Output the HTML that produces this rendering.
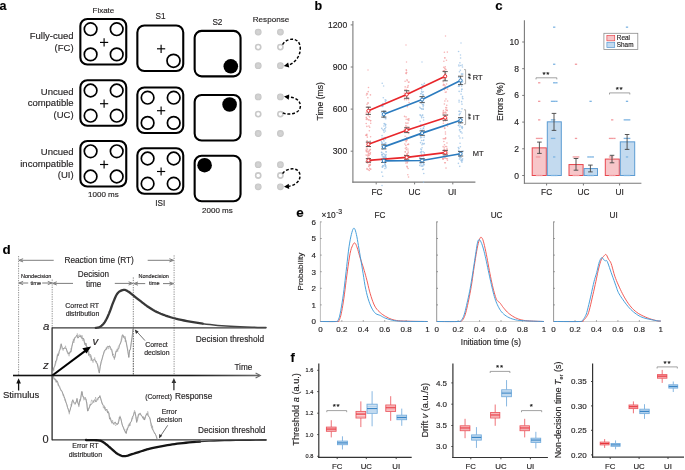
<!DOCTYPE html>
<html><head><meta charset="utf-8"><style>
html,body{margin:0;padding:0;background:#fff;}
svg{display:block;will-change:transform;}
text{font-family:"Liberation Sans", sans-serif;stroke:#222;stroke-width:0.15px;}
</style></head><body>
<svg width="685" height="470" viewBox="0 0 685 470">
<defs><radialGradient id="dotg"><stop offset="0" stop-color="#d6d6d6"/><stop offset="0.7" stop-color="#cdcdcd"/><stop offset="1" stop-color="#c2c2c2"/></radialGradient></defs>
<rect x="0" y="0" width="685" height="470" fill="#fff"/>
<text x="-0.40" y="9.80" font-size="12.5" text-anchor="start" font-weight="bold" font-style="normal" fill="#000" >a</text>
<text x="73.60" y="39.00" font-size="9.5" text-anchor="end" font-weight="normal" font-style="normal" fill="#231f20" >Fully-cued</text>
<text x="73.60" y="50.70" font-size="9.5" text-anchor="end" font-weight="normal" font-style="normal" fill="#231f20" >(FC)</text>
<text x="73.60" y="94.90" font-size="9.5" text-anchor="end" font-weight="normal" font-style="normal" fill="#231f20" >Uncued</text>
<text x="73.60" y="106.40" font-size="9.5" text-anchor="end" font-weight="normal" font-style="normal" fill="#231f20" >compatible</text>
<text x="73.60" y="117.90" font-size="9.5" text-anchor="end" font-weight="normal" font-style="normal" fill="#231f20" >(UC)</text>
<text x="73.60" y="155.30" font-size="9.5" text-anchor="end" font-weight="normal" font-style="normal" fill="#231f20" >Uncued</text>
<text x="73.60" y="166.80" font-size="9.5" text-anchor="end" font-weight="normal" font-style="normal" fill="#231f20" >incompatible</text>
<text x="73.60" y="178.30" font-size="9.5" text-anchor="end" font-weight="normal" font-style="normal" fill="#231f20" >(UI)</text>
<rect x="80.35" y="18.95" width="45.90" height="45.50" rx="7" fill="#fff" stroke="#000" stroke-width="2.1" />
<circle cx="90.60" cy="29.20" r="6.30" fill="none" stroke="#000" stroke-width="1.7" />
<circle cx="90.60" cy="54.40" r="6.30" fill="none" stroke="#000" stroke-width="1.7" />
<circle cx="116.70" cy="29.20" r="6.30" fill="none" stroke="#000" stroke-width="1.7" />
<circle cx="116.70" cy="54.40" r="6.30" fill="none" stroke="#000" stroke-width="1.7" />
<line x1="100.00" y1="42.40" x2="108.20" y2="42.40" stroke="#000" stroke-width="1.15" />
<line x1="104.10" y1="38.30" x2="104.10" y2="46.50" stroke="#000" stroke-width="1.15" />
<rect x="137.35" y="25.55" width="45.90" height="45.50" rx="7" fill="#fff" stroke="#000" stroke-width="2.1" />
<line x1="157.00" y1="48.80" x2="165.20" y2="48.80" stroke="#000" stroke-width="1.15" />
<line x1="161.10" y1="44.70" x2="161.10" y2="52.90" stroke="#000" stroke-width="1.15" />
<circle cx="173.50" cy="60.80" r="6.50" fill="none" stroke="#000" stroke-width="1.7" />
<rect x="194.65" y="30.85" width="45.90" height="45.50" rx="7" fill="#fff" stroke="#000" stroke-width="2.1" />
<circle cx="230.80" cy="66.30" r="7.30" fill="#000" stroke="none" stroke-width="1" />
<rect x="80.35" y="80.25" width="45.90" height="45.50" rx="7" fill="#fff" stroke="#000" stroke-width="2.1" />
<circle cx="90.60" cy="90.50" r="6.30" fill="none" stroke="#000" stroke-width="1.7" />
<circle cx="90.60" cy="115.70" r="6.30" fill="none" stroke="#000" stroke-width="1.7" />
<circle cx="116.70" cy="90.50" r="6.30" fill="none" stroke="#000" stroke-width="1.7" />
<circle cx="116.70" cy="115.70" r="6.30" fill="none" stroke="#000" stroke-width="1.7" />
<line x1="100.00" y1="103.70" x2="108.20" y2="103.70" stroke="#000" stroke-width="1.15" />
<line x1="104.10" y1="99.60" x2="104.10" y2="107.80" stroke="#000" stroke-width="1.15" />
<rect x="137.35" y="87.45" width="45.90" height="45.50" rx="7" fill="#fff" stroke="#000" stroke-width="2.1" />
<line x1="157.00" y1="110.70" x2="165.20" y2="110.70" stroke="#000" stroke-width="1.15" />
<line x1="161.10" y1="106.60" x2="161.10" y2="114.80" stroke="#000" stroke-width="1.15" />
<circle cx="147.60" cy="97.70" r="6.30" fill="none" stroke="#000" stroke-width="1.7" />
<circle cx="147.60" cy="122.90" r="6.30" fill="none" stroke="#000" stroke-width="1.7" />
<circle cx="173.70" cy="97.70" r="6.30" fill="none" stroke="#000" stroke-width="1.7" />
<circle cx="173.70" cy="122.90" r="6.30" fill="none" stroke="#000" stroke-width="1.7" />
<rect x="194.65" y="94.95" width="45.90" height="45.50" rx="7" fill="#fff" stroke="#000" stroke-width="2.1" />
<circle cx="229.60" cy="104.50" r="7.30" fill="#000" stroke="none" stroke-width="1" />
<rect x="80.35" y="141.05" width="45.90" height="45.50" rx="7" fill="#fff" stroke="#000" stroke-width="2.1" />
<circle cx="90.60" cy="151.30" r="6.30" fill="none" stroke="#000" stroke-width="1.7" />
<circle cx="90.60" cy="176.50" r="6.30" fill="none" stroke="#000" stroke-width="1.7" />
<circle cx="116.70" cy="151.30" r="6.30" fill="none" stroke="#000" stroke-width="1.7" />
<circle cx="116.70" cy="176.50" r="6.30" fill="none" stroke="#000" stroke-width="1.7" />
<line x1="100.00" y1="164.50" x2="108.20" y2="164.50" stroke="#000" stroke-width="1.15" />
<line x1="104.10" y1="160.40" x2="104.10" y2="168.60" stroke="#000" stroke-width="1.15" />
<rect x="137.35" y="148.25" width="45.90" height="45.50" rx="7" fill="#fff" stroke="#000" stroke-width="2.1" />
<line x1="157.00" y1="171.50" x2="165.20" y2="171.50" stroke="#000" stroke-width="1.15" />
<line x1="161.10" y1="167.40" x2="161.10" y2="175.60" stroke="#000" stroke-width="1.15" />
<circle cx="147.60" cy="158.50" r="6.30" fill="none" stroke="#000" stroke-width="1.7" />
<circle cx="147.60" cy="183.70" r="6.30" fill="none" stroke="#000" stroke-width="1.7" />
<circle cx="173.70" cy="158.50" r="6.30" fill="none" stroke="#000" stroke-width="1.7" />
<circle cx="173.70" cy="183.70" r="6.30" fill="none" stroke="#000" stroke-width="1.7" />
<rect x="194.65" y="155.75" width="45.90" height="45.50" rx="7" fill="#fff" stroke="#000" stroke-width="2.1" />
<circle cx="204.60" cy="165.20" r="7.30" fill="#000" stroke="none" stroke-width="1" />
<text x="103.40" y="13.00" font-size="8.0" text-anchor="middle" font-weight="normal" font-style="normal" fill="#231f20" >Fixate</text>
<text x="160.60" y="18.80" font-size="8.2" text-anchor="middle" font-weight="normal" font-style="normal" fill="#231f20" >S1</text>
<text x="217.40" y="25.30" font-size="8.2" text-anchor="middle" font-weight="normal" font-style="normal" fill="#231f20" >S2</text>
<text x="271.00" y="22.40" font-size="8.1" text-anchor="middle" font-weight="normal" font-style="normal" fill="#231f20" >Response</text>
<text x="103.40" y="197.40" font-size="8.0" text-anchor="middle" font-weight="normal" font-style="normal" fill="#231f20" >1000 ms</text>
<text x="160.30" y="206.10" font-size="8.2" text-anchor="middle" font-weight="normal" font-style="normal" fill="#231f20" >ISI</text>
<text x="217.40" y="212.80" font-size="8.0" text-anchor="middle" font-weight="normal" font-style="normal" fill="#231f20" >2000 ms</text>
<circle cx="258.20" cy="32.10" r="3.40" fill="url(#dotg)" stroke="none" stroke-width="1" />
<circle cx="258.20" cy="47.10" r="2.60" fill="#fff" stroke="#c9c9c9" stroke-width="1.6" />
<circle cx="258.20" cy="65.70" r="3.40" fill="url(#dotg)" stroke="none" stroke-width="1" />
<circle cx="280.40" cy="32.10" r="3.40" fill="url(#dotg)" stroke="none" stroke-width="1" />
<circle cx="280.40" cy="47.10" r="2.60" fill="#fff" stroke="#c9c9c9" stroke-width="1.6" />
<circle cx="280.40" cy="65.70" r="3.40" fill="url(#dotg)" stroke="none" stroke-width="1" />
<circle cx="258.20" cy="96.90" r="3.40" fill="url(#dotg)" stroke="none" stroke-width="1" />
<circle cx="258.20" cy="114.10" r="2.60" fill="#fff" stroke="#c9c9c9" stroke-width="1.6" />
<circle cx="258.20" cy="133.50" r="3.40" fill="url(#dotg)" stroke="none" stroke-width="1" />
<circle cx="280.40" cy="96.90" r="3.40" fill="url(#dotg)" stroke="none" stroke-width="1" />
<circle cx="280.40" cy="114.10" r="2.60" fill="#fff" stroke="#c9c9c9" stroke-width="1.6" />
<circle cx="280.40" cy="133.50" r="3.40" fill="url(#dotg)" stroke="none" stroke-width="1" />
<circle cx="258.20" cy="164.70" r="3.40" fill="url(#dotg)" stroke="none" stroke-width="1" />
<circle cx="258.20" cy="175.50" r="2.60" fill="#fff" stroke="#c9c9c9" stroke-width="1.6" />
<circle cx="258.20" cy="186.80" r="3.40" fill="url(#dotg)" stroke="none" stroke-width="1" />
<circle cx="280.40" cy="164.70" r="3.40" fill="url(#dotg)" stroke="none" stroke-width="1" />
<circle cx="280.40" cy="175.50" r="2.60" fill="#fff" stroke="#c9c9c9" stroke-width="1.6" />
<circle cx="280.40" cy="186.80" r="3.40" fill="url(#dotg)" stroke="none" stroke-width="1" />
<path d="M282.6,44.6 C286,38 299,36 300.2,47 C301,57 294,63 288.5,65.3" fill="none" stroke="#000" stroke-width="1.45" stroke-dasharray="2.9,1.8"/>
<polygon points="283.80,66.00 289.23,67.50 288.15,62.42" fill="#000"/>
<path d="M282.8,112.8 C290,116 300.5,113 300.4,106 C300,99 294,97.5 289,97" fill="none" stroke="#000" stroke-width="1.45" stroke-dasharray="2.9,1.8"/>
<polygon points="284.00,96.60 288.75,99.63 289.21,94.45" fill="#000"/>
<path d="M282.6,173.6 C286,168 299,166 300,175 C300.5,182 294,185.5 289,186.2" fill="none" stroke="#000" stroke-width="1.45" stroke-dasharray="2.9,1.8"/>
<polygon points="284.00,186.80 289.21,188.95 288.75,183.77" fill="#000"/>
<text x="314.60" y="9.80" font-size="12.5" text-anchor="start" font-weight="bold" font-style="normal" fill="#000" >b</text>
<line x1="352.90" y1="21.00" x2="352.90" y2="182.70" stroke="#7a7a7a" stroke-width="1.1" />
<line x1="352.40" y1="182.20" x2="475.40" y2="182.20" stroke="#7a7a7a" stroke-width="1.2" />
<line x1="350.70" y1="151.20" x2="352.90" y2="151.20" stroke="#7a7a7a" stroke-width="1" />
<text x="347.20" y="154.20" font-size="8.6" text-anchor="end" font-weight="normal" font-style="normal" fill="#231f20" >300</text>
<line x1="350.70" y1="109.10" x2="352.90" y2="109.10" stroke="#7a7a7a" stroke-width="1" />
<text x="347.20" y="112.10" font-size="8.6" text-anchor="end" font-weight="normal" font-style="normal" fill="#231f20" >600</text>
<line x1="350.70" y1="67.00" x2="352.90" y2="67.00" stroke="#7a7a7a" stroke-width="1" />
<text x="347.20" y="70.00" font-size="8.6" text-anchor="end" font-weight="normal" font-style="normal" fill="#231f20" >900</text>
<line x1="350.70" y1="24.90" x2="352.90" y2="24.90" stroke="#7a7a7a" stroke-width="1" />
<text x="347.20" y="27.90" font-size="8.6" text-anchor="end" font-weight="normal" font-style="normal" fill="#231f20" >1200</text>
<line x1="376.20" y1="182.20" x2="376.20" y2="184.40" stroke="#7a7a7a" stroke-width="1" />
<text x="377.00" y="195.00" font-size="8.3" text-anchor="middle" font-weight="normal" font-style="normal" fill="#231f20" >FC</text>
<line x1="414.60" y1="182.20" x2="414.60" y2="184.40" stroke="#7a7a7a" stroke-width="1" />
<text x="414.60" y="195.00" font-size="8.3" text-anchor="middle" font-weight="normal" font-style="normal" fill="#231f20" >UC</text>
<line x1="452.80" y1="182.20" x2="452.80" y2="184.40" stroke="#7a7a7a" stroke-width="1" />
<text x="452.20" y="195.00" font-size="8.3" text-anchor="middle" font-weight="normal" font-style="normal" fill="#231f20" >UI</text>
<text x="0.00" y="0.00" font-size="8.6" text-anchor="middle" font-weight="normal" font-style="normal" fill="#231f20" transform="translate(322.5,101.3) rotate(-90)">Time (ms)</text>
<circle cx="370.44" cy="94.89" r="0.80" fill="#f4a0a3" stroke="none" stroke-width="1" opacity="0.8"/>
<circle cx="368.24" cy="115.71" r="0.80" fill="#f4a0a3" stroke="none" stroke-width="1" opacity="0.8"/>
<circle cx="366.89" cy="93.52" r="0.80" fill="#f4a0a3" stroke="none" stroke-width="1" opacity="0.8"/>
<circle cx="368.46" cy="109.95" r="0.80" fill="#f4a0a3" stroke="none" stroke-width="1" opacity="0.8"/>
<circle cx="366.45" cy="94.99" r="0.80" fill="#f4a0a3" stroke="none" stroke-width="1" opacity="0.8"/>
<circle cx="367.46" cy="93.99" r="0.80" fill="#f4a0a3" stroke="none" stroke-width="1" opacity="0.8"/>
<circle cx="369.33" cy="130.74" r="0.80" fill="#f4a0a3" stroke="none" stroke-width="1" opacity="0.8"/>
<circle cx="366.20" cy="123.57" r="0.80" fill="#f4a0a3" stroke="none" stroke-width="1" opacity="0.8"/>
<circle cx="369.14" cy="144.22" r="0.80" fill="#f4a0a3" stroke="none" stroke-width="1" opacity="0.8"/>
<circle cx="368.95" cy="107.05" r="0.80" fill="#f4a0a3" stroke="none" stroke-width="1" opacity="0.8"/>
<circle cx="368.54" cy="112.04" r="0.80" fill="#f4a0a3" stroke="none" stroke-width="1" opacity="0.8"/>
<circle cx="366.29" cy="112.69" r="0.80" fill="#f4a0a3" stroke="none" stroke-width="1" opacity="0.8"/>
<circle cx="366.14" cy="114.35" r="0.80" fill="#f4a0a3" stroke="none" stroke-width="1" opacity="0.8"/>
<circle cx="368.23" cy="119.80" r="0.80" fill="#f4a0a3" stroke="none" stroke-width="1" opacity="0.8"/>
<circle cx="368.49" cy="87.53" r="0.80" fill="#f4a0a3" stroke="none" stroke-width="1" opacity="0.8"/>
<circle cx="369.07" cy="119.92" r="0.80" fill="#f4a0a3" stroke="none" stroke-width="1" opacity="0.8"/>
<circle cx="368.20" cy="91.64" r="0.80" fill="#f4a0a3" stroke="none" stroke-width="1" opacity="0.8"/>
<circle cx="367.34" cy="110.83" r="0.80" fill="#f4a0a3" stroke="none" stroke-width="1" opacity="0.8"/>
<circle cx="370.03" cy="153.70" r="0.80" fill="#f4a0a3" stroke="none" stroke-width="1" opacity="0.8"/>
<circle cx="369.40" cy="110.17" r="0.80" fill="#f4a0a3" stroke="none" stroke-width="1" opacity="0.8"/>
<circle cx="367.39" cy="107.06" r="0.80" fill="#f4a0a3" stroke="none" stroke-width="1" opacity="0.8"/>
<circle cx="366.34" cy="119.41" r="0.80" fill="#f4a0a3" stroke="none" stroke-width="1" opacity="0.8"/>
<circle cx="370.06" cy="112.14" r="0.80" fill="#f4a0a3" stroke="none" stroke-width="1" opacity="0.8"/>
<circle cx="367.86" cy="97.72" r="0.80" fill="#f4a0a3" stroke="none" stroke-width="1" opacity="0.8"/>
<circle cx="366.00" cy="135.13" r="0.80" fill="#f4a0a3" stroke="none" stroke-width="1" opacity="0.8"/>
<circle cx="367.01" cy="104.23" r="0.80" fill="#f4a0a3" stroke="none" stroke-width="1" opacity="0.8"/>
<circle cx="370.71" cy="123.18" r="0.80" fill="#f4a0a3" stroke="none" stroke-width="1" opacity="0.8"/>
<circle cx="367.91" cy="102.97" r="0.80" fill="#f4a0a3" stroke="none" stroke-width="1" opacity="0.8"/>
<circle cx="369.74" cy="127.22" r="0.80" fill="#f4a0a3" stroke="none" stroke-width="1" opacity="0.8"/>
<circle cx="367.29" cy="118.91" r="0.80" fill="#f4a0a3" stroke="none" stroke-width="1" opacity="0.8"/>
<circle cx="370.63" cy="120.78" r="0.80" fill="#f4a0a3" stroke="none" stroke-width="1" opacity="0.8"/>
<circle cx="369.64" cy="116.89" r="0.80" fill="#f4a0a3" stroke="none" stroke-width="1" opacity="0.8"/>
<circle cx="366.49" cy="118.01" r="0.80" fill="#f4a0a3" stroke="none" stroke-width="1" opacity="0.8"/>
<circle cx="366.29" cy="117.40" r="0.80" fill="#f4a0a3" stroke="none" stroke-width="1" opacity="0.8"/>
<circle cx="368.68" cy="113.17" r="0.80" fill="#f4a0a3" stroke="none" stroke-width="1" opacity="0.8"/>
<circle cx="368.15" cy="103.02" r="0.80" fill="#f4a0a3" stroke="none" stroke-width="1" opacity="0.8"/>
<circle cx="366.63" cy="150.21" r="0.80" fill="#f4a0a3" stroke="none" stroke-width="1" opacity="0.8"/>
<circle cx="369.09" cy="159.41" r="0.80" fill="#f4a0a3" stroke="none" stroke-width="1" opacity="0.8"/>
<circle cx="367.02" cy="152.07" r="0.80" fill="#f4a0a3" stroke="none" stroke-width="1" opacity="0.8"/>
<circle cx="367.30" cy="151.28" r="0.80" fill="#f4a0a3" stroke="none" stroke-width="1" opacity="0.8"/>
<circle cx="367.46" cy="162.04" r="0.80" fill="#f4a0a3" stroke="none" stroke-width="1" opacity="0.8"/>
<circle cx="370.25" cy="141.02" r="0.80" fill="#f4a0a3" stroke="none" stroke-width="1" opacity="0.8"/>
<circle cx="370.10" cy="146.75" r="0.80" fill="#f4a0a3" stroke="none" stroke-width="1" opacity="0.8"/>
<circle cx="369.08" cy="154.01" r="0.80" fill="#f4a0a3" stroke="none" stroke-width="1" opacity="0.8"/>
<circle cx="367.02" cy="168.63" r="0.80" fill="#f4a0a3" stroke="none" stroke-width="1" opacity="0.8"/>
<circle cx="367.24" cy="162.06" r="0.80" fill="#f4a0a3" stroke="none" stroke-width="1" opacity="0.8"/>
<circle cx="367.42" cy="145.57" r="0.80" fill="#f4a0a3" stroke="none" stroke-width="1" opacity="0.8"/>
<circle cx="366.35" cy="135.46" r="0.80" fill="#f4a0a3" stroke="none" stroke-width="1" opacity="0.8"/>
<circle cx="367.17" cy="155.46" r="0.80" fill="#f4a0a3" stroke="none" stroke-width="1" opacity="0.8"/>
<circle cx="368.89" cy="151.39" r="0.80" fill="#f4a0a3" stroke="none" stroke-width="1" opacity="0.8"/>
<circle cx="370.60" cy="136.69" r="0.80" fill="#f4a0a3" stroke="none" stroke-width="1" opacity="0.8"/>
<circle cx="368.32" cy="152.23" r="0.80" fill="#f4a0a3" stroke="none" stroke-width="1" opacity="0.8"/>
<circle cx="366.88" cy="126.39" r="0.80" fill="#f4a0a3" stroke="none" stroke-width="1" opacity="0.8"/>
<circle cx="366.74" cy="135.24" r="0.80" fill="#f4a0a3" stroke="none" stroke-width="1" opacity="0.8"/>
<circle cx="367.20" cy="159.78" r="0.80" fill="#f4a0a3" stroke="none" stroke-width="1" opacity="0.8"/>
<circle cx="366.91" cy="134.26" r="0.80" fill="#f4a0a3" stroke="none" stroke-width="1" opacity="0.8"/>
<circle cx="366.94" cy="142.72" r="0.80" fill="#f4a0a3" stroke="none" stroke-width="1" opacity="0.8"/>
<circle cx="370.56" cy="120.60" r="0.80" fill="#f4a0a3" stroke="none" stroke-width="1" opacity="0.8"/>
<circle cx="368.02" cy="154.34" r="0.80" fill="#f4a0a3" stroke="none" stroke-width="1" opacity="0.8"/>
<circle cx="366.50" cy="135.13" r="0.80" fill="#f4a0a3" stroke="none" stroke-width="1" opacity="0.8"/>
<circle cx="367.14" cy="169.19" r="0.80" fill="#f4a0a3" stroke="none" stroke-width="1" opacity="0.8"/>
<circle cx="369.38" cy="150.47" r="0.80" fill="#f4a0a3" stroke="none" stroke-width="1" opacity="0.8"/>
<circle cx="368.86" cy="143.48" r="0.80" fill="#f4a0a3" stroke="none" stroke-width="1" opacity="0.8"/>
<circle cx="367.41" cy="162.91" r="0.80" fill="#f4a0a3" stroke="none" stroke-width="1" opacity="0.8"/>
<circle cx="366.33" cy="151.51" r="0.80" fill="#f4a0a3" stroke="none" stroke-width="1" opacity="0.8"/>
<circle cx="367.10" cy="158.54" r="0.80" fill="#f4a0a3" stroke="none" stroke-width="1" opacity="0.8"/>
<circle cx="368.95" cy="126.08" r="0.80" fill="#f4a0a3" stroke="none" stroke-width="1" opacity="0.8"/>
<circle cx="367.35" cy="137.17" r="0.80" fill="#f4a0a3" stroke="none" stroke-width="1" opacity="0.8"/>
<circle cx="366.08" cy="150.16" r="0.80" fill="#f4a0a3" stroke="none" stroke-width="1" opacity="0.8"/>
<circle cx="367.29" cy="140.95" r="0.80" fill="#f4a0a3" stroke="none" stroke-width="1" opacity="0.8"/>
<circle cx="366.85" cy="140.97" r="0.80" fill="#f4a0a3" stroke="none" stroke-width="1" opacity="0.8"/>
<circle cx="367.77" cy="145.48" r="0.80" fill="#f4a0a3" stroke="none" stroke-width="1" opacity="0.8"/>
<circle cx="367.74" cy="157.06" r="0.80" fill="#f4a0a3" stroke="none" stroke-width="1" opacity="0.8"/>
<circle cx="370.28" cy="158.77" r="0.80" fill="#f4a0a3" stroke="none" stroke-width="1" opacity="0.8"/>
<circle cx="369.32" cy="170.56" r="0.80" fill="#f4a0a3" stroke="none" stroke-width="1" opacity="0.8"/>
<circle cx="368.81" cy="159.15" r="0.80" fill="#f4a0a3" stroke="none" stroke-width="1" opacity="0.8"/>
<circle cx="366.09" cy="161.59" r="0.80" fill="#f4a0a3" stroke="none" stroke-width="1" opacity="0.8"/>
<circle cx="370.37" cy="161.84" r="0.80" fill="#f4a0a3" stroke="none" stroke-width="1" opacity="0.8"/>
<circle cx="366.10" cy="154.95" r="0.80" fill="#f4a0a3" stroke="none" stroke-width="1" opacity="0.8"/>
<circle cx="369.05" cy="143.29" r="0.80" fill="#f4a0a3" stroke="none" stroke-width="1" opacity="0.8"/>
<circle cx="367.53" cy="149.13" r="0.80" fill="#f4a0a3" stroke="none" stroke-width="1" opacity="0.8"/>
<circle cx="370.80" cy="161.66" r="0.80" fill="#f4a0a3" stroke="none" stroke-width="1" opacity="0.8"/>
<circle cx="369.54" cy="168.23" r="0.80" fill="#f4a0a3" stroke="none" stroke-width="1" opacity="0.8"/>
<circle cx="370.32" cy="164.41" r="0.80" fill="#f4a0a3" stroke="none" stroke-width="1" opacity="0.8"/>
<circle cx="369.81" cy="159.52" r="0.80" fill="#f4a0a3" stroke="none" stroke-width="1" opacity="0.8"/>
<circle cx="370.39" cy="149.52" r="0.80" fill="#f4a0a3" stroke="none" stroke-width="1" opacity="0.8"/>
<circle cx="370.32" cy="154.05" r="0.80" fill="#f4a0a3" stroke="none" stroke-width="1" opacity="0.8"/>
<circle cx="370.18" cy="168.94" r="0.80" fill="#f4a0a3" stroke="none" stroke-width="1" opacity="0.8"/>
<circle cx="370.14" cy="149.66" r="0.80" fill="#f4a0a3" stroke="none" stroke-width="1" opacity="0.8"/>
<circle cx="368.75" cy="166.56" r="0.80" fill="#f4a0a3" stroke="none" stroke-width="1" opacity="0.8"/>
<circle cx="368.80" cy="155.54" r="0.80" fill="#f4a0a3" stroke="none" stroke-width="1" opacity="0.8"/>
<circle cx="368.92" cy="155.54" r="0.80" fill="#f4a0a3" stroke="none" stroke-width="1" opacity="0.8"/>
<circle cx="370.77" cy="169.16" r="0.80" fill="#f4a0a3" stroke="none" stroke-width="1" opacity="0.8"/>
<circle cx="370.22" cy="165.23" r="0.80" fill="#f4a0a3" stroke="none" stroke-width="1" opacity="0.8"/>
<circle cx="369.53" cy="159.45" r="0.80" fill="#f4a0a3" stroke="none" stroke-width="1" opacity="0.8"/>
<circle cx="368.79" cy="153.52" r="0.80" fill="#f4a0a3" stroke="none" stroke-width="1" opacity="0.8"/>
<circle cx="366.40" cy="147.96" r="0.80" fill="#f4a0a3" stroke="none" stroke-width="1" opacity="0.8"/>
<circle cx="369.60" cy="165.28" r="0.80" fill="#f4a0a3" stroke="none" stroke-width="1" opacity="0.8"/>
<circle cx="368.31" cy="169.73" r="0.80" fill="#f4a0a3" stroke="none" stroke-width="1" opacity="0.8"/>
<circle cx="367.11" cy="162.17" r="0.80" fill="#f4a0a3" stroke="none" stroke-width="1" opacity="0.8"/>
<circle cx="368.95" cy="157.78" r="0.80" fill="#f4a0a3" stroke="none" stroke-width="1" opacity="0.8"/>
<circle cx="370.42" cy="152.62" r="0.80" fill="#f4a0a3" stroke="none" stroke-width="1" opacity="0.8"/>
<circle cx="367.44" cy="160.36" r="0.80" fill="#f4a0a3" stroke="none" stroke-width="1" opacity="0.8"/>
<circle cx="369.26" cy="161.45" r="0.80" fill="#f4a0a3" stroke="none" stroke-width="1" opacity="0.8"/>
<circle cx="370.35" cy="161.65" r="0.80" fill="#f4a0a3" stroke="none" stroke-width="1" opacity="0.8"/>
<circle cx="369.17" cy="164.48" r="0.80" fill="#f4a0a3" stroke="none" stroke-width="1" opacity="0.8"/>
<circle cx="367.57" cy="146.61" r="0.80" fill="#f4a0a3" stroke="none" stroke-width="1" opacity="0.8"/>
<circle cx="369.20" cy="165.67" r="0.80" fill="#f4a0a3" stroke="none" stroke-width="1" opacity="0.8"/>
<circle cx="385.27" cy="118.59" r="0.80" fill="#9cc3e6" stroke="none" stroke-width="1" opacity="0.8"/>
<circle cx="385.79" cy="127.29" r="0.80" fill="#9cc3e6" stroke="none" stroke-width="1" opacity="0.8"/>
<circle cx="384.20" cy="123.55" r="0.80" fill="#9cc3e6" stroke="none" stroke-width="1" opacity="0.8"/>
<circle cx="382.92" cy="105.45" r="0.80" fill="#9cc3e6" stroke="none" stroke-width="1" opacity="0.8"/>
<circle cx="385.42" cy="124.19" r="0.80" fill="#9cc3e6" stroke="none" stroke-width="1" opacity="0.8"/>
<circle cx="385.47" cy="125.70" r="0.80" fill="#9cc3e6" stroke="none" stroke-width="1" opacity="0.8"/>
<circle cx="382.73" cy="106.52" r="0.80" fill="#9cc3e6" stroke="none" stroke-width="1" opacity="0.8"/>
<circle cx="382.21" cy="83.32" r="0.80" fill="#9cc3e6" stroke="none" stroke-width="1" opacity="0.8"/>
<circle cx="382.43" cy="104.27" r="0.80" fill="#9cc3e6" stroke="none" stroke-width="1" opacity="0.8"/>
<circle cx="383.39" cy="117.38" r="0.80" fill="#9cc3e6" stroke="none" stroke-width="1" opacity="0.8"/>
<circle cx="382.91" cy="103.52" r="0.80" fill="#9cc3e6" stroke="none" stroke-width="1" opacity="0.8"/>
<circle cx="385.43" cy="103.42" r="0.80" fill="#9cc3e6" stroke="none" stroke-width="1" opacity="0.8"/>
<circle cx="381.76" cy="128.38" r="0.80" fill="#9cc3e6" stroke="none" stroke-width="1" opacity="0.8"/>
<circle cx="381.55" cy="112.59" r="0.80" fill="#9cc3e6" stroke="none" stroke-width="1" opacity="0.8"/>
<circle cx="384.80" cy="116.84" r="0.80" fill="#9cc3e6" stroke="none" stroke-width="1" opacity="0.8"/>
<circle cx="384.14" cy="111.49" r="0.80" fill="#9cc3e6" stroke="none" stroke-width="1" opacity="0.8"/>
<circle cx="381.49" cy="105.86" r="0.80" fill="#9cc3e6" stroke="none" stroke-width="1" opacity="0.8"/>
<circle cx="382.05" cy="135.66" r="0.80" fill="#9cc3e6" stroke="none" stroke-width="1" opacity="0.8"/>
<circle cx="385.38" cy="111.41" r="0.80" fill="#9cc3e6" stroke="none" stroke-width="1" opacity="0.8"/>
<circle cx="382.54" cy="115.01" r="0.80" fill="#9cc3e6" stroke="none" stroke-width="1" opacity="0.8"/>
<circle cx="384.42" cy="116.75" r="0.80" fill="#9cc3e6" stroke="none" stroke-width="1" opacity="0.8"/>
<circle cx="383.54" cy="117.32" r="0.80" fill="#9cc3e6" stroke="none" stroke-width="1" opacity="0.8"/>
<circle cx="385.28" cy="101.21" r="0.80" fill="#9cc3e6" stroke="none" stroke-width="1" opacity="0.8"/>
<circle cx="386.00" cy="100.38" r="0.80" fill="#9cc3e6" stroke="none" stroke-width="1" opacity="0.8"/>
<circle cx="383.68" cy="110.73" r="0.80" fill="#9cc3e6" stroke="none" stroke-width="1" opacity="0.8"/>
<circle cx="382.26" cy="106.26" r="0.80" fill="#9cc3e6" stroke="none" stroke-width="1" opacity="0.8"/>
<circle cx="384.83" cy="128.86" r="0.80" fill="#9cc3e6" stroke="none" stroke-width="1" opacity="0.8"/>
<circle cx="382.26" cy="115.19" r="0.80" fill="#9cc3e6" stroke="none" stroke-width="1" opacity="0.8"/>
<circle cx="384.75" cy="112.52" r="0.80" fill="#9cc3e6" stroke="none" stroke-width="1" opacity="0.8"/>
<circle cx="383.90" cy="126.06" r="0.80" fill="#9cc3e6" stroke="none" stroke-width="1" opacity="0.8"/>
<circle cx="383.29" cy="97.77" r="0.80" fill="#9cc3e6" stroke="none" stroke-width="1" opacity="0.8"/>
<circle cx="385.20" cy="99.81" r="0.80" fill="#9cc3e6" stroke="none" stroke-width="1" opacity="0.8"/>
<circle cx="385.88" cy="118.82" r="0.80" fill="#9cc3e6" stroke="none" stroke-width="1" opacity="0.8"/>
<circle cx="384.87" cy="111.11" r="0.80" fill="#9cc3e6" stroke="none" stroke-width="1" opacity="0.8"/>
<circle cx="384.40" cy="123.99" r="0.80" fill="#9cc3e6" stroke="none" stroke-width="1" opacity="0.8"/>
<circle cx="385.77" cy="124.61" r="0.80" fill="#9cc3e6" stroke="none" stroke-width="1" opacity="0.8"/>
<circle cx="385.62" cy="137.62" r="0.80" fill="#9cc3e6" stroke="none" stroke-width="1" opacity="0.8"/>
<circle cx="385.22" cy="155.97" r="0.80" fill="#9cc3e6" stroke="none" stroke-width="1" opacity="0.8"/>
<circle cx="384.53" cy="157.39" r="0.80" fill="#9cc3e6" stroke="none" stroke-width="1" opacity="0.8"/>
<circle cx="382.38" cy="143.07" r="0.80" fill="#9cc3e6" stroke="none" stroke-width="1" opacity="0.8"/>
<circle cx="384.48" cy="143.66" r="0.80" fill="#9cc3e6" stroke="none" stroke-width="1" opacity="0.8"/>
<circle cx="384.84" cy="128.72" r="0.80" fill="#9cc3e6" stroke="none" stroke-width="1" opacity="0.8"/>
<circle cx="386.11" cy="151.80" r="0.80" fill="#9cc3e6" stroke="none" stroke-width="1" opacity="0.8"/>
<circle cx="386.09" cy="167.79" r="0.80" fill="#9cc3e6" stroke="none" stroke-width="1" opacity="0.8"/>
<circle cx="382.94" cy="129.69" r="0.80" fill="#9cc3e6" stroke="none" stroke-width="1" opacity="0.8"/>
<circle cx="385.77" cy="142.83" r="0.80" fill="#9cc3e6" stroke="none" stroke-width="1" opacity="0.8"/>
<circle cx="381.80" cy="152.61" r="0.80" fill="#9cc3e6" stroke="none" stroke-width="1" opacity="0.8"/>
<circle cx="383.52" cy="139.61" r="0.80" fill="#9cc3e6" stroke="none" stroke-width="1" opacity="0.8"/>
<circle cx="383.74" cy="130.65" r="0.80" fill="#9cc3e6" stroke="none" stroke-width="1" opacity="0.8"/>
<circle cx="381.54" cy="141.59" r="0.80" fill="#9cc3e6" stroke="none" stroke-width="1" opacity="0.8"/>
<circle cx="385.24" cy="148.22" r="0.80" fill="#9cc3e6" stroke="none" stroke-width="1" opacity="0.8"/>
<circle cx="382.23" cy="143.51" r="0.80" fill="#9cc3e6" stroke="none" stroke-width="1" opacity="0.8"/>
<circle cx="382.07" cy="137.93" r="0.80" fill="#9cc3e6" stroke="none" stroke-width="1" opacity="0.8"/>
<circle cx="382.11" cy="162.06" r="0.80" fill="#9cc3e6" stroke="none" stroke-width="1" opacity="0.8"/>
<circle cx="385.43" cy="130.95" r="0.80" fill="#9cc3e6" stroke="none" stroke-width="1" opacity="0.8"/>
<circle cx="384.71" cy="145.24" r="0.80" fill="#9cc3e6" stroke="none" stroke-width="1" opacity="0.8"/>
<circle cx="385.96" cy="157.88" r="0.80" fill="#9cc3e6" stroke="none" stroke-width="1" opacity="0.8"/>
<circle cx="381.81" cy="143.01" r="0.80" fill="#9cc3e6" stroke="none" stroke-width="1" opacity="0.8"/>
<circle cx="382.79" cy="149.08" r="0.80" fill="#9cc3e6" stroke="none" stroke-width="1" opacity="0.8"/>
<circle cx="384.90" cy="158.93" r="0.80" fill="#9cc3e6" stroke="none" stroke-width="1" opacity="0.8"/>
<circle cx="385.45" cy="139.08" r="0.80" fill="#9cc3e6" stroke="none" stroke-width="1" opacity="0.8"/>
<circle cx="384.09" cy="137.58" r="0.80" fill="#9cc3e6" stroke="none" stroke-width="1" opacity="0.8"/>
<circle cx="385.46" cy="143.20" r="0.80" fill="#9cc3e6" stroke="none" stroke-width="1" opacity="0.8"/>
<circle cx="385.72" cy="155.97" r="0.80" fill="#9cc3e6" stroke="none" stroke-width="1" opacity="0.8"/>
<circle cx="386.05" cy="151.96" r="0.80" fill="#9cc3e6" stroke="none" stroke-width="1" opacity="0.8"/>
<circle cx="383.92" cy="165.74" r="0.80" fill="#9cc3e6" stroke="none" stroke-width="1" opacity="0.8"/>
<circle cx="383.97" cy="140.89" r="0.80" fill="#9cc3e6" stroke="none" stroke-width="1" opacity="0.8"/>
<circle cx="383.82" cy="143.93" r="0.80" fill="#9cc3e6" stroke="none" stroke-width="1" opacity="0.8"/>
<circle cx="386.05" cy="145.03" r="0.80" fill="#9cc3e6" stroke="none" stroke-width="1" opacity="0.8"/>
<circle cx="383.88" cy="145.44" r="0.80" fill="#9cc3e6" stroke="none" stroke-width="1" opacity="0.8"/>
<circle cx="384.10" cy="132.32" r="0.80" fill="#9cc3e6" stroke="none" stroke-width="1" opacity="0.8"/>
<circle cx="383.76" cy="157.41" r="0.80" fill="#9cc3e6" stroke="none" stroke-width="1" opacity="0.8"/>
<circle cx="383.99" cy="159.96" r="0.80" fill="#9cc3e6" stroke="none" stroke-width="1" opacity="0.8"/>
<circle cx="383.39" cy="158.49" r="0.80" fill="#9cc3e6" stroke="none" stroke-width="1" opacity="0.8"/>
<circle cx="382.69" cy="176.19" r="0.80" fill="#9cc3e6" stroke="none" stroke-width="1" opacity="0.8"/>
<circle cx="383.67" cy="156.65" r="0.80" fill="#9cc3e6" stroke="none" stroke-width="1" opacity="0.8"/>
<circle cx="385.32" cy="166.11" r="0.80" fill="#9cc3e6" stroke="none" stroke-width="1" opacity="0.8"/>
<circle cx="385.72" cy="166.24" r="0.80" fill="#9cc3e6" stroke="none" stroke-width="1" opacity="0.8"/>
<circle cx="382.32" cy="154.85" r="0.80" fill="#9cc3e6" stroke="none" stroke-width="1" opacity="0.8"/>
<circle cx="384.37" cy="161.80" r="0.80" fill="#9cc3e6" stroke="none" stroke-width="1" opacity="0.8"/>
<circle cx="385.14" cy="164.19" r="0.80" fill="#9cc3e6" stroke="none" stroke-width="1" opacity="0.8"/>
<circle cx="381.51" cy="159.23" r="0.80" fill="#9cc3e6" stroke="none" stroke-width="1" opacity="0.8"/>
<circle cx="384.70" cy="162.63" r="0.80" fill="#9cc3e6" stroke="none" stroke-width="1" opacity="0.8"/>
<circle cx="382.95" cy="165.62" r="0.80" fill="#9cc3e6" stroke="none" stroke-width="1" opacity="0.8"/>
<circle cx="381.90" cy="154.92" r="0.80" fill="#9cc3e6" stroke="none" stroke-width="1" opacity="0.8"/>
<circle cx="384.91" cy="168.58" r="0.80" fill="#9cc3e6" stroke="none" stroke-width="1" opacity="0.8"/>
<circle cx="382.60" cy="166.90" r="0.80" fill="#9cc3e6" stroke="none" stroke-width="1" opacity="0.8"/>
<circle cx="382.35" cy="166.73" r="0.80" fill="#9cc3e6" stroke="none" stroke-width="1" opacity="0.8"/>
<circle cx="383.20" cy="153.54" r="0.80" fill="#9cc3e6" stroke="none" stroke-width="1" opacity="0.8"/>
<circle cx="383.38" cy="159.48" r="0.80" fill="#9cc3e6" stroke="none" stroke-width="1" opacity="0.8"/>
<circle cx="382.38" cy="156.84" r="0.80" fill="#9cc3e6" stroke="none" stroke-width="1" opacity="0.8"/>
<circle cx="384.43" cy="160.14" r="0.80" fill="#9cc3e6" stroke="none" stroke-width="1" opacity="0.8"/>
<circle cx="385.49" cy="155.36" r="0.80" fill="#9cc3e6" stroke="none" stroke-width="1" opacity="0.8"/>
<circle cx="384.34" cy="154.33" r="0.80" fill="#9cc3e6" stroke="none" stroke-width="1" opacity="0.8"/>
<circle cx="384.96" cy="164.07" r="0.80" fill="#9cc3e6" stroke="none" stroke-width="1" opacity="0.8"/>
<circle cx="385.29" cy="156.91" r="0.80" fill="#9cc3e6" stroke="none" stroke-width="1" opacity="0.8"/>
<circle cx="382.91" cy="165.89" r="0.80" fill="#9cc3e6" stroke="none" stroke-width="1" opacity="0.8"/>
<circle cx="385.83" cy="157.40" r="0.80" fill="#9cc3e6" stroke="none" stroke-width="1" opacity="0.8"/>
<circle cx="385.66" cy="165.88" r="0.80" fill="#9cc3e6" stroke="none" stroke-width="1" opacity="0.8"/>
<circle cx="382.04" cy="185.46" r="0.80" fill="#9cc3e6" stroke="none" stroke-width="1" opacity="0.8"/>
<circle cx="382.65" cy="161.65" r="0.80" fill="#9cc3e6" stroke="none" stroke-width="1" opacity="0.8"/>
<circle cx="381.87" cy="172.15" r="0.80" fill="#9cc3e6" stroke="none" stroke-width="1" opacity="0.8"/>
<circle cx="385.19" cy="164.52" r="0.80" fill="#9cc3e6" stroke="none" stroke-width="1" opacity="0.8"/>
<circle cx="382.00" cy="154.53" r="0.80" fill="#9cc3e6" stroke="none" stroke-width="1" opacity="0.8"/>
<circle cx="381.49" cy="152.18" r="0.80" fill="#9cc3e6" stroke="none" stroke-width="1" opacity="0.8"/>
<circle cx="382.36" cy="167.00" r="0.80" fill="#9cc3e6" stroke="none" stroke-width="1" opacity="0.8"/>
<circle cx="386.05" cy="154.55" r="0.80" fill="#9cc3e6" stroke="none" stroke-width="1" opacity="0.8"/>
<circle cx="381.95" cy="146.86" r="0.80" fill="#9cc3e6" stroke="none" stroke-width="1" opacity="0.8"/>
<circle cx="406.71" cy="72.61" r="0.80" fill="#f4a0a3" stroke="none" stroke-width="1" opacity="0.8"/>
<circle cx="407.59" cy="93.72" r="0.80" fill="#f4a0a3" stroke="none" stroke-width="1" opacity="0.8"/>
<circle cx="404.81" cy="96.36" r="0.80" fill="#f4a0a3" stroke="none" stroke-width="1" opacity="0.8"/>
<circle cx="404.48" cy="99.11" r="0.80" fill="#f4a0a3" stroke="none" stroke-width="1" opacity="0.8"/>
<circle cx="407.03" cy="79.68" r="0.80" fill="#f4a0a3" stroke="none" stroke-width="1" opacity="0.8"/>
<circle cx="405.00" cy="89.51" r="0.80" fill="#f4a0a3" stroke="none" stroke-width="1" opacity="0.8"/>
<circle cx="408.33" cy="98.01" r="0.80" fill="#f4a0a3" stroke="none" stroke-width="1" opacity="0.8"/>
<circle cx="409.05" cy="102.55" r="0.80" fill="#f4a0a3" stroke="none" stroke-width="1" opacity="0.8"/>
<circle cx="404.60" cy="99.71" r="0.80" fill="#f4a0a3" stroke="none" stroke-width="1" opacity="0.8"/>
<circle cx="408.87" cy="91.92" r="0.80" fill="#f4a0a3" stroke="none" stroke-width="1" opacity="0.8"/>
<circle cx="405.87" cy="73.01" r="0.80" fill="#f4a0a3" stroke="none" stroke-width="1" opacity="0.8"/>
<circle cx="406.54" cy="99.72" r="0.80" fill="#f4a0a3" stroke="none" stroke-width="1" opacity="0.8"/>
<circle cx="407.18" cy="80.78" r="0.80" fill="#f4a0a3" stroke="none" stroke-width="1" opacity="0.8"/>
<circle cx="404.36" cy="93.18" r="0.80" fill="#f4a0a3" stroke="none" stroke-width="1" opacity="0.8"/>
<circle cx="405.17" cy="86.91" r="0.80" fill="#f4a0a3" stroke="none" stroke-width="1" opacity="0.8"/>
<circle cx="406.48" cy="70.61" r="0.80" fill="#f4a0a3" stroke="none" stroke-width="1" opacity="0.8"/>
<circle cx="405.24" cy="93.61" r="0.80" fill="#f4a0a3" stroke="none" stroke-width="1" opacity="0.8"/>
<circle cx="405.09" cy="81.28" r="0.80" fill="#f4a0a3" stroke="none" stroke-width="1" opacity="0.8"/>
<circle cx="408.59" cy="92.22" r="0.80" fill="#f4a0a3" stroke="none" stroke-width="1" opacity="0.8"/>
<circle cx="408.15" cy="94.32" r="0.80" fill="#f4a0a3" stroke="none" stroke-width="1" opacity="0.8"/>
<circle cx="407.32" cy="87.25" r="0.80" fill="#f4a0a3" stroke="none" stroke-width="1" opacity="0.8"/>
<circle cx="406.24" cy="69.73" r="0.80" fill="#f4a0a3" stroke="none" stroke-width="1" opacity="0.8"/>
<circle cx="409.02" cy="82.02" r="0.80" fill="#f4a0a3" stroke="none" stroke-width="1" opacity="0.8"/>
<circle cx="408.16" cy="85.48" r="0.80" fill="#f4a0a3" stroke="none" stroke-width="1" opacity="0.8"/>
<circle cx="407.87" cy="93.01" r="0.80" fill="#f4a0a3" stroke="none" stroke-width="1" opacity="0.8"/>
<circle cx="408.03" cy="123.08" r="0.80" fill="#f4a0a3" stroke="none" stroke-width="1" opacity="0.8"/>
<circle cx="408.60" cy="99.74" r="0.80" fill="#f4a0a3" stroke="none" stroke-width="1" opacity="0.8"/>
<circle cx="408.52" cy="82.32" r="0.80" fill="#f4a0a3" stroke="none" stroke-width="1" opacity="0.8"/>
<circle cx="407.97" cy="86.95" r="0.80" fill="#f4a0a3" stroke="none" stroke-width="1" opacity="0.8"/>
<circle cx="406.25" cy="73.62" r="0.80" fill="#f4a0a3" stroke="none" stroke-width="1" opacity="0.8"/>
<circle cx="405.94" cy="93.65" r="0.80" fill="#f4a0a3" stroke="none" stroke-width="1" opacity="0.8"/>
<circle cx="406.55" cy="89.60" r="0.80" fill="#f4a0a3" stroke="none" stroke-width="1" opacity="0.8"/>
<circle cx="407.37" cy="106.66" r="0.80" fill="#f4a0a3" stroke="none" stroke-width="1" opacity="0.8"/>
<circle cx="407.30" cy="95.31" r="0.80" fill="#f4a0a3" stroke="none" stroke-width="1" opacity="0.8"/>
<circle cx="407.50" cy="98.01" r="0.80" fill="#f4a0a3" stroke="none" stroke-width="1" opacity="0.8"/>
<circle cx="405.92" cy="125.58" r="0.80" fill="#f4a0a3" stroke="none" stroke-width="1" opacity="0.8"/>
<circle cx="406.86" cy="123.23" r="0.80" fill="#f4a0a3" stroke="none" stroke-width="1" opacity="0.8"/>
<circle cx="406.17" cy="119.25" r="0.80" fill="#f4a0a3" stroke="none" stroke-width="1" opacity="0.8"/>
<circle cx="407.67" cy="144.54" r="0.80" fill="#f4a0a3" stroke="none" stroke-width="1" opacity="0.8"/>
<circle cx="407.96" cy="130.19" r="0.80" fill="#f4a0a3" stroke="none" stroke-width="1" opacity="0.8"/>
<circle cx="407.25" cy="132.33" r="0.80" fill="#f4a0a3" stroke="none" stroke-width="1" opacity="0.8"/>
<circle cx="407.85" cy="129.93" r="0.80" fill="#f4a0a3" stroke="none" stroke-width="1" opacity="0.8"/>
<circle cx="404.54" cy="129.78" r="0.80" fill="#f4a0a3" stroke="none" stroke-width="1" opacity="0.8"/>
<circle cx="405.24" cy="140.32" r="0.80" fill="#f4a0a3" stroke="none" stroke-width="1" opacity="0.8"/>
<circle cx="405.50" cy="126.97" r="0.80" fill="#f4a0a3" stroke="none" stroke-width="1" opacity="0.8"/>
<circle cx="408.65" cy="133.41" r="0.80" fill="#f4a0a3" stroke="none" stroke-width="1" opacity="0.8"/>
<circle cx="408.94" cy="118.88" r="0.80" fill="#f4a0a3" stroke="none" stroke-width="1" opacity="0.8"/>
<circle cx="407.03" cy="126.52" r="0.80" fill="#f4a0a3" stroke="none" stroke-width="1" opacity="0.8"/>
<circle cx="408.19" cy="144.45" r="0.80" fill="#f4a0a3" stroke="none" stroke-width="1" opacity="0.8"/>
<circle cx="404.67" cy="129.76" r="0.80" fill="#f4a0a3" stroke="none" stroke-width="1" opacity="0.8"/>
<circle cx="404.52" cy="116.40" r="0.80" fill="#f4a0a3" stroke="none" stroke-width="1" opacity="0.8"/>
<circle cx="408.76" cy="120.49" r="0.80" fill="#f4a0a3" stroke="none" stroke-width="1" opacity="0.8"/>
<circle cx="405.11" cy="136.26" r="0.80" fill="#f4a0a3" stroke="none" stroke-width="1" opacity="0.8"/>
<circle cx="406.68" cy="139.74" r="0.80" fill="#f4a0a3" stroke="none" stroke-width="1" opacity="0.8"/>
<circle cx="408.84" cy="127.54" r="0.80" fill="#f4a0a3" stroke="none" stroke-width="1" opacity="0.8"/>
<circle cx="406.32" cy="127.97" r="0.80" fill="#f4a0a3" stroke="none" stroke-width="1" opacity="0.8"/>
<circle cx="406.05" cy="116.89" r="0.80" fill="#f4a0a3" stroke="none" stroke-width="1" opacity="0.8"/>
<circle cx="405.67" cy="127.94" r="0.80" fill="#f4a0a3" stroke="none" stroke-width="1" opacity="0.8"/>
<circle cx="405.66" cy="123.00" r="0.80" fill="#f4a0a3" stroke="none" stroke-width="1" opacity="0.8"/>
<circle cx="407.74" cy="119.59" r="0.80" fill="#f4a0a3" stroke="none" stroke-width="1" opacity="0.8"/>
<circle cx="405.48" cy="129.72" r="0.80" fill="#f4a0a3" stroke="none" stroke-width="1" opacity="0.8"/>
<circle cx="404.51" cy="131.81" r="0.80" fill="#f4a0a3" stroke="none" stroke-width="1" opacity="0.8"/>
<circle cx="406.17" cy="139.48" r="0.80" fill="#f4a0a3" stroke="none" stroke-width="1" opacity="0.8"/>
<circle cx="408.61" cy="144.16" r="0.80" fill="#f4a0a3" stroke="none" stroke-width="1" opacity="0.8"/>
<circle cx="409.05" cy="130.17" r="0.80" fill="#f4a0a3" stroke="none" stroke-width="1" opacity="0.8"/>
<circle cx="408.83" cy="126.99" r="0.80" fill="#f4a0a3" stroke="none" stroke-width="1" opacity="0.8"/>
<circle cx="406.36" cy="149.65" r="0.80" fill="#f4a0a3" stroke="none" stroke-width="1" opacity="0.8"/>
<circle cx="406.59" cy="139.88" r="0.80" fill="#f4a0a3" stroke="none" stroke-width="1" opacity="0.8"/>
<circle cx="406.81" cy="137.57" r="0.80" fill="#f4a0a3" stroke="none" stroke-width="1" opacity="0.8"/>
<circle cx="408.80" cy="128.95" r="0.80" fill="#f4a0a3" stroke="none" stroke-width="1" opacity="0.8"/>
<circle cx="409.00" cy="128.28" r="0.80" fill="#f4a0a3" stroke="none" stroke-width="1" opacity="0.8"/>
<circle cx="408.22" cy="119.12" r="0.80" fill="#f4a0a3" stroke="none" stroke-width="1" opacity="0.8"/>
<circle cx="407.30" cy="154.65" r="0.80" fill="#f4a0a3" stroke="none" stroke-width="1" opacity="0.8"/>
<circle cx="406.49" cy="155.30" r="0.80" fill="#f4a0a3" stroke="none" stroke-width="1" opacity="0.8"/>
<circle cx="406.83" cy="158.06" r="0.80" fill="#f4a0a3" stroke="none" stroke-width="1" opacity="0.8"/>
<circle cx="404.90" cy="159.59" r="0.80" fill="#f4a0a3" stroke="none" stroke-width="1" opacity="0.8"/>
<circle cx="406.49" cy="147.67" r="0.80" fill="#f4a0a3" stroke="none" stroke-width="1" opacity="0.8"/>
<circle cx="405.56" cy="161.05" r="0.80" fill="#f4a0a3" stroke="none" stroke-width="1" opacity="0.8"/>
<circle cx="408.03" cy="151.05" r="0.80" fill="#f4a0a3" stroke="none" stroke-width="1" opacity="0.8"/>
<circle cx="406.85" cy="153.79" r="0.80" fill="#f4a0a3" stroke="none" stroke-width="1" opacity="0.8"/>
<circle cx="407.82" cy="174.69" r="0.80" fill="#f4a0a3" stroke="none" stroke-width="1" opacity="0.8"/>
<circle cx="405.44" cy="157.14" r="0.80" fill="#f4a0a3" stroke="none" stroke-width="1" opacity="0.8"/>
<circle cx="408.06" cy="168.56" r="0.80" fill="#f4a0a3" stroke="none" stroke-width="1" opacity="0.8"/>
<circle cx="407.30" cy="167.10" r="0.80" fill="#f4a0a3" stroke="none" stroke-width="1" opacity="0.8"/>
<circle cx="407.59" cy="153.87" r="0.80" fill="#f4a0a3" stroke="none" stroke-width="1" opacity="0.8"/>
<circle cx="407.01" cy="161.71" r="0.80" fill="#f4a0a3" stroke="none" stroke-width="1" opacity="0.8"/>
<circle cx="407.92" cy="149.09" r="0.80" fill="#f4a0a3" stroke="none" stroke-width="1" opacity="0.8"/>
<circle cx="405.21" cy="152.00" r="0.80" fill="#f4a0a3" stroke="none" stroke-width="1" opacity="0.8"/>
<circle cx="408.70" cy="157.53" r="0.80" fill="#f4a0a3" stroke="none" stroke-width="1" opacity="0.8"/>
<circle cx="408.52" cy="176.94" r="0.80" fill="#f4a0a3" stroke="none" stroke-width="1" opacity="0.8"/>
<circle cx="405.60" cy="159.80" r="0.80" fill="#f4a0a3" stroke="none" stroke-width="1" opacity="0.8"/>
<circle cx="406.34" cy="158.01" r="0.80" fill="#f4a0a3" stroke="none" stroke-width="1" opacity="0.8"/>
<circle cx="406.90" cy="155.07" r="0.80" fill="#f4a0a3" stroke="none" stroke-width="1" opacity="0.8"/>
<circle cx="404.65" cy="155.12" r="0.80" fill="#f4a0a3" stroke="none" stroke-width="1" opacity="0.8"/>
<circle cx="406.94" cy="166.40" r="0.80" fill="#f4a0a3" stroke="none" stroke-width="1" opacity="0.8"/>
<circle cx="407.33" cy="162.83" r="0.80" fill="#f4a0a3" stroke="none" stroke-width="1" opacity="0.8"/>
<circle cx="405.31" cy="151.82" r="0.80" fill="#f4a0a3" stroke="none" stroke-width="1" opacity="0.8"/>
<circle cx="405.95" cy="163.11" r="0.80" fill="#f4a0a3" stroke="none" stroke-width="1" opacity="0.8"/>
<circle cx="404.66" cy="156.97" r="0.80" fill="#f4a0a3" stroke="none" stroke-width="1" opacity="0.8"/>
<circle cx="404.87" cy="144.04" r="0.80" fill="#f4a0a3" stroke="none" stroke-width="1" opacity="0.8"/>
<circle cx="407.99" cy="160.96" r="0.80" fill="#f4a0a3" stroke="none" stroke-width="1" opacity="0.8"/>
<circle cx="405.32" cy="148.28" r="0.80" fill="#f4a0a3" stroke="none" stroke-width="1" opacity="0.8"/>
<circle cx="408.19" cy="152.59" r="0.80" fill="#f4a0a3" stroke="none" stroke-width="1" opacity="0.8"/>
<circle cx="406.07" cy="159.87" r="0.80" fill="#f4a0a3" stroke="none" stroke-width="1" opacity="0.8"/>
<circle cx="405.86" cy="145.42" r="0.80" fill="#f4a0a3" stroke="none" stroke-width="1" opacity="0.8"/>
<circle cx="406.93" cy="140.08" r="0.80" fill="#f4a0a3" stroke="none" stroke-width="1" opacity="0.8"/>
<circle cx="406.35" cy="157.01" r="0.80" fill="#f4a0a3" stroke="none" stroke-width="1" opacity="0.8"/>
<circle cx="406.07" cy="141.64" r="0.80" fill="#f4a0a3" stroke="none" stroke-width="1" opacity="0.8"/>
<circle cx="420.08" cy="121.34" r="0.80" fill="#9cc3e6" stroke="none" stroke-width="1" opacity="0.8"/>
<circle cx="420.10" cy="114.78" r="0.80" fill="#9cc3e6" stroke="none" stroke-width="1" opacity="0.8"/>
<circle cx="422.99" cy="85.83" r="0.80" fill="#9cc3e6" stroke="none" stroke-width="1" opacity="0.8"/>
<circle cx="421.13" cy="93.72" r="0.80" fill="#9cc3e6" stroke="none" stroke-width="1" opacity="0.8"/>
<circle cx="420.72" cy="100.43" r="0.80" fill="#9cc3e6" stroke="none" stroke-width="1" opacity="0.8"/>
<circle cx="422.88" cy="94.49" r="0.80" fill="#9cc3e6" stroke="none" stroke-width="1" opacity="0.8"/>
<circle cx="423.18" cy="109.24" r="0.80" fill="#9cc3e6" stroke="none" stroke-width="1" opacity="0.8"/>
<circle cx="423.03" cy="105.03" r="0.80" fill="#9cc3e6" stroke="none" stroke-width="1" opacity="0.8"/>
<circle cx="421.42" cy="98.12" r="0.80" fill="#9cc3e6" stroke="none" stroke-width="1" opacity="0.8"/>
<circle cx="423.18" cy="106.67" r="0.80" fill="#9cc3e6" stroke="none" stroke-width="1" opacity="0.8"/>
<circle cx="423.10" cy="95.26" r="0.80" fill="#9cc3e6" stroke="none" stroke-width="1" opacity="0.8"/>
<circle cx="422.43" cy="104.44" r="0.80" fill="#9cc3e6" stroke="none" stroke-width="1" opacity="0.8"/>
<circle cx="424.08" cy="126.48" r="0.80" fill="#9cc3e6" stroke="none" stroke-width="1" opacity="0.8"/>
<circle cx="421.80" cy="84.50" r="0.80" fill="#9cc3e6" stroke="none" stroke-width="1" opacity="0.8"/>
<circle cx="421.22" cy="103.23" r="0.80" fill="#9cc3e6" stroke="none" stroke-width="1" opacity="0.8"/>
<circle cx="421.62" cy="89.13" r="0.80" fill="#9cc3e6" stroke="none" stroke-width="1" opacity="0.8"/>
<circle cx="420.89" cy="124.89" r="0.80" fill="#9cc3e6" stroke="none" stroke-width="1" opacity="0.8"/>
<circle cx="421.44" cy="88.59" r="0.80" fill="#9cc3e6" stroke="none" stroke-width="1" opacity="0.8"/>
<circle cx="421.60" cy="91.40" r="0.80" fill="#9cc3e6" stroke="none" stroke-width="1" opacity="0.8"/>
<circle cx="421.56" cy="108.84" r="0.80" fill="#9cc3e6" stroke="none" stroke-width="1" opacity="0.8"/>
<circle cx="423.53" cy="105.28" r="0.80" fill="#9cc3e6" stroke="none" stroke-width="1" opacity="0.8"/>
<circle cx="422.29" cy="115.35" r="0.80" fill="#9cc3e6" stroke="none" stroke-width="1" opacity="0.8"/>
<circle cx="420.55" cy="108.24" r="0.80" fill="#9cc3e6" stroke="none" stroke-width="1" opacity="0.8"/>
<circle cx="423.34" cy="85.28" r="0.80" fill="#9cc3e6" stroke="none" stroke-width="1" opacity="0.8"/>
<circle cx="419.81" cy="107.35" r="0.80" fill="#9cc3e6" stroke="none" stroke-width="1" opacity="0.8"/>
<circle cx="422.18" cy="92.41" r="0.80" fill="#9cc3e6" stroke="none" stroke-width="1" opacity="0.8"/>
<circle cx="424.34" cy="83.41" r="0.80" fill="#9cc3e6" stroke="none" stroke-width="1" opacity="0.8"/>
<circle cx="422.83" cy="94.99" r="0.80" fill="#9cc3e6" stroke="none" stroke-width="1" opacity="0.8"/>
<circle cx="422.32" cy="101.18" r="0.80" fill="#9cc3e6" stroke="none" stroke-width="1" opacity="0.8"/>
<circle cx="423.48" cy="95.14" r="0.80" fill="#9cc3e6" stroke="none" stroke-width="1" opacity="0.8"/>
<circle cx="423.24" cy="104.24" r="0.80" fill="#9cc3e6" stroke="none" stroke-width="1" opacity="0.8"/>
<circle cx="424.02" cy="102.30" r="0.80" fill="#9cc3e6" stroke="none" stroke-width="1" opacity="0.8"/>
<circle cx="420.39" cy="115.49" r="0.80" fill="#9cc3e6" stroke="none" stroke-width="1" opacity="0.8"/>
<circle cx="423.28" cy="108.95" r="0.80" fill="#9cc3e6" stroke="none" stroke-width="1" opacity="0.8"/>
<circle cx="420.76" cy="93.82" r="0.80" fill="#9cc3e6" stroke="none" stroke-width="1" opacity="0.8"/>
<circle cx="423.37" cy="91.74" r="0.80" fill="#9cc3e6" stroke="none" stroke-width="1" opacity="0.8"/>
<circle cx="421.59" cy="116.24" r="0.80" fill="#9cc3e6" stroke="none" stroke-width="1" opacity="0.8"/>
<circle cx="421.32" cy="130.80" r="0.80" fill="#9cc3e6" stroke="none" stroke-width="1" opacity="0.8"/>
<circle cx="422.07" cy="147.74" r="0.80" fill="#9cc3e6" stroke="none" stroke-width="1" opacity="0.8"/>
<circle cx="422.28" cy="130.14" r="0.80" fill="#9cc3e6" stroke="none" stroke-width="1" opacity="0.8"/>
<circle cx="424.09" cy="130.25" r="0.80" fill="#9cc3e6" stroke="none" stroke-width="1" opacity="0.8"/>
<circle cx="421.67" cy="117.67" r="0.80" fill="#9cc3e6" stroke="none" stroke-width="1" opacity="0.8"/>
<circle cx="423.80" cy="139.93" r="0.80" fill="#9cc3e6" stroke="none" stroke-width="1" opacity="0.8"/>
<circle cx="423.57" cy="119.94" r="0.80" fill="#9cc3e6" stroke="none" stroke-width="1" opacity="0.8"/>
<circle cx="424.30" cy="143.63" r="0.80" fill="#9cc3e6" stroke="none" stroke-width="1" opacity="0.8"/>
<circle cx="422.77" cy="114.99" r="0.80" fill="#9cc3e6" stroke="none" stroke-width="1" opacity="0.8"/>
<circle cx="423.55" cy="117.54" r="0.80" fill="#9cc3e6" stroke="none" stroke-width="1" opacity="0.8"/>
<circle cx="421.72" cy="130.75" r="0.80" fill="#9cc3e6" stroke="none" stroke-width="1" opacity="0.8"/>
<circle cx="423.26" cy="128.17" r="0.80" fill="#9cc3e6" stroke="none" stroke-width="1" opacity="0.8"/>
<circle cx="424.46" cy="135.79" r="0.80" fill="#9cc3e6" stroke="none" stroke-width="1" opacity="0.8"/>
<circle cx="420.68" cy="128.80" r="0.80" fill="#9cc3e6" stroke="none" stroke-width="1" opacity="0.8"/>
<circle cx="421.74" cy="137.37" r="0.80" fill="#9cc3e6" stroke="none" stroke-width="1" opacity="0.8"/>
<circle cx="419.98" cy="126.20" r="0.80" fill="#9cc3e6" stroke="none" stroke-width="1" opacity="0.8"/>
<circle cx="421.18" cy="158.64" r="0.80" fill="#9cc3e6" stroke="none" stroke-width="1" opacity="0.8"/>
<circle cx="423.42" cy="143.95" r="0.80" fill="#9cc3e6" stroke="none" stroke-width="1" opacity="0.8"/>
<circle cx="420.56" cy="142.64" r="0.80" fill="#9cc3e6" stroke="none" stroke-width="1" opacity="0.8"/>
<circle cx="422.50" cy="143.34" r="0.80" fill="#9cc3e6" stroke="none" stroke-width="1" opacity="0.8"/>
<circle cx="424.06" cy="137.33" r="0.80" fill="#9cc3e6" stroke="none" stroke-width="1" opacity="0.8"/>
<circle cx="420.59" cy="137.77" r="0.80" fill="#9cc3e6" stroke="none" stroke-width="1" opacity="0.8"/>
<circle cx="420.74" cy="134.19" r="0.80" fill="#9cc3e6" stroke="none" stroke-width="1" opacity="0.8"/>
<circle cx="422.55" cy="134.56" r="0.80" fill="#9cc3e6" stroke="none" stroke-width="1" opacity="0.8"/>
<circle cx="420.78" cy="148.93" r="0.80" fill="#9cc3e6" stroke="none" stroke-width="1" opacity="0.8"/>
<circle cx="420.53" cy="136.33" r="0.80" fill="#9cc3e6" stroke="none" stroke-width="1" opacity="0.8"/>
<circle cx="423.34" cy="140.56" r="0.80" fill="#9cc3e6" stroke="none" stroke-width="1" opacity="0.8"/>
<circle cx="423.62" cy="128.33" r="0.80" fill="#9cc3e6" stroke="none" stroke-width="1" opacity="0.8"/>
<circle cx="422.00" cy="144.77" r="0.80" fill="#9cc3e6" stroke="none" stroke-width="1" opacity="0.8"/>
<circle cx="424.09" cy="131.73" r="0.80" fill="#9cc3e6" stroke="none" stroke-width="1" opacity="0.8"/>
<circle cx="421.34" cy="153.95" r="0.80" fill="#9cc3e6" stroke="none" stroke-width="1" opacity="0.8"/>
<circle cx="422.02" cy="109.11" r="0.80" fill="#9cc3e6" stroke="none" stroke-width="1" opacity="0.8"/>
<circle cx="420.76" cy="125.75" r="0.80" fill="#9cc3e6" stroke="none" stroke-width="1" opacity="0.8"/>
<circle cx="423.55" cy="156.20" r="0.80" fill="#9cc3e6" stroke="none" stroke-width="1" opacity="0.8"/>
<circle cx="421.55" cy="140.56" r="0.80" fill="#9cc3e6" stroke="none" stroke-width="1" opacity="0.8"/>
<circle cx="421.02" cy="152.20" r="0.80" fill="#9cc3e6" stroke="none" stroke-width="1" opacity="0.8"/>
<circle cx="424.45" cy="159.05" r="0.80" fill="#9cc3e6" stroke="none" stroke-width="1" opacity="0.8"/>
<circle cx="419.75" cy="157.67" r="0.80" fill="#9cc3e6" stroke="none" stroke-width="1" opacity="0.8"/>
<circle cx="421.97" cy="156.19" r="0.80" fill="#9cc3e6" stroke="none" stroke-width="1" opacity="0.8"/>
<circle cx="423.12" cy="151.86" r="0.80" fill="#9cc3e6" stroke="none" stroke-width="1" opacity="0.8"/>
<circle cx="422.61" cy="169.53" r="0.80" fill="#9cc3e6" stroke="none" stroke-width="1" opacity="0.8"/>
<circle cx="421.24" cy="162.75" r="0.80" fill="#9cc3e6" stroke="none" stroke-width="1" opacity="0.8"/>
<circle cx="420.95" cy="163.92" r="0.80" fill="#9cc3e6" stroke="none" stroke-width="1" opacity="0.8"/>
<circle cx="422.76" cy="166.24" r="0.80" fill="#9cc3e6" stroke="none" stroke-width="1" opacity="0.8"/>
<circle cx="424.47" cy="154.32" r="0.80" fill="#9cc3e6" stroke="none" stroke-width="1" opacity="0.8"/>
<circle cx="420.42" cy="159.60" r="0.80" fill="#9cc3e6" stroke="none" stroke-width="1" opacity="0.8"/>
<circle cx="423.40" cy="169.11" r="0.80" fill="#9cc3e6" stroke="none" stroke-width="1" opacity="0.8"/>
<circle cx="423.76" cy="173.49" r="0.80" fill="#9cc3e6" stroke="none" stroke-width="1" opacity="0.8"/>
<circle cx="423.65" cy="160.61" r="0.80" fill="#9cc3e6" stroke="none" stroke-width="1" opacity="0.8"/>
<circle cx="423.14" cy="165.32" r="0.80" fill="#9cc3e6" stroke="none" stroke-width="1" opacity="0.8"/>
<circle cx="420.17" cy="163.25" r="0.80" fill="#9cc3e6" stroke="none" stroke-width="1" opacity="0.8"/>
<circle cx="424.29" cy="152.69" r="0.80" fill="#9cc3e6" stroke="none" stroke-width="1" opacity="0.8"/>
<circle cx="422.52" cy="161.48" r="0.80" fill="#9cc3e6" stroke="none" stroke-width="1" opacity="0.8"/>
<circle cx="423.49" cy="164.22" r="0.80" fill="#9cc3e6" stroke="none" stroke-width="1" opacity="0.8"/>
<circle cx="421.70" cy="155.85" r="0.80" fill="#9cc3e6" stroke="none" stroke-width="1" opacity="0.8"/>
<circle cx="423.67" cy="163.15" r="0.80" fill="#9cc3e6" stroke="none" stroke-width="1" opacity="0.8"/>
<circle cx="420.70" cy="158.97" r="0.80" fill="#9cc3e6" stroke="none" stroke-width="1" opacity="0.8"/>
<circle cx="420.46" cy="152.27" r="0.80" fill="#9cc3e6" stroke="none" stroke-width="1" opacity="0.8"/>
<circle cx="423.69" cy="158.20" r="0.80" fill="#9cc3e6" stroke="none" stroke-width="1" opacity="0.8"/>
<circle cx="420.06" cy="158.23" r="0.80" fill="#9cc3e6" stroke="none" stroke-width="1" opacity="0.8"/>
<circle cx="421.17" cy="166.10" r="0.80" fill="#9cc3e6" stroke="none" stroke-width="1" opacity="0.8"/>
<circle cx="421.43" cy="149.64" r="0.80" fill="#9cc3e6" stroke="none" stroke-width="1" opacity="0.8"/>
<circle cx="423.00" cy="162.77" r="0.80" fill="#9cc3e6" stroke="none" stroke-width="1" opacity="0.8"/>
<circle cx="421.92" cy="166.02" r="0.80" fill="#9cc3e6" stroke="none" stroke-width="1" opacity="0.8"/>
<circle cx="424.34" cy="164.82" r="0.80" fill="#9cc3e6" stroke="none" stroke-width="1" opacity="0.8"/>
<circle cx="419.76" cy="165.40" r="0.80" fill="#9cc3e6" stroke="none" stroke-width="1" opacity="0.8"/>
<circle cx="421.51" cy="151.56" r="0.80" fill="#9cc3e6" stroke="none" stroke-width="1" opacity="0.8"/>
<circle cx="422.41" cy="159.22" r="0.80" fill="#9cc3e6" stroke="none" stroke-width="1" opacity="0.8"/>
<circle cx="421.90" cy="155.51" r="0.80" fill="#9cc3e6" stroke="none" stroke-width="1" opacity="0.8"/>
<circle cx="423.54" cy="182.10" r="0.80" fill="#9cc3e6" stroke="none" stroke-width="1" opacity="0.8"/>
<circle cx="420.69" cy="161.92" r="0.80" fill="#9cc3e6" stroke="none" stroke-width="1" opacity="0.8"/>
<circle cx="444.60" cy="68.17" r="0.80" fill="#f4a0a3" stroke="none" stroke-width="1" opacity="0.8"/>
<circle cx="445.39" cy="69.03" r="0.80" fill="#f4a0a3" stroke="none" stroke-width="1" opacity="0.8"/>
<circle cx="444.68" cy="72.68" r="0.80" fill="#f4a0a3" stroke="none" stroke-width="1" opacity="0.8"/>
<circle cx="446.00" cy="87.46" r="0.80" fill="#f4a0a3" stroke="none" stroke-width="1" opacity="0.8"/>
<circle cx="446.31" cy="75.85" r="0.80" fill="#f4a0a3" stroke="none" stroke-width="1" opacity="0.8"/>
<circle cx="444.38" cy="84.88" r="0.80" fill="#f4a0a3" stroke="none" stroke-width="1" opacity="0.8"/>
<circle cx="446.27" cy="91.94" r="0.80" fill="#f4a0a3" stroke="none" stroke-width="1" opacity="0.8"/>
<circle cx="444.39" cy="70.54" r="0.80" fill="#f4a0a3" stroke="none" stroke-width="1" opacity="0.8"/>
<circle cx="443.48" cy="78.86" r="0.80" fill="#f4a0a3" stroke="none" stroke-width="1" opacity="0.8"/>
<circle cx="443.25" cy="71.13" r="0.80" fill="#f4a0a3" stroke="none" stroke-width="1" opacity="0.8"/>
<circle cx="443.66" cy="67.25" r="0.80" fill="#f4a0a3" stroke="none" stroke-width="1" opacity="0.8"/>
<circle cx="444.73" cy="57.86" r="0.80" fill="#f4a0a3" stroke="none" stroke-width="1" opacity="0.8"/>
<circle cx="443.23" cy="85.25" r="0.80" fill="#f4a0a3" stroke="none" stroke-width="1" opacity="0.8"/>
<circle cx="443.89" cy="61.31" r="0.80" fill="#f4a0a3" stroke="none" stroke-width="1" opacity="0.8"/>
<circle cx="444.75" cy="79.89" r="0.80" fill="#f4a0a3" stroke="none" stroke-width="1" opacity="0.8"/>
<circle cx="443.15" cy="81.78" r="0.80" fill="#f4a0a3" stroke="none" stroke-width="1" opacity="0.8"/>
<circle cx="445.26" cy="88.25" r="0.80" fill="#f4a0a3" stroke="none" stroke-width="1" opacity="0.8"/>
<circle cx="445.91" cy="69.64" r="0.80" fill="#f4a0a3" stroke="none" stroke-width="1" opacity="0.8"/>
<circle cx="444.65" cy="78.75" r="0.80" fill="#f4a0a3" stroke="none" stroke-width="1" opacity="0.8"/>
<circle cx="444.39" cy="52.22" r="0.80" fill="#f4a0a3" stroke="none" stroke-width="1" opacity="0.8"/>
<circle cx="444.72" cy="74.25" r="0.80" fill="#f4a0a3" stroke="none" stroke-width="1" opacity="0.8"/>
<circle cx="446.16" cy="77.40" r="0.80" fill="#f4a0a3" stroke="none" stroke-width="1" opacity="0.8"/>
<circle cx="445.97" cy="99.01" r="0.80" fill="#f4a0a3" stroke="none" stroke-width="1" opacity="0.8"/>
<circle cx="445.72" cy="73.60" r="0.80" fill="#f4a0a3" stroke="none" stroke-width="1" opacity="0.8"/>
<circle cx="444.44" cy="87.78" r="0.80" fill="#f4a0a3" stroke="none" stroke-width="1" opacity="0.8"/>
<circle cx="445.92" cy="77.55" r="0.80" fill="#f4a0a3" stroke="none" stroke-width="1" opacity="0.8"/>
<circle cx="445.24" cy="86.14" r="0.80" fill="#f4a0a3" stroke="none" stroke-width="1" opacity="0.8"/>
<circle cx="446.59" cy="84.04" r="0.80" fill="#f4a0a3" stroke="none" stroke-width="1" opacity="0.8"/>
<circle cx="443.56" cy="84.33" r="0.80" fill="#f4a0a3" stroke="none" stroke-width="1" opacity="0.8"/>
<circle cx="446.48" cy="60.28" r="0.80" fill="#f4a0a3" stroke="none" stroke-width="1" opacity="0.8"/>
<circle cx="444.49" cy="89.64" r="0.80" fill="#f4a0a3" stroke="none" stroke-width="1" opacity="0.8"/>
<circle cx="445.20" cy="66.82" r="0.80" fill="#f4a0a3" stroke="none" stroke-width="1" opacity="0.8"/>
<circle cx="447.54" cy="89.13" r="0.80" fill="#f4a0a3" stroke="none" stroke-width="1" opacity="0.8"/>
<circle cx="445.28" cy="92.18" r="0.80" fill="#f4a0a3" stroke="none" stroke-width="1" opacity="0.8"/>
<circle cx="443.75" cy="70.87" r="0.80" fill="#f4a0a3" stroke="none" stroke-width="1" opacity="0.8"/>
<circle cx="447.34" cy="52.08" r="0.80" fill="#f4a0a3" stroke="none" stroke-width="1" opacity="0.8"/>
<circle cx="443.20" cy="113.07" r="0.80" fill="#f4a0a3" stroke="none" stroke-width="1" opacity="0.8"/>
<circle cx="443.97" cy="112.94" r="0.80" fill="#f4a0a3" stroke="none" stroke-width="1" opacity="0.8"/>
<circle cx="444.38" cy="104.00" r="0.80" fill="#f4a0a3" stroke="none" stroke-width="1" opacity="0.8"/>
<circle cx="447.26" cy="110.56" r="0.80" fill="#f4a0a3" stroke="none" stroke-width="1" opacity="0.8"/>
<circle cx="443.40" cy="110.53" r="0.80" fill="#f4a0a3" stroke="none" stroke-width="1" opacity="0.8"/>
<circle cx="447.47" cy="126.24" r="0.80" fill="#f4a0a3" stroke="none" stroke-width="1" opacity="0.8"/>
<circle cx="445.41" cy="131.96" r="0.80" fill="#f4a0a3" stroke="none" stroke-width="1" opacity="0.8"/>
<circle cx="445.49" cy="134.00" r="0.80" fill="#f4a0a3" stroke="none" stroke-width="1" opacity="0.8"/>
<circle cx="447.16" cy="110.42" r="0.80" fill="#f4a0a3" stroke="none" stroke-width="1" opacity="0.8"/>
<circle cx="447.56" cy="114.80" r="0.80" fill="#f4a0a3" stroke="none" stroke-width="1" opacity="0.8"/>
<circle cx="443.39" cy="123.28" r="0.80" fill="#f4a0a3" stroke="none" stroke-width="1" opacity="0.8"/>
<circle cx="446.76" cy="105.34" r="0.80" fill="#f4a0a3" stroke="none" stroke-width="1" opacity="0.8"/>
<circle cx="443.96" cy="112.58" r="0.80" fill="#f4a0a3" stroke="none" stroke-width="1" opacity="0.8"/>
<circle cx="445.55" cy="138.40" r="0.80" fill="#f4a0a3" stroke="none" stroke-width="1" opacity="0.8"/>
<circle cx="445.43" cy="120.81" r="0.80" fill="#f4a0a3" stroke="none" stroke-width="1" opacity="0.8"/>
<circle cx="443.17" cy="112.10" r="0.80" fill="#f4a0a3" stroke="none" stroke-width="1" opacity="0.8"/>
<circle cx="447.54" cy="123.87" r="0.80" fill="#f4a0a3" stroke="none" stroke-width="1" opacity="0.8"/>
<circle cx="447.31" cy="118.96" r="0.80" fill="#f4a0a3" stroke="none" stroke-width="1" opacity="0.8"/>
<circle cx="446.02" cy="113.03" r="0.80" fill="#f4a0a3" stroke="none" stroke-width="1" opacity="0.8"/>
<circle cx="446.34" cy="110.51" r="0.80" fill="#f4a0a3" stroke="none" stroke-width="1" opacity="0.8"/>
<circle cx="446.66" cy="107.85" r="0.80" fill="#f4a0a3" stroke="none" stroke-width="1" opacity="0.8"/>
<circle cx="442.88" cy="126.76" r="0.80" fill="#f4a0a3" stroke="none" stroke-width="1" opacity="0.8"/>
<circle cx="443.49" cy="121.20" r="0.80" fill="#f4a0a3" stroke="none" stroke-width="1" opacity="0.8"/>
<circle cx="444.65" cy="128.38" r="0.80" fill="#f4a0a3" stroke="none" stroke-width="1" opacity="0.8"/>
<circle cx="445.29" cy="112.10" r="0.80" fill="#f4a0a3" stroke="none" stroke-width="1" opacity="0.8"/>
<circle cx="444.07" cy="115.09" r="0.80" fill="#f4a0a3" stroke="none" stroke-width="1" opacity="0.8"/>
<circle cx="445.88" cy="109.52" r="0.80" fill="#f4a0a3" stroke="none" stroke-width="1" opacity="0.8"/>
<circle cx="442.98" cy="113.98" r="0.80" fill="#f4a0a3" stroke="none" stroke-width="1" opacity="0.8"/>
<circle cx="447.40" cy="115.04" r="0.80" fill="#f4a0a3" stroke="none" stroke-width="1" opacity="0.8"/>
<circle cx="445.68" cy="112.78" r="0.80" fill="#f4a0a3" stroke="none" stroke-width="1" opacity="0.8"/>
<circle cx="445.79" cy="107.59" r="0.80" fill="#f4a0a3" stroke="none" stroke-width="1" opacity="0.8"/>
<circle cx="446.11" cy="119.64" r="0.80" fill="#f4a0a3" stroke="none" stroke-width="1" opacity="0.8"/>
<circle cx="445.13" cy="118.54" r="0.80" fill="#f4a0a3" stroke="none" stroke-width="1" opacity="0.8"/>
<circle cx="447.57" cy="101.03" r="0.80" fill="#f4a0a3" stroke="none" stroke-width="1" opacity="0.8"/>
<circle cx="444.76" cy="128.05" r="0.80" fill="#f4a0a3" stroke="none" stroke-width="1" opacity="0.8"/>
<circle cx="444.88" cy="100.99" r="0.80" fill="#f4a0a3" stroke="none" stroke-width="1" opacity="0.8"/>
<circle cx="445.32" cy="138.69" r="0.80" fill="#f4a0a3" stroke="none" stroke-width="1" opacity="0.8"/>
<circle cx="445.32" cy="146.48" r="0.80" fill="#f4a0a3" stroke="none" stroke-width="1" opacity="0.8"/>
<circle cx="444.34" cy="138.79" r="0.80" fill="#f4a0a3" stroke="none" stroke-width="1" opacity="0.8"/>
<circle cx="443.06" cy="158.86" r="0.80" fill="#f4a0a3" stroke="none" stroke-width="1" opacity="0.8"/>
<circle cx="446.31" cy="150.30" r="0.80" fill="#f4a0a3" stroke="none" stroke-width="1" opacity="0.8"/>
<circle cx="445.67" cy="137.75" r="0.80" fill="#f4a0a3" stroke="none" stroke-width="1" opacity="0.8"/>
<circle cx="445.65" cy="152.67" r="0.80" fill="#f4a0a3" stroke="none" stroke-width="1" opacity="0.8"/>
<circle cx="443.14" cy="146.63" r="0.80" fill="#f4a0a3" stroke="none" stroke-width="1" opacity="0.8"/>
<circle cx="445.21" cy="158.01" r="0.80" fill="#f4a0a3" stroke="none" stroke-width="1" opacity="0.8"/>
<circle cx="444.70" cy="157.97" r="0.80" fill="#f4a0a3" stroke="none" stroke-width="1" opacity="0.8"/>
<circle cx="445.33" cy="162.82" r="0.80" fill="#f4a0a3" stroke="none" stroke-width="1" opacity="0.8"/>
<circle cx="443.95" cy="156.06" r="0.80" fill="#f4a0a3" stroke="none" stroke-width="1" opacity="0.8"/>
<circle cx="443.93" cy="150.17" r="0.80" fill="#f4a0a3" stroke="none" stroke-width="1" opacity="0.8"/>
<circle cx="443.13" cy="159.19" r="0.80" fill="#f4a0a3" stroke="none" stroke-width="1" opacity="0.8"/>
<circle cx="446.00" cy="168.08" r="0.80" fill="#f4a0a3" stroke="none" stroke-width="1" opacity="0.8"/>
<circle cx="446.96" cy="142.95" r="0.80" fill="#f4a0a3" stroke="none" stroke-width="1" opacity="0.8"/>
<circle cx="443.86" cy="141.45" r="0.80" fill="#f4a0a3" stroke="none" stroke-width="1" opacity="0.8"/>
<circle cx="446.38" cy="158.60" r="0.80" fill="#f4a0a3" stroke="none" stroke-width="1" opacity="0.8"/>
<circle cx="443.27" cy="138.78" r="0.80" fill="#f4a0a3" stroke="none" stroke-width="1" opacity="0.8"/>
<circle cx="446.60" cy="146.43" r="0.80" fill="#f4a0a3" stroke="none" stroke-width="1" opacity="0.8"/>
<circle cx="447.36" cy="158.79" r="0.80" fill="#f4a0a3" stroke="none" stroke-width="1" opacity="0.8"/>
<circle cx="442.80" cy="158.70" r="0.80" fill="#f4a0a3" stroke="none" stroke-width="1" opacity="0.8"/>
<circle cx="444.36" cy="152.83" r="0.80" fill="#f4a0a3" stroke="none" stroke-width="1" opacity="0.8"/>
<circle cx="443.10" cy="158.50" r="0.80" fill="#f4a0a3" stroke="none" stroke-width="1" opacity="0.8"/>
<circle cx="444.71" cy="162.77" r="0.80" fill="#f4a0a3" stroke="none" stroke-width="1" opacity="0.8"/>
<circle cx="444.51" cy="144.72" r="0.80" fill="#f4a0a3" stroke="none" stroke-width="1" opacity="0.8"/>
<circle cx="442.95" cy="150.76" r="0.80" fill="#f4a0a3" stroke="none" stroke-width="1" opacity="0.8"/>
<circle cx="447.11" cy="151.50" r="0.80" fill="#f4a0a3" stroke="none" stroke-width="1" opacity="0.8"/>
<circle cx="447.28" cy="149.68" r="0.80" fill="#f4a0a3" stroke="none" stroke-width="1" opacity="0.8"/>
<circle cx="447.49" cy="160.29" r="0.80" fill="#f4a0a3" stroke="none" stroke-width="1" opacity="0.8"/>
<circle cx="444.22" cy="147.91" r="0.80" fill="#f4a0a3" stroke="none" stroke-width="1" opacity="0.8"/>
<circle cx="447.23" cy="153.41" r="0.80" fill="#f4a0a3" stroke="none" stroke-width="1" opacity="0.8"/>
<circle cx="446.82" cy="156.28" r="0.80" fill="#f4a0a3" stroke="none" stroke-width="1" opacity="0.8"/>
<circle cx="444.50" cy="149.81" r="0.80" fill="#f4a0a3" stroke="none" stroke-width="1" opacity="0.8"/>
<circle cx="447.02" cy="148.36" r="0.80" fill="#f4a0a3" stroke="none" stroke-width="1" opacity="0.8"/>
<circle cx="447.58" cy="153.34" r="0.80" fill="#f4a0a3" stroke="none" stroke-width="1" opacity="0.8"/>
<circle cx="459.12" cy="85.86" r="0.80" fill="#9cc3e6" stroke="none" stroke-width="1" opacity="0.8"/>
<circle cx="462.42" cy="97.96" r="0.80" fill="#9cc3e6" stroke="none" stroke-width="1" opacity="0.8"/>
<circle cx="461.68" cy="86.26" r="0.80" fill="#9cc3e6" stroke="none" stroke-width="1" opacity="0.8"/>
<circle cx="459.70" cy="82.30" r="0.80" fill="#9cc3e6" stroke="none" stroke-width="1" opacity="0.8"/>
<circle cx="461.62" cy="101.66" r="0.80" fill="#9cc3e6" stroke="none" stroke-width="1" opacity="0.8"/>
<circle cx="458.85" cy="65.02" r="0.80" fill="#9cc3e6" stroke="none" stroke-width="1" opacity="0.8"/>
<circle cx="460.34" cy="70.19" r="0.80" fill="#9cc3e6" stroke="none" stroke-width="1" opacity="0.8"/>
<circle cx="458.58" cy="51.51" r="0.80" fill="#9cc3e6" stroke="none" stroke-width="1" opacity="0.8"/>
<circle cx="461.61" cy="82.26" r="0.80" fill="#9cc3e6" stroke="none" stroke-width="1" opacity="0.8"/>
<circle cx="459.14" cy="91.38" r="0.80" fill="#9cc3e6" stroke="none" stroke-width="1" opacity="0.8"/>
<circle cx="461.39" cy="84.40" r="0.80" fill="#9cc3e6" stroke="none" stroke-width="1" opacity="0.8"/>
<circle cx="461.99" cy="89.04" r="0.80" fill="#9cc3e6" stroke="none" stroke-width="1" opacity="0.8"/>
<circle cx="462.45" cy="67.07" r="0.80" fill="#9cc3e6" stroke="none" stroke-width="1" opacity="0.8"/>
<circle cx="461.03" cy="94.15" r="0.80" fill="#9cc3e6" stroke="none" stroke-width="1" opacity="0.8"/>
<circle cx="462.65" cy="81.85" r="0.80" fill="#9cc3e6" stroke="none" stroke-width="1" opacity="0.8"/>
<circle cx="461.40" cy="91.30" r="0.80" fill="#9cc3e6" stroke="none" stroke-width="1" opacity="0.8"/>
<circle cx="458.63" cy="77.28" r="0.80" fill="#9cc3e6" stroke="none" stroke-width="1" opacity="0.8"/>
<circle cx="462.92" cy="98.72" r="0.80" fill="#9cc3e6" stroke="none" stroke-width="1" opacity="0.8"/>
<circle cx="460.75" cy="65.57" r="0.80" fill="#9cc3e6" stroke="none" stroke-width="1" opacity="0.8"/>
<circle cx="458.42" cy="86.23" r="0.80" fill="#9cc3e6" stroke="none" stroke-width="1" opacity="0.8"/>
<circle cx="459.40" cy="71.78" r="0.80" fill="#9cc3e6" stroke="none" stroke-width="1" opacity="0.8"/>
<circle cx="462.06" cy="74.16" r="0.80" fill="#9cc3e6" stroke="none" stroke-width="1" opacity="0.8"/>
<circle cx="461.83" cy="89.49" r="0.80" fill="#9cc3e6" stroke="none" stroke-width="1" opacity="0.8"/>
<circle cx="459.38" cy="85.95" r="0.80" fill="#9cc3e6" stroke="none" stroke-width="1" opacity="0.8"/>
<circle cx="459.09" cy="77.42" r="0.80" fill="#9cc3e6" stroke="none" stroke-width="1" opacity="0.8"/>
<circle cx="462.51" cy="96.51" r="0.80" fill="#9cc3e6" stroke="none" stroke-width="1" opacity="0.8"/>
<circle cx="460.42" cy="83.79" r="0.80" fill="#9cc3e6" stroke="none" stroke-width="1" opacity="0.8"/>
<circle cx="461.80" cy="80.14" r="0.80" fill="#9cc3e6" stroke="none" stroke-width="1" opacity="0.8"/>
<circle cx="460.60" cy="57.99" r="0.80" fill="#9cc3e6" stroke="none" stroke-width="1" opacity="0.8"/>
<circle cx="459.06" cy="100.23" r="0.80" fill="#9cc3e6" stroke="none" stroke-width="1" opacity="0.8"/>
<circle cx="459.93" cy="62.84" r="0.80" fill="#9cc3e6" stroke="none" stroke-width="1" opacity="0.8"/>
<circle cx="461.36" cy="73.95" r="0.80" fill="#9cc3e6" stroke="none" stroke-width="1" opacity="0.8"/>
<circle cx="460.63" cy="83.63" r="0.80" fill="#9cc3e6" stroke="none" stroke-width="1" opacity="0.8"/>
<circle cx="462.26" cy="65.06" r="0.80" fill="#9cc3e6" stroke="none" stroke-width="1" opacity="0.8"/>
<circle cx="462.77" cy="74.07" r="0.80" fill="#9cc3e6" stroke="none" stroke-width="1" opacity="0.8"/>
<circle cx="459.03" cy="65.96" r="0.80" fill="#9cc3e6" stroke="none" stroke-width="1" opacity="0.8"/>
<circle cx="461.12" cy="121.31" r="0.80" fill="#9cc3e6" stroke="none" stroke-width="1" opacity="0.8"/>
<circle cx="459.33" cy="114.30" r="0.80" fill="#9cc3e6" stroke="none" stroke-width="1" opacity="0.8"/>
<circle cx="461.98" cy="104.17" r="0.80" fill="#9cc3e6" stroke="none" stroke-width="1" opacity="0.8"/>
<circle cx="462.00" cy="126.50" r="0.80" fill="#9cc3e6" stroke="none" stroke-width="1" opacity="0.8"/>
<circle cx="459.26" cy="121.22" r="0.80" fill="#9cc3e6" stroke="none" stroke-width="1" opacity="0.8"/>
<circle cx="460.98" cy="131.74" r="0.80" fill="#9cc3e6" stroke="none" stroke-width="1" opacity="0.8"/>
<circle cx="461.06" cy="117.52" r="0.80" fill="#9cc3e6" stroke="none" stroke-width="1" opacity="0.8"/>
<circle cx="461.63" cy="120.22" r="0.80" fill="#9cc3e6" stroke="none" stroke-width="1" opacity="0.8"/>
<circle cx="459.06" cy="101.97" r="0.80" fill="#9cc3e6" stroke="none" stroke-width="1" opacity="0.8"/>
<circle cx="458.93" cy="111.25" r="0.80" fill="#9cc3e6" stroke="none" stroke-width="1" opacity="0.8"/>
<circle cx="460.29" cy="131.83" r="0.80" fill="#9cc3e6" stroke="none" stroke-width="1" opacity="0.8"/>
<circle cx="460.32" cy="121.51" r="0.80" fill="#9cc3e6" stroke="none" stroke-width="1" opacity="0.8"/>
<circle cx="458.55" cy="118.75" r="0.80" fill="#9cc3e6" stroke="none" stroke-width="1" opacity="0.8"/>
<circle cx="462.56" cy="138.04" r="0.80" fill="#9cc3e6" stroke="none" stroke-width="1" opacity="0.8"/>
<circle cx="462.00" cy="108.84" r="0.80" fill="#9cc3e6" stroke="none" stroke-width="1" opacity="0.8"/>
<circle cx="459.34" cy="114.95" r="0.80" fill="#9cc3e6" stroke="none" stroke-width="1" opacity="0.8"/>
<circle cx="458.40" cy="125.44" r="0.80" fill="#9cc3e6" stroke="none" stroke-width="1" opacity="0.8"/>
<circle cx="459.71" cy="127.06" r="0.80" fill="#9cc3e6" stroke="none" stroke-width="1" opacity="0.8"/>
<circle cx="459.47" cy="111.36" r="0.80" fill="#9cc3e6" stroke="none" stroke-width="1" opacity="0.8"/>
<circle cx="461.03" cy="111.78" r="0.80" fill="#9cc3e6" stroke="none" stroke-width="1" opacity="0.8"/>
<circle cx="459.02" cy="135.94" r="0.80" fill="#9cc3e6" stroke="none" stroke-width="1" opacity="0.8"/>
<circle cx="459.42" cy="129.98" r="0.80" fill="#9cc3e6" stroke="none" stroke-width="1" opacity="0.8"/>
<circle cx="462.19" cy="128.42" r="0.80" fill="#9cc3e6" stroke="none" stroke-width="1" opacity="0.8"/>
<circle cx="461.98" cy="133.12" r="0.80" fill="#9cc3e6" stroke="none" stroke-width="1" opacity="0.8"/>
<circle cx="459.95" cy="129.73" r="0.80" fill="#9cc3e6" stroke="none" stroke-width="1" opacity="0.8"/>
<circle cx="459.24" cy="124.05" r="0.80" fill="#9cc3e6" stroke="none" stroke-width="1" opacity="0.8"/>
<circle cx="460.55" cy="123.08" r="0.80" fill="#9cc3e6" stroke="none" stroke-width="1" opacity="0.8"/>
<circle cx="461.85" cy="119.66" r="0.80" fill="#9cc3e6" stroke="none" stroke-width="1" opacity="0.8"/>
<circle cx="460.39" cy="125.77" r="0.80" fill="#9cc3e6" stroke="none" stroke-width="1" opacity="0.8"/>
<circle cx="461.78" cy="119.72" r="0.80" fill="#9cc3e6" stroke="none" stroke-width="1" opacity="0.8"/>
<circle cx="462.47" cy="127.40" r="0.80" fill="#9cc3e6" stroke="none" stroke-width="1" opacity="0.8"/>
<circle cx="458.88" cy="122.01" r="0.80" fill="#9cc3e6" stroke="none" stroke-width="1" opacity="0.8"/>
<circle cx="460.24" cy="113.62" r="0.80" fill="#9cc3e6" stroke="none" stroke-width="1" opacity="0.8"/>
<circle cx="458.57" cy="125.44" r="0.80" fill="#9cc3e6" stroke="none" stroke-width="1" opacity="0.8"/>
<circle cx="461.86" cy="152.75" r="0.80" fill="#9cc3e6" stroke="none" stroke-width="1" opacity="0.8"/>
<circle cx="461.72" cy="127.32" r="0.80" fill="#9cc3e6" stroke="none" stroke-width="1" opacity="0.8"/>
<circle cx="460.85" cy="154.47" r="0.80" fill="#9cc3e6" stroke="none" stroke-width="1" opacity="0.8"/>
<circle cx="459.36" cy="159.11" r="0.80" fill="#9cc3e6" stroke="none" stroke-width="1" opacity="0.8"/>
<circle cx="459.95" cy="138.02" r="0.80" fill="#9cc3e6" stroke="none" stroke-width="1" opacity="0.8"/>
<circle cx="459.82" cy="157.69" r="0.80" fill="#9cc3e6" stroke="none" stroke-width="1" opacity="0.8"/>
<circle cx="458.39" cy="163.35" r="0.80" fill="#9cc3e6" stroke="none" stroke-width="1" opacity="0.8"/>
<circle cx="460.13" cy="152.67" r="0.80" fill="#9cc3e6" stroke="none" stroke-width="1" opacity="0.8"/>
<circle cx="459.85" cy="152.37" r="0.80" fill="#9cc3e6" stroke="none" stroke-width="1" opacity="0.8"/>
<circle cx="461.53" cy="151.84" r="0.80" fill="#9cc3e6" stroke="none" stroke-width="1" opacity="0.8"/>
<circle cx="462.45" cy="159.96" r="0.80" fill="#9cc3e6" stroke="none" stroke-width="1" opacity="0.8"/>
<circle cx="460.42" cy="146.76" r="0.80" fill="#9cc3e6" stroke="none" stroke-width="1" opacity="0.8"/>
<circle cx="460.03" cy="143.26" r="0.80" fill="#9cc3e6" stroke="none" stroke-width="1" opacity="0.8"/>
<circle cx="461.95" cy="162.19" r="0.80" fill="#9cc3e6" stroke="none" stroke-width="1" opacity="0.8"/>
<circle cx="459.08" cy="155.20" r="0.80" fill="#9cc3e6" stroke="none" stroke-width="1" opacity="0.8"/>
<circle cx="460.84" cy="160.12" r="0.80" fill="#9cc3e6" stroke="none" stroke-width="1" opacity="0.8"/>
<circle cx="459.23" cy="156.23" r="0.80" fill="#9cc3e6" stroke="none" stroke-width="1" opacity="0.8"/>
<circle cx="460.45" cy="157.85" r="0.80" fill="#9cc3e6" stroke="none" stroke-width="1" opacity="0.8"/>
<circle cx="462.97" cy="151.06" r="0.80" fill="#9cc3e6" stroke="none" stroke-width="1" opacity="0.8"/>
<circle cx="461.46" cy="160.91" r="0.80" fill="#9cc3e6" stroke="none" stroke-width="1" opacity="0.8"/>
<circle cx="460.04" cy="156.88" r="0.80" fill="#9cc3e6" stroke="none" stroke-width="1" opacity="0.8"/>
<circle cx="458.55" cy="150.20" r="0.80" fill="#9cc3e6" stroke="none" stroke-width="1" opacity="0.8"/>
<circle cx="459.52" cy="151.41" r="0.80" fill="#9cc3e6" stroke="none" stroke-width="1" opacity="0.8"/>
<circle cx="458.29" cy="147.60" r="0.80" fill="#9cc3e6" stroke="none" stroke-width="1" opacity="0.8"/>
<circle cx="460.09" cy="156.06" r="0.80" fill="#9cc3e6" stroke="none" stroke-width="1" opacity="0.8"/>
<circle cx="462.63" cy="158.77" r="0.80" fill="#9cc3e6" stroke="none" stroke-width="1" opacity="0.8"/>
<circle cx="459.93" cy="152.60" r="0.80" fill="#9cc3e6" stroke="none" stroke-width="1" opacity="0.8"/>
<circle cx="458.94" cy="148.40" r="0.80" fill="#9cc3e6" stroke="none" stroke-width="1" opacity="0.8"/>
<circle cx="461.88" cy="159.89" r="0.80" fill="#9cc3e6" stroke="none" stroke-width="1" opacity="0.8"/>
<circle cx="461.67" cy="151.24" r="0.80" fill="#9cc3e6" stroke="none" stroke-width="1" opacity="0.8"/>
<circle cx="459.75" cy="154.99" r="0.80" fill="#9cc3e6" stroke="none" stroke-width="1" opacity="0.8"/>
<circle cx="460.05" cy="153.02" r="0.80" fill="#9cc3e6" stroke="none" stroke-width="1" opacity="0.8"/>
<circle cx="459.76" cy="166.35" r="0.80" fill="#9cc3e6" stroke="none" stroke-width="1" opacity="0.8"/>
<circle cx="461.90" cy="161.03" r="0.80" fill="#9cc3e6" stroke="none" stroke-width="1" opacity="0.8"/>
<circle cx="460.09" cy="151.46" r="0.80" fill="#9cc3e6" stroke="none" stroke-width="1" opacity="0.8"/>
<circle cx="459.34" cy="153.52" r="0.80" fill="#9cc3e6" stroke="none" stroke-width="1" opacity="0.8"/>
<circle cx="461.06" cy="157.67" r="0.80" fill="#9cc3e6" stroke="none" stroke-width="1" opacity="0.8"/>
<circle cx="458.35" cy="154.82" r="0.80" fill="#9cc3e6" stroke="none" stroke-width="1" opacity="0.8"/>
<circle cx="445.50" cy="36.00" r="0.75" fill="#f4a0a3" stroke="none" stroke-width="1" opacity="0.75"/>
<circle cx="406.00" cy="45.00" r="0.75" fill="#f4a0a3" stroke="none" stroke-width="1" opacity="0.75"/>
<circle cx="461.00" cy="43.00" r="0.75" fill="#9cc3e6" stroke="none" stroke-width="1" opacity="0.75"/>
<circle cx="368.00" cy="70.00" r="0.75" fill="#f4a0a3" stroke="none" stroke-width="1" opacity="0.75"/>
<circle cx="383.60" cy="86.00" r="0.75" fill="#9cc3e6" stroke="none" stroke-width="1" opacity="0.75"/>
<circle cx="445.00" cy="58.00" r="0.75" fill="#f4a0a3" stroke="none" stroke-width="1" opacity="0.75"/>
<circle cx="422.00" cy="62.00" r="0.75" fill="#9cc3e6" stroke="none" stroke-width="1" opacity="0.75"/>
<circle cx="406.50" cy="62.00" r="0.75" fill="#f4a0a3" stroke="none" stroke-width="1" opacity="0.75"/>
<circle cx="460.50" cy="55.00" r="0.75" fill="#9cc3e6" stroke="none" stroke-width="1" opacity="0.75"/>
<polyline points="368.40,110.80 406.70,94.50 445.20,76.20" fill="none" stroke="#e8262b" stroke-width="1.65" />
<polyline points="368.40,144.30 406.70,130.20 445.20,117.70" fill="none" stroke="#e8262b" stroke-width="1.65" />
<polyline points="368.40,160.40 406.70,157.40 445.20,152.60" fill="none" stroke="#e8262b" stroke-width="1.65" />
<polyline points="383.80,114.20 422.10,99.60 460.60,80.40" fill="none" stroke="#2b7bbf" stroke-width="1.65" />
<polyline points="383.80,146.90 422.10,133.10 460.60,120.20" fill="none" stroke="#2b7bbf" stroke-width="1.65" />
<polyline points="383.80,160.90 422.10,160.50 460.60,153.80" fill="none" stroke="#2b7bbf" stroke-width="1.65" />
<line x1="368.40" y1="107.20" x2="368.40" y2="114.40" stroke="#4a4a4a" stroke-width="0.85" />
<line x1="365.80" y1="107.20" x2="371.00" y2="107.20" stroke="#4a4a4a" stroke-width="0.9" />
<line x1="365.80" y1="114.40" x2="371.00" y2="114.40" stroke="#4a4a4a" stroke-width="0.9" />
<circle cx="368.40" cy="110.80" r="1.55" fill="#fff" stroke="#e8262b" stroke-width="0.95" />
<line x1="406.70" y1="90.70" x2="406.70" y2="98.30" stroke="#4a4a4a" stroke-width="0.85" />
<line x1="404.10" y1="90.70" x2="409.30" y2="90.70" stroke="#4a4a4a" stroke-width="0.9" />
<line x1="404.10" y1="98.30" x2="409.30" y2="98.30" stroke="#4a4a4a" stroke-width="0.9" />
<circle cx="406.70" cy="94.50" r="1.55" fill="#fff" stroke="#e8262b" stroke-width="0.95" />
<line x1="445.20" y1="71.60" x2="445.20" y2="80.80" stroke="#4a4a4a" stroke-width="0.85" />
<line x1="442.60" y1="71.60" x2="447.80" y2="71.60" stroke="#4a4a4a" stroke-width="0.9" />
<line x1="442.60" y1="80.80" x2="447.80" y2="80.80" stroke="#4a4a4a" stroke-width="0.9" />
<circle cx="445.20" cy="76.20" r="1.55" fill="#fff" stroke="#e8262b" stroke-width="0.95" />
<line x1="383.80" y1="111.30" x2="383.80" y2="117.10" stroke="#4a4a4a" stroke-width="0.85" />
<line x1="381.20" y1="111.30" x2="386.40" y2="111.30" stroke="#4a4a4a" stroke-width="0.9" />
<line x1="381.20" y1="117.10" x2="386.40" y2="117.10" stroke="#4a4a4a" stroke-width="0.9" />
<circle cx="383.80" cy="114.20" r="1.55" fill="#fff" stroke="#2b7bbf" stroke-width="0.95" />
<line x1="422.10" y1="96.60" x2="422.10" y2="102.60" stroke="#4a4a4a" stroke-width="0.85" />
<line x1="419.50" y1="96.60" x2="424.70" y2="96.60" stroke="#4a4a4a" stroke-width="0.9" />
<line x1="419.50" y1="102.60" x2="424.70" y2="102.60" stroke="#4a4a4a" stroke-width="0.9" />
<circle cx="422.10" cy="99.60" r="1.55" fill="#fff" stroke="#2b7bbf" stroke-width="0.95" />
<line x1="460.60" y1="76.20" x2="460.60" y2="84.60" stroke="#4a4a4a" stroke-width="0.85" />
<line x1="458.00" y1="76.20" x2="463.20" y2="76.20" stroke="#4a4a4a" stroke-width="0.9" />
<line x1="458.00" y1="84.60" x2="463.20" y2="84.60" stroke="#4a4a4a" stroke-width="0.9" />
<circle cx="460.60" cy="80.40" r="1.55" fill="#fff" stroke="#2b7bbf" stroke-width="0.95" />
<line x1="368.40" y1="142.10" x2="368.40" y2="146.50" stroke="#4a4a4a" stroke-width="0.85" />
<line x1="365.80" y1="142.10" x2="371.00" y2="142.10" stroke="#4a4a4a" stroke-width="0.9" />
<line x1="365.80" y1="146.50" x2="371.00" y2="146.50" stroke="#4a4a4a" stroke-width="0.9" />
<circle cx="368.40" cy="144.30" r="1.55" fill="#fff" stroke="#e8262b" stroke-width="0.95" />
<line x1="406.70" y1="127.80" x2="406.70" y2="132.60" stroke="#4a4a4a" stroke-width="0.85" />
<line x1="404.10" y1="127.80" x2="409.30" y2="127.80" stroke="#4a4a4a" stroke-width="0.9" />
<line x1="404.10" y1="132.60" x2="409.30" y2="132.60" stroke="#4a4a4a" stroke-width="0.9" />
<circle cx="406.70" cy="130.20" r="1.55" fill="#fff" stroke="#e8262b" stroke-width="0.95" />
<line x1="445.20" y1="115.10" x2="445.20" y2="120.30" stroke="#4a4a4a" stroke-width="0.85" />
<line x1="442.60" y1="115.10" x2="447.80" y2="115.10" stroke="#4a4a4a" stroke-width="0.9" />
<line x1="442.60" y1="120.30" x2="447.80" y2="120.30" stroke="#4a4a4a" stroke-width="0.9" />
<circle cx="445.20" cy="117.70" r="1.55" fill="#fff" stroke="#e8262b" stroke-width="0.95" />
<line x1="383.80" y1="144.90" x2="383.80" y2="148.90" stroke="#4a4a4a" stroke-width="0.85" />
<line x1="381.20" y1="144.90" x2="386.40" y2="144.90" stroke="#4a4a4a" stroke-width="0.9" />
<line x1="381.20" y1="148.90" x2="386.40" y2="148.90" stroke="#4a4a4a" stroke-width="0.9" />
<circle cx="383.80" cy="146.90" r="1.55" fill="#fff" stroke="#2b7bbf" stroke-width="0.95" />
<line x1="422.10" y1="130.90" x2="422.10" y2="135.30" stroke="#4a4a4a" stroke-width="0.85" />
<line x1="419.50" y1="130.90" x2="424.70" y2="130.90" stroke="#4a4a4a" stroke-width="0.9" />
<line x1="419.50" y1="135.30" x2="424.70" y2="135.30" stroke="#4a4a4a" stroke-width="0.9" />
<circle cx="422.10" cy="133.10" r="1.55" fill="#fff" stroke="#2b7bbf" stroke-width="0.95" />
<line x1="460.60" y1="117.60" x2="460.60" y2="122.80" stroke="#4a4a4a" stroke-width="0.85" />
<line x1="458.00" y1="117.60" x2="463.20" y2="117.60" stroke="#4a4a4a" stroke-width="0.9" />
<line x1="458.00" y1="122.80" x2="463.20" y2="122.80" stroke="#4a4a4a" stroke-width="0.9" />
<circle cx="460.60" cy="120.20" r="1.55" fill="#fff" stroke="#2b7bbf" stroke-width="0.95" />
<line x1="368.40" y1="158.60" x2="368.40" y2="162.20" stroke="#4a4a4a" stroke-width="0.85" />
<line x1="365.80" y1="158.60" x2="371.00" y2="158.60" stroke="#4a4a4a" stroke-width="0.9" />
<line x1="365.80" y1="162.20" x2="371.00" y2="162.20" stroke="#4a4a4a" stroke-width="0.9" />
<circle cx="368.40" cy="160.40" r="1.55" fill="#fff" stroke="#e8262b" stroke-width="0.95" />
<line x1="406.70" y1="155.60" x2="406.70" y2="159.20" stroke="#4a4a4a" stroke-width="0.85" />
<line x1="404.10" y1="155.60" x2="409.30" y2="155.60" stroke="#4a4a4a" stroke-width="0.9" />
<line x1="404.10" y1="159.20" x2="409.30" y2="159.20" stroke="#4a4a4a" stroke-width="0.9" />
<circle cx="406.70" cy="157.40" r="1.55" fill="#fff" stroke="#e8262b" stroke-width="0.95" />
<line x1="445.20" y1="150.40" x2="445.20" y2="154.80" stroke="#4a4a4a" stroke-width="0.85" />
<line x1="442.60" y1="150.40" x2="447.80" y2="150.40" stroke="#4a4a4a" stroke-width="0.9" />
<line x1="442.60" y1="154.80" x2="447.80" y2="154.80" stroke="#4a4a4a" stroke-width="0.9" />
<circle cx="445.20" cy="152.60" r="1.55" fill="#fff" stroke="#e8262b" stroke-width="0.95" />
<line x1="383.80" y1="159.30" x2="383.80" y2="162.50" stroke="#4a4a4a" stroke-width="0.85" />
<line x1="381.20" y1="159.30" x2="386.40" y2="159.30" stroke="#4a4a4a" stroke-width="0.9" />
<line x1="381.20" y1="162.50" x2="386.40" y2="162.50" stroke="#4a4a4a" stroke-width="0.9" />
<circle cx="383.80" cy="160.90" r="1.55" fill="#fff" stroke="#2b7bbf" stroke-width="0.95" />
<line x1="422.10" y1="158.70" x2="422.10" y2="162.30" stroke="#4a4a4a" stroke-width="0.85" />
<line x1="419.50" y1="158.70" x2="424.70" y2="158.70" stroke="#4a4a4a" stroke-width="0.9" />
<line x1="419.50" y1="162.30" x2="424.70" y2="162.30" stroke="#4a4a4a" stroke-width="0.9" />
<circle cx="422.10" cy="160.50" r="1.55" fill="#fff" stroke="#2b7bbf" stroke-width="0.95" />
<line x1="460.60" y1="151.60" x2="460.60" y2="156.00" stroke="#4a4a4a" stroke-width="0.85" />
<line x1="458.00" y1="151.60" x2="463.20" y2="151.60" stroke="#4a4a4a" stroke-width="0.9" />
<line x1="458.00" y1="156.00" x2="463.20" y2="156.00" stroke="#4a4a4a" stroke-width="0.9" />
<circle cx="460.60" cy="153.80" r="1.55" fill="#fff" stroke="#2b7bbf" stroke-width="0.95" />
<polyline points="464.00,69.60 465.60,69.60 465.60,83.80 464.00,83.80" fill="none" stroke="#9a9a9a" stroke-width="0.8" />
<polyline points="464.00,109.80 465.60,109.80 465.60,124.60 464.00,124.60" fill="none" stroke="#9a9a9a" stroke-width="0.8" />
<text x="0.00" y="0.00" font-size="7.6" text-anchor="middle" font-weight="normal" font-style="normal" fill="#000" transform="translate(473.30,76.20) rotate(-90)">**</text>
<text x="0.00" y="0.00" font-size="7.6" text-anchor="middle" font-weight="normal" font-style="normal" fill="#000" transform="translate(473.30,116.60) rotate(-90)">**</text>
<text x="472.80" y="79.80" font-size="7.5" text-anchor="start" font-weight="normal" font-style="normal" fill="#231f20" >RT</text>
<text x="472.80" y="120.40" font-size="7.5" text-anchor="start" font-weight="normal" font-style="normal" fill="#231f20" >IT</text>
<text x="472.80" y="156.20" font-size="7.5" text-anchor="start" font-weight="normal" font-style="normal" fill="#231f20" >MT</text>
<text x="495.20" y="10.00" font-size="13.2" text-anchor="start" font-weight="bold" font-style="normal" fill="#000" >c</text>
<line x1="524.40" y1="20.20" x2="524.40" y2="183.80" stroke="#7a7a7a" stroke-width="1.1" />
<line x1="523.90" y1="183.30" x2="641.40" y2="183.30" stroke="#7a7a7a" stroke-width="1.1" />
<line x1="522.20" y1="175.50" x2="524.40" y2="175.50" stroke="#7a7a7a" stroke-width="1" />
<text x="519.00" y="178.50" font-size="8.5" text-anchor="end" font-weight="normal" font-style="normal" fill="#231f20" >0</text>
<line x1="522.20" y1="148.80" x2="524.40" y2="148.80" stroke="#7a7a7a" stroke-width="1" />
<text x="519.00" y="151.80" font-size="8.5" text-anchor="end" font-weight="normal" font-style="normal" fill="#231f20" >2</text>
<line x1="522.20" y1="122.10" x2="524.40" y2="122.10" stroke="#7a7a7a" stroke-width="1" />
<text x="519.00" y="125.10" font-size="8.5" text-anchor="end" font-weight="normal" font-style="normal" fill="#231f20" >4</text>
<line x1="522.20" y1="95.40" x2="524.40" y2="95.40" stroke="#7a7a7a" stroke-width="1" />
<text x="519.00" y="98.40" font-size="8.5" text-anchor="end" font-weight="normal" font-style="normal" fill="#231f20" >6</text>
<line x1="522.20" y1="68.70" x2="524.40" y2="68.70" stroke="#7a7a7a" stroke-width="1" />
<text x="519.00" y="71.70" font-size="8.5" text-anchor="end" font-weight="normal" font-style="normal" fill="#231f20" >8</text>
<line x1="522.20" y1="42.00" x2="524.40" y2="42.00" stroke="#7a7a7a" stroke-width="1" />
<text x="519.00" y="45.00" font-size="8.5" text-anchor="end" font-weight="normal" font-style="normal" fill="#231f20" >10</text>
<line x1="546.60" y1="183.30" x2="546.60" y2="185.50" stroke="#7a7a7a" stroke-width="1" />
<text x="546.60" y="194.80" font-size="8.3" text-anchor="middle" font-weight="normal" font-style="normal" fill="#231f20" >FC</text>
<line x1="583.40" y1="183.30" x2="583.40" y2="185.50" stroke="#7a7a7a" stroke-width="1" />
<text x="583.40" y="194.80" font-size="8.3" text-anchor="middle" font-weight="normal" font-style="normal" fill="#231f20" >UC</text>
<line x1="619.60" y1="183.30" x2="619.60" y2="185.50" stroke="#7a7a7a" stroke-width="1" />
<text x="619.60" y="194.80" font-size="8.3" text-anchor="middle" font-weight="normal" font-style="normal" fill="#231f20" >UI</text>
<text x="0.00" y="0.00" font-size="8.5" text-anchor="middle" font-weight="normal" font-style="normal" fill="#231f20" transform="translate(503.0,101.6) rotate(-90)">Errors (%)</text>
<rect x="532.20" y="147.87" width="14.10" height="27.63" rx="0" fill="#f7c6c9" stroke="#e8474e" stroke-width="1.0" />
<rect x="547.30" y="121.83" width="14.00" height="53.67" rx="0" fill="#c3daef" stroke="#5b9bd3" stroke-width="1.0" />
<rect x="569.00" y="164.55" width="14.10" height="10.95" rx="0" fill="#f7c6c9" stroke="#e8474e" stroke-width="1.0" />
<rect x="584.10" y="168.56" width="13.40" height="6.94" rx="0" fill="#c3daef" stroke="#5b9bd3" stroke-width="1.0" />
<rect x="605.30" y="159.08" width="14.00" height="16.42" rx="0" fill="#f7c6c9" stroke="#e8474e" stroke-width="1.0" />
<rect x="620.30" y="141.86" width="14.40" height="33.64" rx="0" fill="#c3daef" stroke="#5b9bd3" stroke-width="1.0" />
<rect x="538.05" y="174.85" width="2.30" height="1.30" rx="0" fill="#f29a9f" stroke="none" stroke-width="1" />
<rect x="538.05" y="156.31" width="2.30" height="1.30" rx="0" fill="#f29a9f" stroke="none" stroke-width="1" />
<rect x="538.05" y="137.77" width="2.30" height="1.30" rx="0" fill="#f29a9f" stroke="none" stroke-width="1" />
<rect x="538.05" y="119.22" width="2.30" height="1.30" rx="0" fill="#f29a9f" stroke="none" stroke-width="1" />
<rect x="538.05" y="100.68" width="2.30" height="1.30" rx="0" fill="#f29a9f" stroke="none" stroke-width="1" />
<rect x="538.05" y="82.14" width="2.30" height="1.30" rx="0" fill="#f29a9f" stroke="none" stroke-width="1" />
<rect x="535.85" y="174.85" width="2.30" height="1.30" rx="0" fill="#f29a9f" stroke="none" stroke-width="1" />
<rect x="535.85" y="156.31" width="2.30" height="1.30" rx="0" fill="#f29a9f" stroke="none" stroke-width="1" />
<rect x="535.85" y="137.77" width="2.30" height="1.30" rx="0" fill="#f29a9f" stroke="none" stroke-width="1" />
<rect x="540.25" y="174.85" width="2.30" height="1.30" rx="0" fill="#f29a9f" stroke="none" stroke-width="1" />
<rect x="540.25" y="137.77" width="2.30" height="1.30" rx="0" fill="#f29a9f" stroke="none" stroke-width="1" />
<rect x="553.05" y="174.85" width="2.30" height="1.30" rx="0" fill="#7db4e2" stroke="none" stroke-width="1" />
<rect x="553.05" y="156.31" width="2.30" height="1.30" rx="0" fill="#7db4e2" stroke="none" stroke-width="1" />
<rect x="553.05" y="137.77" width="2.30" height="1.30" rx="0" fill="#7db4e2" stroke="none" stroke-width="1" />
<rect x="553.05" y="119.22" width="2.30" height="1.30" rx="0" fill="#7db4e2" stroke="none" stroke-width="1" />
<rect x="553.05" y="100.68" width="2.30" height="1.30" rx="0" fill="#7db4e2" stroke="none" stroke-width="1" />
<rect x="553.05" y="82.14" width="2.30" height="1.30" rx="0" fill="#7db4e2" stroke="none" stroke-width="1" />
<rect x="553.05" y="63.60" width="2.30" height="1.30" rx="0" fill="#7db4e2" stroke="none" stroke-width="1" />
<rect x="553.05" y="26.52" width="2.30" height="1.30" rx="0" fill="#7db4e2" stroke="none" stroke-width="1" />
<rect x="550.85" y="174.85" width="2.30" height="1.30" rx="0" fill="#7db4e2" stroke="none" stroke-width="1" />
<rect x="550.85" y="137.77" width="2.30" height="1.30" rx="0" fill="#7db4e2" stroke="none" stroke-width="1" />
<rect x="550.85" y="119.22" width="2.30" height="1.30" rx="0" fill="#7db4e2" stroke="none" stroke-width="1" />
<rect x="550.85" y="100.68" width="2.30" height="1.30" rx="0" fill="#7db4e2" stroke="none" stroke-width="1" />
<rect x="555.25" y="174.85" width="2.30" height="1.30" rx="0" fill="#7db4e2" stroke="none" stroke-width="1" />
<rect x="555.25" y="100.68" width="2.30" height="1.30" rx="0" fill="#7db4e2" stroke="none" stroke-width="1" />
<rect x="555.25" y="82.14" width="2.30" height="1.30" rx="0" fill="#7db4e2" stroke="none" stroke-width="1" />
<rect x="574.85" y="174.85" width="2.30" height="1.30" rx="0" fill="#f29a9f" stroke="none" stroke-width="1" />
<rect x="574.85" y="156.31" width="2.30" height="1.30" rx="0" fill="#f29a9f" stroke="none" stroke-width="1" />
<rect x="574.85" y="137.77" width="2.30" height="1.30" rx="0" fill="#f29a9f" stroke="none" stroke-width="1" />
<rect x="574.85" y="63.60" width="2.30" height="1.30" rx="0" fill="#f29a9f" stroke="none" stroke-width="1" />
<rect x="572.65" y="174.85" width="2.30" height="1.30" rx="0" fill="#f29a9f" stroke="none" stroke-width="1" />
<rect x="572.65" y="156.31" width="2.30" height="1.30" rx="0" fill="#f29a9f" stroke="none" stroke-width="1" />
<rect x="577.05" y="174.85" width="2.30" height="1.30" rx="0" fill="#f29a9f" stroke="none" stroke-width="1" />
<rect x="577.05" y="156.31" width="2.30" height="1.30" rx="0" fill="#f29a9f" stroke="none" stroke-width="1" />
<rect x="589.45" y="174.85" width="2.30" height="1.30" rx="0" fill="#7db4e2" stroke="none" stroke-width="1" />
<rect x="589.45" y="156.31" width="2.30" height="1.30" rx="0" fill="#7db4e2" stroke="none" stroke-width="1" />
<rect x="589.45" y="100.68" width="2.30" height="1.30" rx="0" fill="#7db4e2" stroke="none" stroke-width="1" />
<rect x="587.25" y="174.85" width="2.30" height="1.30" rx="0" fill="#7db4e2" stroke="none" stroke-width="1" />
<rect x="587.25" y="156.31" width="2.30" height="1.30" rx="0" fill="#7db4e2" stroke="none" stroke-width="1" />
<rect x="591.65" y="174.85" width="2.30" height="1.30" rx="0" fill="#7db4e2" stroke="none" stroke-width="1" />
<rect x="591.65" y="156.31" width="2.30" height="1.30" rx="0" fill="#7db4e2" stroke="none" stroke-width="1" />
<rect x="611.05" y="174.85" width="2.30" height="1.30" rx="0" fill="#f29a9f" stroke="none" stroke-width="1" />
<rect x="611.05" y="156.31" width="2.30" height="1.30" rx="0" fill="#f29a9f" stroke="none" stroke-width="1" />
<rect x="611.05" y="137.77" width="2.30" height="1.30" rx="0" fill="#f29a9f" stroke="none" stroke-width="1" />
<rect x="611.05" y="119.22" width="2.30" height="1.30" rx="0" fill="#f29a9f" stroke="none" stroke-width="1" />
<rect x="608.85" y="174.85" width="2.30" height="1.30" rx="0" fill="#f29a9f" stroke="none" stroke-width="1" />
<rect x="608.85" y="156.31" width="2.30" height="1.30" rx="0" fill="#f29a9f" stroke="none" stroke-width="1" />
<rect x="608.85" y="137.77" width="2.30" height="1.30" rx="0" fill="#f29a9f" stroke="none" stroke-width="1" />
<rect x="613.25" y="174.85" width="2.30" height="1.30" rx="0" fill="#f29a9f" stroke="none" stroke-width="1" />
<rect x="613.25" y="137.77" width="2.30" height="1.30" rx="0" fill="#f29a9f" stroke="none" stroke-width="1" />
<rect x="625.85" y="174.85" width="2.30" height="1.30" rx="0" fill="#7db4e2" stroke="none" stroke-width="1" />
<rect x="625.85" y="156.31" width="2.30" height="1.30" rx="0" fill="#7db4e2" stroke="none" stroke-width="1" />
<rect x="625.85" y="137.77" width="2.30" height="1.30" rx="0" fill="#7db4e2" stroke="none" stroke-width="1" />
<rect x="625.85" y="119.22" width="2.30" height="1.30" rx="0" fill="#7db4e2" stroke="none" stroke-width="1" />
<rect x="625.85" y="100.68" width="2.30" height="1.30" rx="0" fill="#7db4e2" stroke="none" stroke-width="1" />
<rect x="625.85" y="26.52" width="2.30" height="1.30" rx="0" fill="#7db4e2" stroke="none" stroke-width="1" />
<rect x="623.65" y="174.85" width="2.30" height="1.30" rx="0" fill="#7db4e2" stroke="none" stroke-width="1" />
<rect x="623.65" y="137.77" width="2.30" height="1.30" rx="0" fill="#7db4e2" stroke="none" stroke-width="1" />
<rect x="623.65" y="119.22" width="2.30" height="1.30" rx="0" fill="#7db4e2" stroke="none" stroke-width="1" />
<rect x="628.05" y="174.85" width="2.30" height="1.30" rx="0" fill="#7db4e2" stroke="none" stroke-width="1" />
<rect x="628.05" y="137.77" width="2.30" height="1.30" rx="0" fill="#7db4e2" stroke="none" stroke-width="1" />
<rect x="628.05" y="119.22" width="2.30" height="1.30" rx="0" fill="#7db4e2" stroke="none" stroke-width="1" />
<line x1="539.40" y1="142.10" x2="539.40" y2="153.40" stroke="#444" stroke-width="0.9" />
<line x1="537.10" y1="142.10" x2="541.70" y2="142.10" stroke="#444" stroke-width="0.9" />
<line x1="537.10" y1="153.40" x2="541.70" y2="153.40" stroke="#444" stroke-width="0.9" />
<line x1="554.00" y1="113.40" x2="554.00" y2="130.40" stroke="#444" stroke-width="0.9" />
<line x1="551.70" y1="113.40" x2="556.30" y2="113.40" stroke="#444" stroke-width="0.9" />
<line x1="551.70" y1="130.40" x2="556.30" y2="130.40" stroke="#444" stroke-width="0.9" />
<line x1="576.00" y1="158.50" x2="576.00" y2="170.20" stroke="#444" stroke-width="0.9" />
<line x1="573.70" y1="158.50" x2="578.30" y2="158.50" stroke="#444" stroke-width="0.9" />
<line x1="573.70" y1="170.20" x2="578.30" y2="170.20" stroke="#444" stroke-width="0.9" />
<line x1="590.40" y1="165.10" x2="590.40" y2="171.90" stroke="#444" stroke-width="0.9" />
<line x1="588.10" y1="165.10" x2="592.70" y2="165.10" stroke="#444" stroke-width="0.9" />
<line x1="588.10" y1="171.90" x2="592.70" y2="171.90" stroke="#444" stroke-width="0.9" />
<line x1="612.00" y1="155.30" x2="612.00" y2="162.80" stroke="#444" stroke-width="0.9" />
<line x1="609.70" y1="155.30" x2="614.30" y2="155.30" stroke="#444" stroke-width="0.9" />
<line x1="609.70" y1="162.80" x2="614.30" y2="162.80" stroke="#444" stroke-width="0.9" />
<line x1="627.10" y1="134.50" x2="627.10" y2="149.40" stroke="#444" stroke-width="0.9" />
<line x1="624.80" y1="134.50" x2="629.40" y2="134.50" stroke="#444" stroke-width="0.9" />
<line x1="624.80" y1="149.40" x2="629.40" y2="149.40" stroke="#444" stroke-width="0.9" />
<polyline points="536.00,79.40 536.00,77.80 556.80,77.80 556.80,79.40" fill="none" stroke="#8a8a8a" stroke-width="0.8" />
<text x="546.20" y="77.20" font-size="8.0" text-anchor="middle" font-weight="normal" font-style="normal" fill="#000" letter-spacing="0.7">**</text>
<polyline points="609.50,94.50 609.50,92.90 629.80,92.90 629.80,94.50" fill="none" stroke="#8a8a8a" stroke-width="0.8" />
<text x="619.60" y="92.20" font-size="8.0" text-anchor="middle" font-weight="normal" font-style="normal" fill="#000" letter-spacing="0.7">**</text>
<rect x="603.90" y="33.30" width="33.90" height="16.10" rx="0" fill="#fff" stroke="#8c8c8c" stroke-width="0.8" />
<rect x="606.90" y="35.50" width="7.80" height="5.30" rx="0" fill="#f7c6c9" stroke="#e8474e" stroke-width="0.7" />
<rect x="606.90" y="42.30" width="7.80" height="5.30" rx="0" fill="#c3daef" stroke="#5b9bd3" stroke-width="0.7" />
<text x="616.80" y="40.40" font-size="6.4" text-anchor="start" font-weight="normal" font-style="normal" fill="#231f20" >Real</text>
<text x="616.80" y="47.30" font-size="6.4" text-anchor="start" font-weight="normal" font-style="normal" fill="#231f20" >Sham</text>
<text x="2.40" y="253.90" font-size="13.4" text-anchor="start" font-weight="bold" font-style="normal" fill="#000" >d</text>
<line x1="18.60" y1="256.00" x2="18.60" y2="375.50" stroke="#777" stroke-width="0.8" stroke-dasharray="1.3,1.1"/>
<line x1="52.20" y1="279.50" x2="52.20" y2="328.00" stroke="#777" stroke-width="0.8" stroke-dasharray="1.3,1.1"/>
<line x1="133.30" y1="277.40" x2="133.30" y2="328.00" stroke="#666" stroke-width="0.8" stroke-dasharray="1.3,1.1"/>
<line x1="133.30" y1="328.00" x2="133.30" y2="375.50" stroke="#3a3a3a" stroke-width="0.85" stroke-dasharray="1.6,0.9"/>
<line x1="174.10" y1="255.30" x2="174.10" y2="375.50" stroke="#777" stroke-width="0.8" stroke-dasharray="1.3,1.1"/>
<line x1="53.70" y1="260.30" x2="20.40" y2="260.30" stroke="#6e6e6e" stroke-width="0.9" />
<polyline points="23.10,258.70 18.90,260.30 23.10,261.90" fill="none" stroke="#6e6e6e" stroke-width="0.9" />
<line x1="147.70" y1="260.30" x2="172.10" y2="260.30" stroke="#6e6e6e" stroke-width="0.9" />
<polyline points="169.40,258.70 173.60,260.30 169.40,261.90" fill="none" stroke="#6e6e6e" stroke-width="0.9" />
<text x="64.40" y="262.70" font-size="8.3" text-anchor="start" font-weight="normal" font-style="normal" fill="#231f20" >Reaction time (RT)</text>
<text x="21.00" y="278.20" font-size="5.5" text-anchor="start" font-weight="normal" font-style="normal" fill="#231f20" >Nondecision</text>
<text x="35.80" y="285.10" font-size="5.7" text-anchor="middle" font-weight="normal" font-style="normal" fill="#231f20" >time</text>
<line x1="28.20" y1="283.00" x2="20.40" y2="283.00" stroke="#6e6e6e" stroke-width="0.9" />
<polyline points="23.10,281.40 18.90,283.00 23.10,284.60" fill="none" stroke="#6e6e6e" stroke-width="0.9" />
<line x1="42.20" y1="283.00" x2="50.50" y2="283.00" stroke="#6e6e6e" stroke-width="0.9" />
<polyline points="47.80,281.40 52.00,283.00 47.80,284.60" fill="none" stroke="#6e6e6e" stroke-width="0.9" />
<text x="77.80" y="276.80" font-size="8.15" text-anchor="start" font-weight="normal" font-style="normal" fill="#231f20" >Decision</text>
<text x="93.70" y="286.60" font-size="8.15" text-anchor="middle" font-weight="normal" font-style="normal" fill="#231f20" >time</text>
<line x1="73.00" y1="283.40" x2="54.10" y2="283.40" stroke="#6e6e6e" stroke-width="0.9" />
<polyline points="56.80,281.80 52.60,283.40 56.80,285.00" fill="none" stroke="#6e6e6e" stroke-width="0.9" />
<line x1="114.80" y1="283.40" x2="131.30" y2="283.40" stroke="#6e6e6e" stroke-width="0.9" />
<polyline points="128.60,281.80 132.80,283.40 128.60,285.00" fill="none" stroke="#6e6e6e" stroke-width="0.9" />
<text x="138.50" y="278.20" font-size="5.5" text-anchor="start" font-weight="normal" font-style="normal" fill="#231f20" >Nondecision</text>
<text x="154.40" y="285.00" font-size="5.7" text-anchor="middle" font-weight="normal" font-style="normal" fill="#231f20" >time</text>
<line x1="145.20" y1="283.60" x2="135.30" y2="283.60" stroke="#6e6e6e" stroke-width="0.9" />
<polyline points="138.00,282.00 133.80,283.60 138.00,285.20" fill="none" stroke="#6e6e6e" stroke-width="0.9" />
<line x1="163.00" y1="283.60" x2="172.10" y2="283.60" stroke="#6e6e6e" stroke-width="0.9" />
<polyline points="169.40,282.00 173.60,283.60 169.40,285.20" fill="none" stroke="#6e6e6e" stroke-width="0.9" />
<text x="65.30" y="308.10" font-size="6.95" text-anchor="start" font-weight="normal" font-style="normal" fill="#231f20" >Correct RT</text>
<text x="65.70" y="316.00" font-size="6.95" text-anchor="start" font-weight="normal" font-style="normal" fill="#231f20" >distribution</text>
<line x1="52.10" y1="327.90" x2="266.30" y2="327.90" stroke="#3a3a3a" stroke-width="1.2" />
<line x1="52.10" y1="439.80" x2="266.60" y2="439.80" stroke="#3a3a3a" stroke-width="1.2" />
<line x1="52.10" y1="327.40" x2="52.10" y2="440.30" stroke="#2a2a2a" stroke-width="1.3" />
<polyline points="95.80,327.90 96.28,327.81 96.94,327.71 97.73,327.57 98.57,327.38 99.42,327.10 100.20,326.70 100.93,326.20 101.67,325.63 102.40,324.97 103.13,324.20 103.87,323.32 104.60,322.30 105.33,321.13 106.07,319.83 106.80,318.41 107.53,316.88 108.27,315.27 109.00,313.60 109.73,311.79 110.47,309.81 111.21,307.76 111.94,305.70 112.67,303.72 113.40,301.90 114.10,300.20 114.78,298.54 115.46,296.97 116.15,295.51 116.89,294.21 117.70,293.10 118.61,292.19 119.60,291.44 120.64,290.86 121.69,290.41 122.68,290.10 123.60,289.90 124.42,289.86 125.18,289.99 125.90,290.25 126.60,290.60 127.29,291.00 128.00,291.40 128.69,291.80 129.33,292.24 129.97,292.73 130.65,293.28 131.41,293.90 132.30,294.60 133.33,295.41 134.46,296.31 135.67,297.29 136.94,298.31 138.26,299.36 139.60,300.40 140.96,301.46 142.37,302.57 143.82,303.70 145.31,304.83 146.83,305.94 148.40,307.00 149.97,308.02 151.53,309.01 153.14,309.99 154.82,310.94 156.63,311.88 158.60,312.80 160.75,313.72 163.06,314.64 165.49,315.54 168.01,316.41 170.59,317.23 173.20,318.00 175.84,318.70 178.52,319.34 181.26,319.94 184.08,320.50 186.99,321.05 190.00,321.60 193.09,322.15 196.24,322.68 199.49,323.20 202.84,323.70" fill="none" stroke="#383838" stroke-width="2.3" stroke-linejoin="round" stroke-linecap="round"/>
<polyline points="202.84,323.70 206.34,324.16 210.00,324.60 213.81,325.00 217.74,325.38 221.81,325.73 226.04,326.04 230.43,326.34 235.00,326.60 240.18,326.84 246.04,327.04 252.06,327.23 257.74,327.38 262.56,327.50 266.00,327.60" fill="none" stroke="#444" stroke-width="1.5" stroke-linejoin="round" stroke-linecap="round"/>
<polyline points="86.00,440.00 87.39,440.03 89.37,440.06 91.69,440.10 94.07,440.16 96.27,440.26 98.00,440.40 99.22,440.55 100.11,440.70 100.81,440.88 101.44,441.13 102.13,441.49 103.00,442.00 104.05,442.69 105.19,443.53 106.38,444.48 107.59,445.49 108.81,446.51 110.00,447.50 111.17,448.51 112.33,449.59 113.50,450.68 114.67,451.73 115.83,452.69 117.00,453.50 118.16,454.20 119.30,454.82 120.44,455.35 121.59,455.77 122.78,456.06 124.00,456.20 125.25,456.15 126.52,455.93 127.81,455.57 129.15,455.13 130.54,454.66 132.00,454.20 133.57,453.73 135.26,453.19 137.00,452.62 138.74,452.05 140.43,451.50 142.00,451.00 143.37,450.56 144.56,450.16 145.69,449.79 146.89,449.41 148.28,449.03 150.00,448.60 152.09,448.13 154.48,447.61 157.06,447.09 159.74,446.56 162.42,446.06 165.00,445.60 167.44,445.18 169.81,444.79 172.19,444.43 174.63,444.07 177.21,443.73 180.00,443.40 182.93,443.07 185.93,442.74 189.06,442.43 192.41,442.13 196.03,441.85 200.00,441.60" fill="none" stroke="#151515" stroke-width="2.3" stroke-linejoin="round" stroke-linecap="round"/>
<polyline points="196.03,441.85 200.00,441.60 204.35,441.37 209.04,441.16 214.00,440.97 219.19,440.80 224.54,440.64 230.00,440.50 236.07,440.38 242.89,440.27 249.88,440.18 256.44,440.11 262.01,440.05 266.00,440.00" fill="none" stroke="#333" stroke-width="1.4" stroke-linejoin="round" stroke-linecap="round"/>
<text x="43.00" y="330.10" font-size="11.5" text-anchor="start" font-weight="normal" font-style="italic" fill="#231f20" >a</text>
<text x="43.00" y="369.40" font-size="11.5" text-anchor="start" font-weight="normal" font-style="italic" fill="#231f20" >z</text>
<text x="42.60" y="443.20" font-size="11.0" text-anchor="start" font-weight="normal" font-style="normal" fill="#231f20" >0</text>
<text x="195.80" y="342.00" font-size="8.3" text-anchor="start" font-weight="normal" font-style="normal" fill="#231f20" >Decision threshold</text>
<text x="198.00" y="432.90" font-size="8.2" text-anchor="start" font-weight="normal" font-style="normal" fill="#231f20" >Decision threshold</text>
<polyline points="52.00,375.60 52.95,370.82 53.90,367.25 54.80,366.44 55.70,360.84 56.60,360.36 57.47,355.18 58.33,355.47 59.20,351.50 60.20,349.36 61.20,344.20 62.15,347.40 63.10,349.01 64.10,347.91 65.10,348.15 66.10,348.39 67.10,350.95 68.10,353.30 69.10,353.96 70.05,351.54 71.00,352.19 72.00,346.11 73.00,341.51 74.00,340.26 75.00,337.58 75.95,336.41 76.90,335.15 77.90,338.18 78.90,336.82 79.90,336.33 80.90,336.17 81.90,338.82 82.90,337.88 83.85,339.48 84.80,344.57 85.80,343.24 86.80,346.93 87.80,350.97 88.80,355.58 89.75,354.30 90.70,354.77 91.70,359.81 92.70,360.58 93.70,359.76 94.70,359.66 95.57,361.16 96.43,362.96 97.30,363.97 98.30,369.29 99.30,373.10 100.25,366.73 101.20,361.35 102.20,358.93 103.20,355.08 104.20,351.26 105.20,349.54 106.07,349.95 106.93,347.70 107.80,346.37 108.80,346.56 109.80,345.97 110.80,348.65 111.80,349.37 112.67,355.68 113.53,356.77 114.40,358.32 115.05,356.88 115.70,352.91 116.70,350.67 117.70,349.75 118.65,348.96 119.60,345.25 120.60,342.99 121.60,340.26 122.25,335.78 122.90,334.98 123.90,337.58 124.90,336.39 125.90,341.13 126.90,345.99 127.85,351.64 128.80,357.08 129.60,350.00 130.40,349.65 131.25,342.60 132.10,337.57 132.55,332.99 133.00,328.20" fill="none" stroke="#8c8c8c" stroke-width="0.8" stroke-linejoin="round"/>
<polyline points="52.00,375.60 52.48,371.74 52.95,370.28 53.42,368.74 53.90,370.70 54.35,366.09 54.80,365.48 55.25,364.14 55.70,363.82 56.15,362.42 56.60,360.82 57.03,357.45 57.47,353.67 57.90,356.10 58.33,354.69 58.77,354.31 59.20,351.18 59.60,349.25 60.00,349.15 60.40,345.47 60.80,344.77 61.20,343.49 61.68,346.20 62.15,349.51 62.62,349.07 63.10,350.67 63.60,349.26 64.10,348.98 64.60,347.79 65.10,347.66 65.50,345.74 65.90,347.88 66.30,348.44 66.70,351.64 67.10,352.10 67.50,353.19 67.90,354.21 68.30,352.49 68.70,354.65 69.10,356.25 69.57,352.91 70.05,353.25 70.53,350.78 71.00,348.06 71.40,348.56 71.80,345.85 72.20,345.39 72.60,343.12 73.00,342.48 73.40,338.74 73.80,343.00 74.20,341.33 74.60,338.48 75.00,337.01 75.47,337.45 75.95,337.61 76.43,336.66 76.90,335.98 77.30,333.40 77.70,334.66 78.10,337.89 78.50,336.83 78.90,334.97 79.30,335.50 79.70,334.54 80.10,334.79 80.50,337.18 80.90,335.23 81.30,337.38 81.70,336.77 82.10,335.24 82.50,336.79 82.90,340.89 83.38,338.17 83.85,338.82 84.33,342.61 84.80,342.21 85.20,343.13 85.60,345.97 86.00,343.07 86.40,346.77 86.80,346.01 87.20,346.79 87.60,348.70 88.00,352.31 88.40,351.93 88.80,351.05 89.28,352.92 89.75,357.12 90.22,357.48 90.70,355.86 91.10,360.95 91.50,358.31 91.90,358.08 92.30,360.15 92.70,362.25 93.10,362.69 93.50,361.60 93.90,359.44 94.30,358.89 94.70,357.41 95.13,359.98 95.57,360.20 96.00,362.10 96.43,361.11 96.87,362.90 97.30,363.32 97.70,364.36 98.10,365.83 98.50,367.47 98.90,368.71 99.30,372.30 99.78,369.27 100.25,365.08 100.72,364.88 101.20,362.15 101.60,362.15 102.00,358.68 102.40,357.22 102.80,355.19 103.20,354.75 103.60,354.29 104.00,352.97 104.40,351.53 104.80,351.61 105.20,350.11 105.63,349.75 106.07,347.75 106.50,348.60 106.93,346.58 107.37,346.21 107.80,346.90 108.20,349.15 108.60,347.64 109.00,346.29 109.40,345.92 109.80,347.21 110.20,348.76 110.60,349.62 111.00,348.95 111.40,350.47 111.80,350.90 112.23,352.27 112.67,352.88 113.10,354.94 113.53,353.92 113.97,356.41 114.40,359.72 114.83,355.86 115.27,355.46 115.70,351.01 116.10,351.37 116.50,351.53 116.90,348.99 117.30,348.60 117.70,351.74 118.17,346.86 118.65,345.83 119.12,345.00 119.60,344.74 120.00,343.35 120.40,343.27 120.80,341.71 121.20,338.92 121.60,337.66 122.03,335.50 122.47,334.53 122.90,334.59 123.30,336.92 123.70,336.69 124.10,338.05 124.50,338.74 124.90,337.90 125.30,342.00 125.70,340.10 126.10,341.29 126.50,342.85 126.90,346.10 127.38,347.48 127.85,349.69 128.33,354.08 128.80,357.89 129.33,353.30 129.87,350.06 130.40,348.63 130.82,345.88 131.25,343.21 131.68,338.49 132.10,337.15 132.55,332.94 133.00,328.20" fill="none" stroke="#999" stroke-width="0.6" stroke-linejoin="round" opacity="0.8"/>
<polyline points="52.60,376.40 53.33,375.30 54.07,379.10 54.80,378.70 55.53,378.98 56.27,382.38 57.00,380.95 57.75,382.16 58.50,384.94 59.50,387.38 60.50,389.43 61.37,390.61 62.23,391.85 63.10,394.09 63.98,396.37 64.85,398.53 65.72,401.98 66.60,403.90 67.50,407.39 68.40,409.42 69.30,412.31 70.00,410.37 70.70,407.56 71.40,406.46 72.10,401.72 72.80,400.21 73.65,402.16 74.50,403.06 75.33,403.84 76.17,401.97 77.00,398.36 77.95,403.06 78.90,405.36 79.68,400.66 80.45,400.28 81.22,395.78 82.00,391.52 82.73,395.71 83.47,397.20 84.20,398.63 85.10,397.31 86.00,399.25 86.85,404.00 87.70,411.16 88.60,409.40 89.50,406.97 90.35,404.51 91.20,404.40 92.07,403.77 92.93,402.23 93.80,400.54 94.50,399.72 95.20,400.15 95.90,402.06 96.60,400.65 97.30,399.70 98.17,397.58 99.03,397.84 99.90,395.60 100.77,398.85 101.63,401.92 102.50,404.59 103.20,404.88 103.90,405.63 104.60,407.45 105.30,410.30 106.00,410.08 106.90,409.14 107.80,413.01 108.70,412.56 109.57,419.05 110.43,418.22 111.30,421.80 112.17,422.20 113.03,423.48 113.90,423.11 114.60,422.36 115.30,422.06 116.00,424.05 116.70,423.82 117.40,423.91 118.27,423.76 119.13,419.51 120.00,416.91 120.90,418.79 121.80,423.11 122.70,426.09 123.40,427.49 124.10,429.86 124.80,431.11 125.50,432.21 126.20,433.45 127.10,429.18 128.00,427.25 128.85,426.64 129.70,424.13 130.55,421.96 131.40,421.36 132.10,417.96 132.80,416.12 133.50,415.60 134.20,412.24 134.90,411.95 135.80,416.28 136.70,421.82 137.57,419.82 138.43,414.14 139.30,413.92 140.20,413.52 141.10,415.20 142.00,416.39 142.87,418.40 143.73,417.72 144.60,420.07 145.47,416.13 146.33,414.88 147.20,413.29 148.07,415.89 148.93,416.61 149.80,417.77 150.70,422.02 151.60,424.88 152.30,429.16 153.00,430.22 153.70,431.47 154.40,432.90 155.10,433.59 155.97,435.52 156.83,438.49 157.70,439.40" fill="none" stroke="#8c8c8c" stroke-width="0.8" stroke-linejoin="round"/>
<polyline points="52.60,376.40 53.04,375.88 53.48,376.33 53.92,379.64 54.36,380.06 54.80,378.95 55.24,379.69 55.68,379.71 56.12,381.65 56.56,379.82 57.00,380.90 57.50,382.79 58.00,385.35 58.50,384.70 58.90,386.00 59.30,385.85 59.70,386.37 60.10,387.09 60.50,388.70 60.93,390.71 61.37,389.83 61.80,390.97 62.23,392.24 62.67,394.19 63.10,395.65 63.54,394.49 63.98,397.63 64.41,397.20 64.85,400.46 65.29,399.64 65.72,400.69 66.16,402.34 66.60,404.33 67.05,404.66 67.50,407.59 67.95,408.98 68.40,410.37 68.85,412.06 69.30,414.25 69.74,410.67 70.17,409.90 70.61,408.21 71.05,404.12 71.49,405.42 71.92,402.37 72.36,400.78 72.80,399.46 73.22,401.22 73.65,402.60 74.08,403.88 74.50,403.56 74.92,404.59 75.33,403.60 75.75,401.98 76.17,401.78 76.58,402.12 77.00,401.02 77.47,402.31 77.95,402.58 78.43,404.80 78.90,407.07 79.34,403.27 79.79,399.13 80.23,401.46 80.67,397.03 81.11,394.38 81.56,391.52 82.00,393.21 82.44,395.48 82.88,396.82 83.32,396.62 83.76,400.28 84.20,399.91 84.65,399.04 85.10,399.58 85.55,399.51 86.00,399.06 86.42,402.36 86.85,402.12 87.28,409.51 87.70,409.82 88.15,410.53 88.60,408.04 89.05,408.45 89.50,407.29 89.92,404.38 90.35,405.51 90.78,404.59 91.20,401.26 91.63,399.80 92.07,401.26 92.50,400.74 92.93,401.60 93.37,401.16 93.80,402.84 94.24,401.57 94.67,400.37 95.11,400.76 95.55,396.99 95.99,399.25 96.42,399.12 96.86,399.98 97.30,400.38 97.73,399.67 98.17,399.96 98.60,397.42 99.03,398.03 99.47,396.93 99.90,396.52 100.33,398.05 100.77,398.50 101.20,400.25 101.63,401.12 102.07,403.56 102.50,403.37 102.94,404.64 103.38,408.16 103.81,406.57 104.25,407.21 104.69,408.67 105.12,406.94 105.56,409.78 106.00,410.60 106.45,410.66 106.90,411.73 107.35,411.94 107.80,412.86 108.25,411.10 108.70,412.82 109.13,413.25 109.57,416.99 110.00,417.26 110.43,417.14 110.87,420.43 111.30,420.70 111.73,423.38 112.17,422.10 112.60,420.18 113.03,422.64 113.47,424.63 113.90,424.09 114.34,423.04 114.78,424.68 115.21,424.69 115.65,425.86 116.09,425.28 116.53,424.74 116.96,423.46 117.40,424.84 117.83,423.41 118.27,421.62 118.70,420.65 119.13,417.28 119.57,417.93 120.00,415.81 120.45,417.98 120.90,419.19 121.35,420.69 121.80,423.11 122.25,425.49 122.70,425.92 123.14,427.56 123.58,427.14 124.01,429.42 124.45,429.82 124.89,429.15 125.33,432.94 125.76,431.36 126.20,433.40 126.65,430.41 127.10,428.58 127.55,430.11 128.00,426.33 128.43,424.65 128.85,425.99 129.28,423.53 129.70,424.26 130.12,425.81 130.55,422.28 130.97,422.30 131.40,421.67 131.84,419.98 132.28,418.23 132.71,418.86 133.15,415.65 133.59,414.86 134.03,413.26 134.46,410.29 134.90,410.88 135.35,413.19 135.80,416.52 136.25,419.20 136.70,422.86 137.13,417.57 137.57,418.00 138.00,416.94 138.43,415.31 138.87,415.66 139.30,413.91 139.75,414.58 140.20,412.89 140.65,414.11 141.10,415.59 141.55,415.55 142.00,415.78 142.43,416.68 142.87,416.80 143.30,416.19 143.73,419.75 144.17,417.28 144.60,419.17 145.03,418.24 145.47,417.81 145.90,415.12 146.33,413.75 146.77,414.59 147.20,413.51 147.63,411.27 148.07,411.83 148.50,415.15 148.93,416.20 149.37,417.21 149.80,418.89 150.25,419.22 150.70,425.49 151.15,425.40 151.60,427.84 152.04,427.61 152.47,425.81 152.91,429.54 153.35,429.60 153.79,431.76 154.22,432.09 154.66,434.01 155.10,433.16 155.53,434.64 155.97,435.94 156.40,435.91 156.83,437.13 157.27,439.26 157.70,439.40" fill="none" stroke="#999" stroke-width="0.6" stroke-linejoin="round" opacity="0.8"/>
<line x1="52.30" y1="375.50" x2="86.60" y2="349.90" stroke="#000" stroke-width="2.0" />
<polygon points="91.2,346.4 82.3,348.2 86.4,353.6" fill="#000"/>
<text x="92.60" y="345.40" font-size="11.5" text-anchor="start" font-weight="normal" font-style="italic" fill="#231f20" >v</text>
<text x="145.20" y="346.60" font-size="6.9" text-anchor="start" font-weight="normal" font-style="normal" fill="#231f20" >Correct</text>
<text x="144.20" y="354.80" font-size="6.9" text-anchor="start" font-weight="normal" font-style="normal" fill="#231f20" >decision</text>
<line x1="145.00" y1="340.60" x2="137.00" y2="331.80" stroke="#333" stroke-width="0.7" />
<polygon points="134.8,329.6 136.0,334.0 138.6,331.6" fill="#333"/>
<text x="161.70" y="413.70" font-size="6.9" text-anchor="start" font-weight="normal" font-style="normal" fill="#231f20" >Error</text>
<text x="156.70" y="421.90" font-size="6.9" text-anchor="start" font-weight="normal" font-style="normal" fill="#231f20" >decision</text>
<line x1="167.70" y1="425.30" x2="160.60" y2="436.00" stroke="#333" stroke-width="0.7" />
<polygon points="159.0,438.4 159.3,433.9 162.2,435.8" fill="#333"/>
<text x="72.30" y="448.30" font-size="6.9" text-anchor="start" font-weight="normal" font-style="normal" fill="#231f20" >Error RT</text>
<text x="68.70" y="456.90" font-size="6.9" text-anchor="start" font-weight="normal" font-style="normal" fill="#231f20" >distribution</text>
<defs><linearGradient id="tax" gradientUnits="userSpaceOnUse" x1="13" y1="0" x2="260" y2="0"><stop offset="0" stop-color="#111"/><stop offset="0.72" stop-color="#1a1a1a"/><stop offset="1" stop-color="#6a6a6a"/></linearGradient></defs>
<rect x="13" y="374.7" width="246.5" height="1.6" fill="url(#tax)"/>
<polyline points="255.60,372.90 260.40,375.50 255.60,378.10" fill="none" stroke="#6a6a6a" stroke-width="1.1" />
<text x="234.40" y="369.70" font-size="8.2" text-anchor="start" font-weight="normal" font-style="normal" fill="#231f20" >Time</text>
<line x1="18.60" y1="390.50" x2="18.60" y2="380.50" stroke="#111" stroke-width="1.3" />
<polygon points="18.6,378.2 16.3,383.4 20.9,383.4" fill="#111"/>
<line x1="173.90" y1="390.20" x2="173.90" y2="380.30" stroke="#333" stroke-width="1.3" />
<polygon points="173.9,377.9 171.6,383.1 176.2,383.1" fill="#333"/>
<text x="2.90" y="398.10" font-size="9.5" text-anchor="start" font-weight="normal" font-style="normal" fill="#231f20" >Stimulus</text>
<text x="145.20" y="399.10" font-size="6.8" text-anchor="start" font-weight="normal" font-style="normal" fill="#231f20" >(Correct)</text>
<text x="174.90" y="399.10" font-size="8.3" text-anchor="start" font-weight="normal" font-style="normal" fill="#231f20" >Response</text>
<text x="296.20" y="216.60" font-size="13.4" text-anchor="start" font-weight="bold" font-style="normal" fill="#000" >e</text>
<line x1="320.40" y1="221.50" x2="320.40" y2="321.80" stroke="#b4b4b4" stroke-width="0.9" />
<line x1="320.40" y1="321.50" x2="427.60" y2="321.50" stroke="#d0d0d0" stroke-width="0.9" />
<line x1="320.40" y1="304.90" x2="321.70" y2="304.90" stroke="#555" stroke-width="0.6" />
<line x1="320.40" y1="288.30" x2="321.70" y2="288.30" stroke="#555" stroke-width="0.6" />
<line x1="320.40" y1="271.70" x2="321.70" y2="271.70" stroke="#555" stroke-width="0.6" />
<line x1="320.40" y1="255.10" x2="321.70" y2="255.10" stroke="#555" stroke-width="0.6" />
<line x1="320.40" y1="238.50" x2="321.70" y2="238.50" stroke="#555" stroke-width="0.6" />
<line x1="320.40" y1="221.90" x2="321.70" y2="221.90" stroke="#555" stroke-width="0.6" />
<line x1="341.84" y1="321.50" x2="341.84" y2="320.20" stroke="#555" stroke-width="0.6" />
<line x1="363.28" y1="321.50" x2="363.28" y2="320.20" stroke="#555" stroke-width="0.6" />
<line x1="384.72" y1="321.50" x2="384.72" y2="320.20" stroke="#555" stroke-width="0.6" />
<line x1="406.16" y1="321.50" x2="406.16" y2="320.20" stroke="#555" stroke-width="0.6" />
<text x="320.40" y="331.80" font-size="8.0" text-anchor="middle" font-weight="normal" font-style="normal" fill="#231f20" >0</text>
<text x="341.84" y="331.80" font-size="8.0" text-anchor="middle" font-weight="normal" font-style="normal" fill="#231f20" >0.2</text>
<text x="363.28" y="331.80" font-size="8.0" text-anchor="middle" font-weight="normal" font-style="normal" fill="#231f20" >0.4</text>
<text x="384.72" y="331.80" font-size="8.0" text-anchor="middle" font-weight="normal" font-style="normal" fill="#231f20" >0.6</text>
<text x="406.16" y="331.80" font-size="8.0" text-anchor="middle" font-weight="normal" font-style="normal" fill="#231f20" >0.8</text>
<text x="427.60" y="331.80" font-size="8.0" text-anchor="middle" font-weight="normal" font-style="normal" fill="#231f20" >1</text>
<line x1="436.70" y1="221.50" x2="436.70" y2="321.80" stroke="#8a8a8a" stroke-width="0.9" />
<line x1="436.70" y1="321.50" x2="543.90" y2="321.50" stroke="#d0d0d0" stroke-width="0.9" />
<line x1="436.70" y1="304.90" x2="438.00" y2="304.90" stroke="#555" stroke-width="0.6" />
<line x1="436.70" y1="288.30" x2="438.00" y2="288.30" stroke="#555" stroke-width="0.6" />
<line x1="436.70" y1="271.70" x2="438.00" y2="271.70" stroke="#555" stroke-width="0.6" />
<line x1="436.70" y1="255.10" x2="438.00" y2="255.10" stroke="#555" stroke-width="0.6" />
<line x1="436.70" y1="238.50" x2="438.00" y2="238.50" stroke="#555" stroke-width="0.6" />
<line x1="436.70" y1="221.90" x2="438.00" y2="221.90" stroke="#555" stroke-width="0.6" />
<line x1="458.14" y1="321.50" x2="458.14" y2="320.20" stroke="#555" stroke-width="0.6" />
<line x1="479.58" y1="321.50" x2="479.58" y2="320.20" stroke="#555" stroke-width="0.6" />
<line x1="501.02" y1="321.50" x2="501.02" y2="320.20" stroke="#555" stroke-width="0.6" />
<line x1="522.46" y1="321.50" x2="522.46" y2="320.20" stroke="#555" stroke-width="0.6" />
<text x="436.70" y="331.80" font-size="8.0" text-anchor="middle" font-weight="normal" font-style="normal" fill="#231f20" >0</text>
<text x="458.14" y="331.80" font-size="8.0" text-anchor="middle" font-weight="normal" font-style="normal" fill="#231f20" >0.2</text>
<text x="479.58" y="331.80" font-size="8.0" text-anchor="middle" font-weight="normal" font-style="normal" fill="#231f20" >0.4</text>
<text x="501.02" y="331.80" font-size="8.0" text-anchor="middle" font-weight="normal" font-style="normal" fill="#231f20" >0.6</text>
<text x="522.46" y="331.80" font-size="8.0" text-anchor="middle" font-weight="normal" font-style="normal" fill="#231f20" >0.8</text>
<text x="543.90" y="331.80" font-size="8.0" text-anchor="middle" font-weight="normal" font-style="normal" fill="#231f20" >1</text>
<line x1="553.60" y1="221.50" x2="553.60" y2="321.80" stroke="#8a8a8a" stroke-width="0.9" />
<line x1="553.60" y1="321.50" x2="660.80" y2="321.50" stroke="#d0d0d0" stroke-width="0.9" />
<line x1="553.60" y1="304.90" x2="554.90" y2="304.90" stroke="#555" stroke-width="0.6" />
<line x1="553.60" y1="288.30" x2="554.90" y2="288.30" stroke="#555" stroke-width="0.6" />
<line x1="553.60" y1="271.70" x2="554.90" y2="271.70" stroke="#555" stroke-width="0.6" />
<line x1="553.60" y1="255.10" x2="554.90" y2="255.10" stroke="#555" stroke-width="0.6" />
<line x1="553.60" y1="238.50" x2="554.90" y2="238.50" stroke="#555" stroke-width="0.6" />
<line x1="553.60" y1="221.90" x2="554.90" y2="221.90" stroke="#555" stroke-width="0.6" />
<line x1="575.04" y1="321.50" x2="575.04" y2="320.20" stroke="#555" stroke-width="0.6" />
<line x1="596.48" y1="321.50" x2="596.48" y2="320.20" stroke="#555" stroke-width="0.6" />
<line x1="617.92" y1="321.50" x2="617.92" y2="320.20" stroke="#555" stroke-width="0.6" />
<line x1="639.36" y1="321.50" x2="639.36" y2="320.20" stroke="#555" stroke-width="0.6" />
<text x="553.60" y="331.80" font-size="8.0" text-anchor="middle" font-weight="normal" font-style="normal" fill="#231f20" >0</text>
<text x="575.04" y="331.80" font-size="8.0" text-anchor="middle" font-weight="normal" font-style="normal" fill="#231f20" >0.2</text>
<text x="596.48" y="331.80" font-size="8.0" text-anchor="middle" font-weight="normal" font-style="normal" fill="#231f20" >0.4</text>
<text x="617.92" y="331.80" font-size="8.0" text-anchor="middle" font-weight="normal" font-style="normal" fill="#231f20" >0.6</text>
<text x="639.36" y="331.80" font-size="8.0" text-anchor="middle" font-weight="normal" font-style="normal" fill="#231f20" >0.8</text>
<text x="660.80" y="331.80" font-size="8.0" text-anchor="middle" font-weight="normal" font-style="normal" fill="#231f20" >1</text>
<text x="316.00" y="324.30" font-size="8.0" text-anchor="end" font-weight="normal" font-style="normal" fill="#231f20" >0</text>
<text x="316.00" y="307.70" font-size="8.0" text-anchor="end" font-weight="normal" font-style="normal" fill="#231f20" >1</text>
<text x="316.00" y="291.10" font-size="8.0" text-anchor="end" font-weight="normal" font-style="normal" fill="#231f20" >2</text>
<text x="316.00" y="274.50" font-size="8.0" text-anchor="end" font-weight="normal" font-style="normal" fill="#231f20" >3</text>
<text x="316.00" y="257.90" font-size="8.0" text-anchor="end" font-weight="normal" font-style="normal" fill="#231f20" >4</text>
<text x="316.00" y="241.30" font-size="8.0" text-anchor="end" font-weight="normal" font-style="normal" fill="#231f20" >5</text>
<text x="316.00" y="224.70" font-size="8.0" text-anchor="end" font-weight="normal" font-style="normal" fill="#231f20" >6</text>
<text x="321.60" y="217.80" font-size="8.3" text-anchor="start" font-weight="normal" font-style="normal" fill="#231f20" >×10</text>
<text x="336.00" y="213.90" font-size="6.8" text-anchor="start" font-weight="normal" font-style="normal" fill="#231f20" >-3</text>
<text x="380.00" y="217.50" font-size="8.2" text-anchor="middle" font-weight="normal" font-style="normal" fill="#231f20" >FC</text>
<text x="496.60" y="217.50" font-size="8.2" text-anchor="middle" font-weight="normal" font-style="normal" fill="#231f20" >UC</text>
<text x="613.60" y="217.50" font-size="8.2" text-anchor="middle" font-weight="normal" font-style="normal" fill="#231f20" >UI</text>
<text x="490.90" y="345.00" font-size="8.2" text-anchor="middle" font-weight="normal" font-style="normal" fill="#231f20" >Initiation time (s)</text>
<text x="0.00" y="0.00" font-size="8.1" text-anchor="middle" font-weight="normal" font-style="normal" fill="#231f20" transform="translate(303.3,271.6) rotate(-90)">Probability</text>
<polyline points="320.40,321.50 322.80,321.51 326.33,321.54 330.26,321.56 333.88,321.55 336.48,321.50 337.85,321.48 338.46,321.51 338.63,321.47 338.68,321.23 338.95,320.67 339.40,319.83 339.84,318.80 340.28,317.51 340.72,315.88 341.20,313.86 341.70,311.42 342.23,308.58 342.77,305.41 343.32,301.96 343.88,298.26 344.44,294.21 345.00,289.79 345.57,285.14 346.16,280.44 346.77,275.85 347.42,271.15 348.09,266.23 348.78,261.42 349.45,257.05 350.09,253.44 350.71,250.69 351.32,248.59 351.91,246.98 352.47,245.72 352.99,244.64 353.45,243.77 353.85,243.22 354.24,242.94 354.62,242.93 355.03,243.15 355.45,243.62 355.88,244.37 356.32,245.36 356.78,246.57 357.28,247.96 357.81,249.62 358.37,251.57 358.95,253.68 359.55,255.84 360.17,257.92 360.81,259.90 361.46,261.86 362.14,263.83 362.82,265.88 363.49,268.05 364.18,270.35 364.86,272.75 365.56,275.23 366.24,277.77 366.92,280.33 367.58,282.97 368.21,285.68 368.84,288.43 369.51,291.14 370.25,293.78 371.06,296.40 371.91,299.05 372.82,301.61 373.76,303.99 374.75,306.06 375.78,307.79 376.85,309.23 377.97,310.47 379.12,311.60 380.32,312.70 381.57,313.76 382.85,314.72 384.18,315.60 385.55,316.42 386.97,317.18 388.40,317.91 389.85,318.58 391.36,319.19 392.99,319.73 394.80,320.17 396.68,320.51 398.60,320.75 400.72,320.91 403.19,321.04 406.16,321.17 410.15,321.28 415.04,321.36 420.08,321.42 424.52,321.47 427.60,321.50" fill="none" stroke="#f0524d" stroke-width="0.95" stroke-linejoin="round"/>
<polyline points="320.40,321.50 322.64,321.51 325.93,321.54 329.60,321.56 332.98,321.55 335.41,321.50 336.69,321.48 337.26,321.51 337.43,321.47 337.50,321.23 337.77,320.67 338.22,319.90 338.66,319.02 339.11,317.83 339.59,316.17 340.12,313.86 340.74,310.73 341.42,306.90 342.12,302.62 342.81,298.16 343.45,293.78 344.02,289.48 344.56,285.08 345.07,280.60 345.59,276.03 346.13,271.37 346.69,266.43 347.27,261.21 347.85,256.00 348.44,251.10 349.02,246.80 349.61,243.10 350.21,239.80 350.81,236.91 351.38,234.43 351.92,232.36 352.41,230.70 352.86,229.45 353.30,228.62 353.73,228.20 354.17,228.21 354.61,228.67 355.05,229.59 355.50,230.91 355.95,232.57 356.42,234.52 356.90,236.79 357.38,239.43 357.89,242.37 358.42,245.57 358.99,248.96 359.62,252.64 360.31,256.65 361.02,260.84 361.73,265.08 362.42,269.21 363.08,273.33 363.72,277.53 364.37,281.68 365.03,285.64 365.75,289.30 366.50,292.63 367.28,295.74 368.09,298.63 368.94,301.29 369.82,303.74 370.74,305.98 371.70,308.01 372.69,309.82 373.71,311.39 374.75,312.70 375.82,313.66 376.93,314.27 378.06,314.69 379.20,315.06 380.32,315.52 381.39,316.10 382.40,316.68 383.43,317.25 384.57,317.81 385.90,318.35 387.43,318.87 389.10,319.39 390.90,319.88 392.81,320.32 394.80,320.67 396.75,320.92 398.68,321.08 400.77,321.18 403.20,321.26 406.16,321.33 410.15,321.40 415.04,321.44 420.08,321.47 424.52,321.49 427.60,321.50" fill="none" stroke="#3f9bd9" stroke-width="0.95" stroke-linejoin="round"/>
<polyline points="436.70,321.50 439.90,321.52 444.57,321.55 449.79,321.57 454.63,321.56 458.14,321.50 460.07,321.44 461.03,321.40 461.43,321.28 461.65,321.02 462.11,320.50 462.77,319.78 463.38,318.89 463.95,317.81 464.52,316.48 465.11,314.86 465.71,312.91 466.30,310.67 466.90,308.19 467.50,305.52 468.11,302.74 468.73,299.84 469.35,296.79 469.98,293.57 470.60,290.19 471.22,286.64 471.83,282.82 472.43,278.74 473.02,274.54 473.62,270.38 474.22,266.39 474.83,262.46 475.45,258.49 476.07,254.67 476.66,251.15 477.22,248.13 477.74,245.63 478.24,243.53 478.71,241.79 479.16,240.35 479.58,239.16 479.96,238.25 480.30,237.65 480.62,237.32 480.94,237.23 481.30,237.34 481.67,237.59 482.04,238.01 482.43,238.69 482.86,239.71 483.33,241.16 483.87,243.14 484.46,245.59 485.09,248.36 485.72,251.31 486.33,254.27 486.93,257.32 487.53,260.54 488.13,263.86 488.73,267.17 489.34,270.37 489.95,273.52 490.58,276.68 491.20,279.77 491.83,282.73 492.44,285.48 493.07,288.07 493.70,290.55 494.33,292.84 494.92,294.89 495.45,296.60 495.89,297.91 496.27,298.87 496.62,299.58 496.97,300.17 497.38,300.75 497.82,301.24 498.27,301.56 498.74,301.83 499.26,302.19 499.84,302.74 500.47,303.54 501.15,304.49 501.87,305.55 502.65,306.65 503.49,307.72 504.37,308.80 505.30,309.92 506.30,311.04 507.36,312.15 508.52,313.20 509.79,314.22 511.17,315.22 512.61,316.18 514.10,317.07 515.60,317.85 517.09,318.51 518.60,319.08 520.16,319.57 521.79,319.98 523.53,320.34 525.42,320.62 527.44,320.81 529.53,320.95 531.64,321.06 533.72,321.17 535.92,321.27 538.28,321.35 540.56,321.42 542.51,321.46 543.90,321.50" fill="none" stroke="#f0524d" stroke-width="0.95" stroke-linejoin="round"/>
<polyline points="436.70,321.50 439.91,321.52 444.62,321.55 449.86,321.57 454.69,321.56 458.14,321.50 459.92,321.44 460.67,321.40 460.83,321.28 460.84,321.02 461.14,320.50 461.74,319.78 462.34,318.89 462.94,317.81 463.54,316.48 464.14,314.86 464.74,312.88 465.34,310.57 465.94,308.04 466.54,305.40 467.14,302.74 467.75,300.11 468.35,297.44 468.95,294.67 469.55,291.75 470.15,288.63 470.76,285.21 471.37,281.52 471.99,277.72 472.58,273.95 473.15,270.37 473.68,266.95 474.19,263.58 474.68,260.32 475.16,257.20 475.61,254.27 476.05,251.43 476.46,248.67 476.86,246.10 477.26,243.89 477.65,242.15 478.03,240.94 478.39,240.15 478.76,239.74 479.15,239.65 479.58,239.83 480.06,240.31 480.58,241.12 481.13,242.23 481.69,243.58 482.26,245.14 482.84,246.94 483.44,249.03 484.05,251.32 484.66,253.75 485.26,256.26 485.86,258.89 486.46,261.69 487.05,264.58 487.66,267.50 488.26,270.37 488.88,273.23 489.50,276.11 490.13,278.98 490.76,281.79 491.37,284.48 491.98,287.10 492.58,289.66 493.18,292.14 493.77,294.46 494.37,296.60 494.96,298.50 495.52,300.19 496.09,301.74 496.70,303.23 497.38,304.73 498.11,306.26 498.88,307.76 499.70,309.22 500.58,310.60 501.56,311.87 502.61,313.04 503.73,314.11 504.92,315.11 506.20,316.02 507.56,316.85 509.00,317.61 510.53,318.29 512.14,318.88 513.83,319.40 515.60,319.84 517.35,320.17 519.09,320.40 520.96,320.56 523.11,320.69 525.68,320.84 529.09,321.00 533.25,321.16 537.53,321.30 541.29,321.42 543.90,321.50" fill="none" stroke="#3f9bd9" stroke-width="0.95" stroke-linejoin="round"/>
<polyline points="553.60,321.50 557.63,321.51 563.55,321.54 570.13,321.56 576.15,321.55 580.40,321.50 582.48,321.42 583.21,321.32 583.17,321.19 582.93,320.98 583.08,320.67 583.61,320.28 584.14,319.81 584.67,319.26 585.21,318.61 585.76,317.85 586.31,317.07 586.87,316.28 587.44,315.33 588.03,314.08 588.65,312.37 589.32,310.08 590.02,307.33 590.74,304.27 591.47,301.08 592.19,297.93 592.93,294.73 593.69,291.38 594.44,287.99 595.17,284.71 595.84,281.66 596.43,278.85 596.98,276.18 597.49,273.66 598.00,271.29 598.52,269.04 599.05,266.91 599.58,264.89 600.12,263.03 600.65,261.35 601.20,259.91 601.76,258.75 602.33,257.82 602.91,257.09 603.47,256.47 603.98,255.93 604.45,255.40 604.88,254.93 605.29,254.59 605.70,254.45 606.13,254.60 606.58,255.13 607.04,255.98 607.51,257.01 607.99,258.09 608.49,259.08 608.99,259.85 609.49,260.49 610.01,261.19 610.56,262.15 611.17,263.57 611.82,265.60 612.51,268.11 613.25,270.86 614.01,273.63 614.81,276.18 615.64,278.48 616.50,280.69 617.40,282.85 618.34,284.98 619.31,287.14 620.33,289.33 621.39,291.55 622.49,293.74 623.62,295.88 624.78,297.93 625.98,299.91 627.21,301.83 628.47,303.69 629.77,305.44 631.11,307.06 632.46,308.53 633.82,309.87 635.23,311.11 636.71,312.27 638.29,313.37 639.99,314.41 641.79,315.37 643.66,316.26 645.55,317.09 647.40,317.85 649.30,318.56 651.28,319.22 653.21,319.80 655.00,320.29 656.51,320.67 657.75,320.90 658.78,321.00 659.63,321.01 660.29,321.00 660.80,321.00" fill="none" stroke="#f0524d" stroke-width="0.95" stroke-linejoin="round"/>
<polyline points="553.60,321.50 557.46,321.51 563.13,321.54 569.45,321.56 575.23,321.55 579.33,321.50 581.38,321.43 582.15,321.35 582.19,321.22 582.04,321.01 582.22,320.67 582.75,320.19 583.25,319.60 583.75,318.92 584.22,318.16 584.69,317.35 585.12,316.61 585.50,315.93 585.89,315.12 586.32,314.00 586.83,312.37 587.45,310.12 588.14,307.36 588.88,304.29 589.63,301.08 590.37,297.93 591.11,294.68 591.87,291.21 592.62,287.74 593.35,284.49 594.01,281.66 594.61,279.40 595.16,277.57 595.67,275.96 596.17,274.35 596.69,272.53 597.23,270.37 597.78,268.01 598.32,265.66 598.85,263.50 599.37,261.74 599.89,260.39 600.41,259.31 600.92,258.49 601.40,257.92 601.84,257.59 602.23,257.61 602.57,257.98 602.90,258.55 603.22,259.14 603.56,259.58 603.91,259.88 604.28,260.13 604.64,260.35 605.01,260.56 605.38,260.74 605.71,260.74 606.00,260.54 606.32,260.41 606.70,260.61 607.20,261.41 607.85,262.94 608.61,265.03 609.44,267.47 610.30,270.04 611.17,272.53 612.06,275.04 613.02,277.72 613.97,280.41 614.88,282.94 615.67,285.15 616.29,286.95 616.78,288.45 617.23,289.78 617.72,291.07 618.35,292.45 619.12,293.90 619.97,295.33 620.90,296.77 621.90,298.24 622.96,299.75 624.10,301.36 625.32,303.04 626.61,304.73 627.94,306.36 629.28,307.89 630.66,309.31 632.09,310.67 633.54,311.95 635.01,313.13 636.47,314.20 637.83,315.11 639.11,315.89 640.44,316.57 641.95,317.21 643.76,317.85 646.09,318.51 648.87,319.16 651.76,319.76 654.42,320.28 656.51,320.67 657.98,320.90 659.04,321.00 659.80,321.01 660.35,321.00 660.80,321.00" fill="none" stroke="#3f9bd9" stroke-width="0.95" stroke-linejoin="round"/>
<text x="290.60" y="362.10" font-size="13.0" text-anchor="start" font-weight="bold" font-style="normal" fill="#000" >f</text>
<line x1="318.80" y1="363.50" x2="318.80" y2="457.90" stroke="#333" stroke-width="1.2" />
<line x1="318.20" y1="457.30" x2="411.70" y2="457.30" stroke="#333" stroke-width="1.2" />
<line x1="317.20" y1="370.30" x2="318.80" y2="370.30" stroke="#333" stroke-width="0.9" />
<text x="313.30" y="372.32" font-size="5.6" text-anchor="end" font-weight="normal" font-style="normal" fill="#231f20" >1.6</text>
<line x1="317.20" y1="391.60" x2="318.80" y2="391.60" stroke="#333" stroke-width="0.9" />
<text x="313.30" y="393.62" font-size="5.6" text-anchor="end" font-weight="normal" font-style="normal" fill="#231f20" >1.4</text>
<line x1="317.20" y1="413.20" x2="318.80" y2="413.20" stroke="#333" stroke-width="0.9" />
<text x="313.30" y="415.22" font-size="5.6" text-anchor="end" font-weight="normal" font-style="normal" fill="#231f20" >1.2</text>
<line x1="317.20" y1="434.60" x2="318.80" y2="434.60" stroke="#333" stroke-width="0.9" />
<text x="313.30" y="436.62" font-size="5.6" text-anchor="end" font-weight="normal" font-style="normal" fill="#231f20" >1.0</text>
<line x1="317.20" y1="456.30" x2="318.80" y2="456.30" stroke="#333" stroke-width="0.9" />
<text x="313.30" y="458.32" font-size="5.6" text-anchor="end" font-weight="normal" font-style="normal" fill="#231f20" >0.8</text>
<line x1="337.20" y1="457.30" x2="337.20" y2="459.10" stroke="#333" stroke-width="0.9" />
<text x="337.20" y="469.20" font-size="7.8" text-anchor="middle" font-weight="normal" font-style="normal" fill="#231f20" >FC</text>
<line x1="366.30" y1="457.30" x2="366.30" y2="459.10" stroke="#333" stroke-width="0.9" />
<text x="366.30" y="469.20" font-size="7.8" text-anchor="middle" font-weight="normal" font-style="normal" fill="#231f20" >UC</text>
<line x1="396.20" y1="457.30" x2="396.20" y2="459.10" stroke="#333" stroke-width="0.9" />
<text x="396.20" y="469.20" font-size="7.8" text-anchor="middle" font-weight="normal" font-style="normal" fill="#231f20" >UI</text>
<line x1="452.90" y1="363.50" x2="452.90" y2="458.10" stroke="#333" stroke-width="1.2" />
<line x1="452.30" y1="457.50" x2="547.90" y2="457.50" stroke="#333" stroke-width="1.2" />
<line x1="451.30" y1="382.90" x2="452.90" y2="382.90" stroke="#333" stroke-width="0.9" />
<text x="447.00" y="385.78" font-size="8.0" text-anchor="end" font-weight="normal" font-style="normal" fill="#231f20" >4.5</text>
<line x1="451.30" y1="404.20" x2="452.90" y2="404.20" stroke="#333" stroke-width="0.9" />
<text x="447.00" y="407.08" font-size="8.0" text-anchor="end" font-weight="normal" font-style="normal" fill="#231f20" >4.0</text>
<line x1="451.30" y1="425.50" x2="452.90" y2="425.50" stroke="#333" stroke-width="0.9" />
<text x="447.00" y="428.38" font-size="8.0" text-anchor="end" font-weight="normal" font-style="normal" fill="#231f20" >3.5</text>
<line x1="451.30" y1="446.50" x2="452.90" y2="446.50" stroke="#333" stroke-width="0.9" />
<text x="447.00" y="449.38" font-size="8.0" text-anchor="end" font-weight="normal" font-style="normal" fill="#231f20" >3.0</text>
<line x1="470.80" y1="457.50" x2="470.80" y2="459.30" stroke="#333" stroke-width="0.9" />
<text x="470.80" y="469.20" font-size="7.8" text-anchor="middle" font-weight="normal" font-style="normal" fill="#231f20" >FC</text>
<line x1="500.90" y1="457.50" x2="500.90" y2="459.30" stroke="#333" stroke-width="0.9" />
<text x="500.90" y="469.20" font-size="7.8" text-anchor="middle" font-weight="normal" font-style="normal" fill="#231f20" >UC</text>
<line x1="530.40" y1="457.50" x2="530.40" y2="459.30" stroke="#333" stroke-width="0.9" />
<text x="530.40" y="469.20" font-size="7.8" text-anchor="middle" font-weight="normal" font-style="normal" fill="#231f20" >UI</text>
<line x1="592.60" y1="363.50" x2="592.60" y2="457.80" stroke="#333" stroke-width="1.2" />
<line x1="592.00" y1="457.20" x2="684.00" y2="457.20" stroke="#333" stroke-width="1.2" />
<line x1="591.00" y1="381.50" x2="592.60" y2="381.50" stroke="#333" stroke-width="0.9" />
<text x="586.60" y="384.38" font-size="8.0" text-anchor="end" font-weight="normal" font-style="normal" fill="#231f20" >0.35</text>
<line x1="591.00" y1="405.90" x2="592.60" y2="405.90" stroke="#333" stroke-width="0.9" />
<text x="586.60" y="408.78" font-size="8.0" text-anchor="end" font-weight="normal" font-style="normal" fill="#231f20" >0.30</text>
<line x1="591.00" y1="430.30" x2="592.60" y2="430.30" stroke="#333" stroke-width="0.9" />
<text x="586.60" y="433.18" font-size="8.0" text-anchor="end" font-weight="normal" font-style="normal" fill="#231f20" >0.25</text>
<line x1="591.00" y1="454.90" x2="592.60" y2="454.90" stroke="#333" stroke-width="0.9" />
<text x="586.60" y="457.78" font-size="8.0" text-anchor="end" font-weight="normal" font-style="normal" fill="#231f20" >0.20</text>
<line x1="610.20" y1="457.20" x2="610.20" y2="459.00" stroke="#333" stroke-width="0.9" />
<text x="610.20" y="469.20" font-size="7.8" text-anchor="middle" font-weight="normal" font-style="normal" fill="#231f20" >FC</text>
<line x1="639.10" y1="457.20" x2="639.10" y2="459.00" stroke="#333" stroke-width="0.9" />
<text x="639.10" y="469.20" font-size="7.8" text-anchor="middle" font-weight="normal" font-style="normal" fill="#231f20" >UC</text>
<line x1="668.00" y1="457.20" x2="668.00" y2="459.00" stroke="#333" stroke-width="0.9" />
<text x="668.00" y="469.20" font-size="7.8" text-anchor="middle" font-weight="normal" font-style="normal" fill="#231f20" >UI</text>
<line x1="331.25" y1="420.20" x2="331.25" y2="427.10" stroke="#ec5a61" stroke-width="1.0" opacity="0.85"/>
<line x1="331.25" y1="431.30" x2="331.25" y2="437.40" stroke="#ec5a61" stroke-width="1.0" opacity="0.85"/>
<rect x="326.40" y="427.10" width="9.70" height="4.20" rx="0" fill="#f9cfd2" stroke="#ec5a61" stroke-width="0.9" />
<line x1="326.40" y1="428.15" x2="336.10" y2="428.15" stroke="#ec5a61" stroke-width="0.5" opacity="0.6"/>
<line x1="326.40" y1="430.25" x2="336.10" y2="430.25" stroke="#ec5a61" stroke-width="0.5" opacity="0.6"/>
<line x1="326.40" y1="429.10" x2="336.10" y2="429.10" stroke="#e8343c" stroke-width="1.15" />
<line x1="342.45" y1="436.30" x2="342.45" y2="441.10" stroke="#74acdc" stroke-width="1.0" opacity="0.85"/>
<line x1="342.45" y1="444.70" x2="342.45" y2="449.50" stroke="#74acdc" stroke-width="1.0" opacity="0.85"/>
<rect x="337.50" y="441.10" width="9.90" height="3.60" rx="0" fill="#cfe2f3" stroke="#74acdc" stroke-width="0.9" />
<line x1="337.50" y1="442.00" x2="347.40" y2="442.00" stroke="#74acdc" stroke-width="0.5" opacity="0.6"/>
<line x1="337.50" y1="443.80" x2="347.40" y2="443.80" stroke="#74acdc" stroke-width="0.5" opacity="0.6"/>
<line x1="337.50" y1="442.90" x2="347.40" y2="442.90" stroke="#3b86c6" stroke-width="1.15" />
<line x1="360.85" y1="401.40" x2="360.85" y2="411.40" stroke="#ec5a61" stroke-width="1.0" opacity="0.85"/>
<line x1="360.85" y1="418.00" x2="360.85" y2="427.10" stroke="#ec5a61" stroke-width="1.0" opacity="0.85"/>
<rect x="356.00" y="411.40" width="9.70" height="6.60" rx="0" fill="#f9cfd2" stroke="#ec5a61" stroke-width="0.9" />
<line x1="356.00" y1="413.05" x2="365.70" y2="413.05" stroke="#ec5a61" stroke-width="0.5" opacity="0.6"/>
<line x1="356.00" y1="416.35" x2="365.70" y2="416.35" stroke="#ec5a61" stroke-width="0.5" opacity="0.6"/>
<line x1="356.00" y1="414.10" x2="365.70" y2="414.10" stroke="#e8343c" stroke-width="1.15" />
<line x1="372.10" y1="391.20" x2="372.10" y2="404.20" stroke="#74acdc" stroke-width="1.0" opacity="0.85"/>
<line x1="372.10" y1="413.30" x2="372.10" y2="426.30" stroke="#74acdc" stroke-width="1.0" opacity="0.85"/>
<rect x="367.00" y="404.20" width="10.20" height="9.10" rx="0" fill="#cfe2f3" stroke="#74acdc" stroke-width="0.9" />
<line x1="367.00" y1="406.48" x2="377.20" y2="406.48" stroke="#74acdc" stroke-width="0.5" opacity="0.6"/>
<line x1="367.00" y1="411.02" x2="377.20" y2="411.02" stroke="#74acdc" stroke-width="0.5" opacity="0.6"/>
<line x1="367.00" y1="408.60" x2="377.20" y2="408.60" stroke="#3b86c6" stroke-width="1.15" />
<line x1="390.70" y1="396.20" x2="390.70" y2="405.00" stroke="#ec5a61" stroke-width="1.0" opacity="0.85"/>
<line x1="390.70" y1="411.40" x2="390.70" y2="420.80" stroke="#ec5a61" stroke-width="1.0" opacity="0.85"/>
<rect x="385.80" y="405.00" width="9.80" height="6.40" rx="0" fill="#f9cfd2" stroke="#ec5a61" stroke-width="0.9" />
<line x1="385.80" y1="406.60" x2="395.60" y2="406.60" stroke="#ec5a61" stroke-width="0.5" opacity="0.6"/>
<line x1="385.80" y1="409.80" x2="395.60" y2="409.80" stroke="#ec5a61" stroke-width="0.5" opacity="0.6"/>
<line x1="385.80" y1="407.80" x2="395.60" y2="407.80" stroke="#e8343c" stroke-width="1.15" />
<line x1="401.75" y1="408.60" x2="401.75" y2="415.20" stroke="#74acdc" stroke-width="1.0" opacity="0.85"/>
<line x1="401.75" y1="419.70" x2="401.75" y2="425.80" stroke="#74acdc" stroke-width="1.0" opacity="0.85"/>
<rect x="396.90" y="415.20" width="9.70" height="4.50" rx="0" fill="#cfe2f3" stroke="#74acdc" stroke-width="0.9" />
<line x1="396.90" y1="416.32" x2="406.60" y2="416.32" stroke="#74acdc" stroke-width="0.5" opacity="0.6"/>
<line x1="396.90" y1="418.57" x2="406.60" y2="418.57" stroke="#74acdc" stroke-width="0.5" opacity="0.6"/>
<line x1="396.90" y1="417.50" x2="406.60" y2="417.50" stroke="#3b86c6" stroke-width="1.15" />
<line x1="465.05" y1="418.80" x2="465.05" y2="425.80" stroke="#ec5a61" stroke-width="1.0" opacity="0.85"/>
<line x1="465.05" y1="430.70" x2="465.05" y2="438.20" stroke="#ec5a61" stroke-width="1.0" opacity="0.85"/>
<rect x="460.20" y="425.80" width="9.70" height="4.90" rx="0" fill="#f9cfd2" stroke="#ec5a61" stroke-width="0.9" />
<line x1="460.20" y1="427.02" x2="469.90" y2="427.02" stroke="#ec5a61" stroke-width="0.5" opacity="0.6"/>
<line x1="460.20" y1="429.48" x2="469.90" y2="429.48" stroke="#ec5a61" stroke-width="0.5" opacity="0.6"/>
<line x1="460.20" y1="428.00" x2="469.90" y2="428.00" stroke="#e8343c" stroke-width="1.15" />
<line x1="476.45" y1="427.10" x2="476.45" y2="434.90" stroke="#74acdc" stroke-width="1.0" opacity="0.85"/>
<line x1="476.45" y1="440.10" x2="476.45" y2="447.90" stroke="#74acdc" stroke-width="1.0" opacity="0.85"/>
<rect x="471.60" y="434.90" width="9.70" height="5.20" rx="0" fill="#cfe2f3" stroke="#74acdc" stroke-width="0.9" />
<line x1="471.60" y1="436.20" x2="481.30" y2="436.20" stroke="#74acdc" stroke-width="0.5" opacity="0.6"/>
<line x1="471.60" y1="438.80" x2="481.30" y2="438.80" stroke="#74acdc" stroke-width="0.5" opacity="0.6"/>
<line x1="471.60" y1="437.40" x2="481.30" y2="437.40" stroke="#3b86c6" stroke-width="1.15" />
<line x1="495.20" y1="404.50" x2="495.20" y2="412.50" stroke="#ec5a61" stroke-width="1.0" opacity="0.85"/>
<line x1="495.20" y1="418.00" x2="495.20" y2="425.80" stroke="#ec5a61" stroke-width="1.0" opacity="0.85"/>
<rect x="490.60" y="412.50" width="9.20" height="5.50" rx="0" fill="#f9cfd2" stroke="#ec5a61" stroke-width="0.9" />
<line x1="490.60" y1="413.88" x2="499.80" y2="413.88" stroke="#ec5a61" stroke-width="0.5" opacity="0.6"/>
<line x1="490.60" y1="416.62" x2="499.80" y2="416.62" stroke="#ec5a61" stroke-width="0.5" opacity="0.6"/>
<line x1="490.60" y1="415.00" x2="499.80" y2="415.00" stroke="#e8343c" stroke-width="1.15" />
<line x1="506.55" y1="380.10" x2="506.55" y2="389.80" stroke="#74acdc" stroke-width="1.0" opacity="0.85"/>
<line x1="506.55" y1="396.70" x2="506.55" y2="406.40" stroke="#74acdc" stroke-width="1.0" opacity="0.85"/>
<rect x="501.70" y="389.80" width="9.70" height="6.90" rx="0" fill="#cfe2f3" stroke="#74acdc" stroke-width="0.9" />
<line x1="501.70" y1="391.52" x2="511.40" y2="391.52" stroke="#74acdc" stroke-width="0.5" opacity="0.6"/>
<line x1="501.70" y1="394.98" x2="511.40" y2="394.98" stroke="#74acdc" stroke-width="0.5" opacity="0.6"/>
<line x1="501.70" y1="393.10" x2="511.40" y2="393.10" stroke="#3b86c6" stroke-width="1.15" />
<line x1="524.70" y1="418.80" x2="524.70" y2="425.80" stroke="#ec5a61" stroke-width="1.0" opacity="0.85"/>
<line x1="524.70" y1="430.70" x2="524.70" y2="437.40" stroke="#ec5a61" stroke-width="1.0" opacity="0.85"/>
<rect x="520.00" y="425.80" width="9.40" height="4.90" rx="0" fill="#f9cfd2" stroke="#ec5a61" stroke-width="0.9" />
<line x1="520.00" y1="427.02" x2="529.40" y2="427.02" stroke="#ec5a61" stroke-width="0.5" opacity="0.6"/>
<line x1="520.00" y1="429.48" x2="529.40" y2="429.48" stroke="#ec5a61" stroke-width="0.5" opacity="0.6"/>
<line x1="520.00" y1="428.00" x2="529.40" y2="428.00" stroke="#e8343c" stroke-width="1.15" />
<line x1="535.85" y1="431.80" x2="535.85" y2="438.20" stroke="#74acdc" stroke-width="1.0" opacity="0.85"/>
<line x1="535.85" y1="442.40" x2="535.85" y2="448.40" stroke="#74acdc" stroke-width="1.0" opacity="0.85"/>
<rect x="531.00" y="438.20" width="9.70" height="4.20" rx="0" fill="#cfe2f3" stroke="#74acdc" stroke-width="0.9" />
<line x1="531.00" y1="439.25" x2="540.70" y2="439.25" stroke="#74acdc" stroke-width="0.5" opacity="0.6"/>
<line x1="531.00" y1="441.35" x2="540.70" y2="441.35" stroke="#74acdc" stroke-width="0.5" opacity="0.6"/>
<line x1="531.00" y1="440.10" x2="540.70" y2="440.10" stroke="#3b86c6" stroke-width="1.15" />
<line x1="604.65" y1="439.10" x2="604.65" y2="442.10" stroke="#ec5a61" stroke-width="1.0" opacity="0.85"/>
<line x1="604.65" y1="444.90" x2="604.65" y2="447.90" stroke="#ec5a61" stroke-width="1.0" opacity="0.85"/>
<rect x="600.20" y="442.10" width="8.90" height="2.80" rx="0" fill="#f9cfd2" stroke="#ec5a61" stroke-width="0.9" />
<line x1="600.20" y1="443.50" x2="609.10" y2="443.50" stroke="#e8343c" stroke-width="1.15" />
<line x1="615.55" y1="440.40" x2="615.55" y2="443.50" stroke="#74acdc" stroke-width="1.0" opacity="0.85"/>
<line x1="615.55" y1="446.30" x2="615.55" y2="449.30" stroke="#74acdc" stroke-width="1.0" opacity="0.85"/>
<rect x="611.00" y="443.50" width="9.10" height="2.80" rx="0" fill="#cfe2f3" stroke="#74acdc" stroke-width="0.9" />
<line x1="611.00" y1="444.90" x2="620.10" y2="444.90" stroke="#3b86c6" stroke-width="1.15" />
<line x1="633.40" y1="401.40" x2="633.40" y2="405.00" stroke="#ec5a61" stroke-width="1.0" opacity="0.85"/>
<line x1="633.40" y1="408.60" x2="633.40" y2="413.30" stroke="#ec5a61" stroke-width="1.0" opacity="0.85"/>
<rect x="629.00" y="405.00" width="8.80" height="3.60" rx="0" fill="#f9cfd2" stroke="#ec5a61" stroke-width="0.9" />
<line x1="629.00" y1="405.90" x2="637.80" y2="405.90" stroke="#ec5a61" stroke-width="0.5" opacity="0.6"/>
<line x1="629.00" y1="407.70" x2="637.80" y2="407.70" stroke="#ec5a61" stroke-width="0.5" opacity="0.6"/>
<line x1="629.00" y1="406.70" x2="637.80" y2="406.70" stroke="#e8343c" stroke-width="1.15" />
<line x1="644.50" y1="404.20" x2="644.50" y2="409.20" stroke="#74acdc" stroke-width="1.0" opacity="0.85"/>
<line x1="644.50" y1="413.60" x2="644.50" y2="418.90" stroke="#74acdc" stroke-width="1.0" opacity="0.85"/>
<rect x="639.80" y="409.20" width="9.40" height="4.40" rx="0" fill="#cfe2f3" stroke="#74acdc" stroke-width="0.9" />
<line x1="639.80" y1="410.30" x2="649.20" y2="410.30" stroke="#74acdc" stroke-width="0.5" opacity="0.6"/>
<line x1="639.80" y1="412.50" x2="649.20" y2="412.50" stroke="#74acdc" stroke-width="0.5" opacity="0.6"/>
<line x1="639.80" y1="411.40" x2="649.20" y2="411.40" stroke="#3b86c6" stroke-width="1.15" />
<line x1="662.20" y1="369.90" x2="662.20" y2="374.60" stroke="#ec5a61" stroke-width="1.0" opacity="0.85"/>
<line x1="662.20" y1="378.20" x2="662.20" y2="382.90" stroke="#ec5a61" stroke-width="1.0" opacity="0.85"/>
<rect x="657.50" y="374.60" width="9.40" height="3.60" rx="0" fill="#f9cfd2" stroke="#ec5a61" stroke-width="0.9" />
<line x1="657.50" y1="375.50" x2="666.90" y2="375.50" stroke="#ec5a61" stroke-width="0.5" opacity="0.6"/>
<line x1="657.50" y1="377.30" x2="666.90" y2="377.30" stroke="#ec5a61" stroke-width="0.5" opacity="0.6"/>
<line x1="657.50" y1="376.20" x2="666.90" y2="376.20" stroke="#e8343c" stroke-width="1.15" />
<line x1="673.25" y1="381.50" x2="673.25" y2="384.80" stroke="#74acdc" stroke-width="1.0" opacity="0.85"/>
<line x1="673.25" y1="388.10" x2="673.25" y2="392.00" stroke="#74acdc" stroke-width="1.0" opacity="0.85"/>
<rect x="668.80" y="384.80" width="8.90" height="3.30" rx="0" fill="#cfe2f3" stroke="#74acdc" stroke-width="0.9" />
<line x1="668.80" y1="385.62" x2="677.70" y2="385.62" stroke="#74acdc" stroke-width="0.5" opacity="0.6"/>
<line x1="668.80" y1="387.28" x2="677.70" y2="387.28" stroke="#74acdc" stroke-width="0.5" opacity="0.6"/>
<line x1="668.80" y1="386.50" x2="677.70" y2="386.50" stroke="#3b86c6" stroke-width="1.15" />
<polyline points="326.80,412.20 326.80,410.60 346.70,410.60 346.70,412.20" fill="none" stroke="#8a8a8a" stroke-width="0.8" />
<text x="336.60" y="409.30" font-size="8.0" text-anchor="middle" font-weight="normal" font-style="normal" fill="#000" letter-spacing="0.7">**</text>
<polyline points="490.20,373.00 490.20,371.40 509.90,371.40 509.90,373.00" fill="none" stroke="#8a8a8a" stroke-width="0.8" />
<text x="499.90" y="370.10" font-size="8.0" text-anchor="middle" font-weight="normal" font-style="normal" fill="#000" letter-spacing="0.7">**</text>
<polyline points="521.50,412.20 521.50,410.60 541.70,410.60 541.70,412.20" fill="none" stroke="#8a8a8a" stroke-width="0.8" />
<text x="531.40" y="409.30" font-size="8.0" text-anchor="middle" font-weight="normal" font-style="normal" fill="#000" >*</text>
<polyline points="657.10,368.50 657.10,366.90 677.30,366.90 677.30,368.50" fill="none" stroke="#8a8a8a" stroke-width="0.8" />
<text x="667.40" y="365.60" font-size="8.0" text-anchor="middle" font-weight="normal" font-style="normal" fill="#000" letter-spacing="0.7">**</text>
<text font-size="9.2" text-anchor="middle" fill="#231f20" transform="translate(299.0,409.4) rotate(-90)">Threshold <tspan font-style="italic">a</tspan> (a.u.)</text>
<text font-size="9.1" text-anchor="middle" fill="#231f20" transform="translate(428.4,410.2) rotate(-90)">Drift <tspan font-style="italic">v</tspan> (a.u./s)</text>
<text font-size="8.9" text-anchor="middle" fill="#231f20" transform="translate(561.3,410.0) rotate(-90)">Non-decision time <tspan font-style="italic">T</tspan><tspan font-size="5.6" dy="1.8">er</tspan><tspan dy="-1.8"> (s)</tspan></text>
</svg>
</body></html>
